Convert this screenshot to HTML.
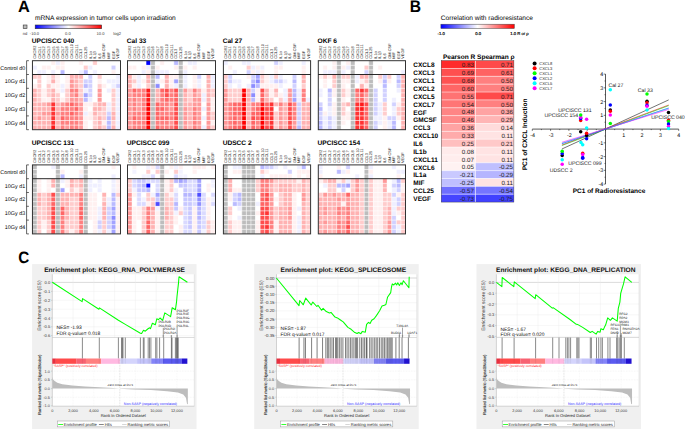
<!DOCTYPE html>
<html><head><meta charset="utf-8"><style>
html,body{margin:0;padding:0;background:#fff;overflow:hidden}
svg{display:block;font-family:"Liberation Sans",sans-serif;text-rendering:geometricPrecision}
</style></head><body>
<svg width="685" height="429" viewBox="0 0 685 429">
<text x="17.9" y="11.6" font-size="16.4" font-weight="bold" fill="#000">A</text>
<text x="35" y="19.8" font-size="6.6" fill="#000">mRNA expression in tumor cells upon irradiation</text>
<rect x="23.2" y="25" width="3.8" height="3.6" fill="#bbb" stroke="#333" stroke-width="0.6"/>
<defs><linearGradient id="gA" x1="0" x2="1" y1="0" y2="0"><stop offset="0" stop-color="#0000ff"/><stop offset="0.5" stop-color="#ffffff"/><stop offset="1" stop-color="#ff0000"/></linearGradient></defs>
<rect x="35.2" y="25" width="66.4" height="3.7" fill="url(#gA)" stroke="#333" stroke-width="0.6"/>
<text x="22.7" y="34.6" font-size="4.1" fill="#333">nd</text>
<text x="29.8" y="34.6" font-size="4.1" fill="#333">-10.0</text>
<text x="65.1" y="34.6" font-size="4.1" fill="#333">0.0</text>
<text x="96.6" y="34.6" font-size="4.1" fill="#333">10.0</text>
<text x="113.3" y="34.6" font-size="4.1" fill="#333">log2</text>
<text x="31.75" y="42.9" font-size="6.6" font-weight="bold" fill="#000">UPCISCC 040</text>
<text transform="translate(35.97,58.8) rotate(-90)" font-size="3.9" fill="#222">CXCR2</text>
<text transform="translate(40.6,58.8) rotate(-90)" font-size="3.9" fill="#222">CXCL1</text>
<text transform="translate(45.24,58.8) rotate(-90)" font-size="3.9" fill="#222">CXCL2</text>
<text transform="translate(49.87,58.8) rotate(-90)" font-size="3.9" fill="#222">CXCL3</text>
<text transform="translate(54.5,58.8) rotate(-90)" font-size="3.9" fill="#222">CXCL5</text>
<text transform="translate(59.14,58.8) rotate(-90)" font-size="3.9" fill="#222">CXCL6</text>
<text transform="translate(63.77,58.8) rotate(-90)" font-size="3.9" fill="#222">CXCL7</text>
<text transform="translate(68.41,58.8) rotate(-90)" font-size="3.9" fill="#222">CXCL8</text>
<text transform="translate(73.04,58.8) rotate(-90)" font-size="3.9" fill="#222">CXCL10</text>
<text transform="translate(77.67,58.8) rotate(-90)" font-size="3.9" fill="#222">CXCL11</text>
<text transform="translate(82.31,58.8) rotate(-90)" font-size="3.9" fill="#222">CCL3</text>
<text transform="translate(86.94,58.8) rotate(-90)" font-size="3.9" fill="#222">CCL25</text>
<text transform="translate(91.58,58.8) rotate(-90)" font-size="3.9" fill="#222">IL1α</text>
<text transform="translate(96.21,58.8) rotate(-90)" font-size="3.9" fill="#222">IL1β</text>
<text transform="translate(100.85,58.8) rotate(-90)" font-size="3.9" fill="#222">IL6</text>
<text transform="translate(105.48,58.8) rotate(-90)" font-size="3.9" fill="#222">GM-CSF</text>
<text transform="translate(110.11,58.8) rotate(-90)" font-size="3.9" fill="#222">MIF</text>
<text transform="translate(114.75,58.8) rotate(-90)" font-size="3.9" fill="#222">EGF</text>
<text transform="translate(119.38,58.8) rotate(-90)" font-size="3.9" fill="#222">VEGF</text>
<rect x="32.45" y="60.7" width="4.63" height="4.6" fill="#ffffff"/>
<rect x="37.08" y="60.7" width="4.63" height="4.6" fill="#ffffff"/>
<rect x="41.72" y="60.7" width="4.63" height="4.6" fill="#ffffff"/>
<rect x="46.35" y="60.7" width="4.63" height="4.6" fill="#ffffff"/>
<rect x="50.99" y="60.7" width="4.63" height="4.6" fill="#fff0f0"/>
<rect x="55.62" y="60.7" width="4.63" height="4.6" fill="#efefff"/>
<rect x="60.26" y="60.7" width="4.63" height="4.6" fill="#fff0f0"/>
<rect x="64.89" y="60.7" width="4.63" height="4.6" fill="#ffffff"/>
<rect x="69.52" y="60.7" width="4.63" height="4.6" fill="#ffffff"/>
<rect x="74.16" y="60.7" width="4.63" height="4.6" fill="#ffffff"/>
<rect x="78.79" y="60.7" width="4.63" height="4.6" fill="#fff0f0"/>
<rect x="83.43" y="60.7" width="4.63" height="4.6" fill="#ffffff"/>
<rect x="88.06" y="60.7" width="4.63" height="4.6" fill="#ffffff"/>
<rect x="92.69" y="60.7" width="4.63" height="4.6" fill="#ffcccc"/>
<rect x="97.33" y="60.7" width="4.63" height="4.6" fill="#ffffff"/>
<rect x="101.96" y="60.7" width="4.63" height="4.6" fill="#ffffff"/>
<rect x="106.6" y="60.7" width="4.63" height="4.6" fill="#ffffff"/>
<rect x="111.23" y="60.7" width="4.63" height="4.6" fill="#ffffff"/>
<rect x="115.87" y="60.7" width="4.63" height="4.6" fill="#ffffff"/>
<rect x="32.45" y="65.3" width="4.63" height="4.6" fill="#efefff"/>
<rect x="37.08" y="65.3" width="4.63" height="4.6" fill="#ffffff"/>
<rect x="41.72" y="65.3" width="4.63" height="4.6" fill="#fff0f0"/>
<rect x="46.35" y="65.3" width="4.63" height="4.6" fill="#fff0f0"/>
<rect x="50.99" y="65.3" width="4.63" height="4.6" fill="#ffffff"/>
<rect x="55.62" y="65.3" width="4.63" height="4.6" fill="#fff0f0"/>
<rect x="60.26" y="65.3" width="4.63" height="4.6" fill="#fff0f0"/>
<rect x="64.89" y="65.3" width="4.63" height="4.6" fill="#ffffff"/>
<rect x="69.52" y="65.3" width="4.63" height="4.6" fill="#ffffff"/>
<rect x="74.16" y="65.3" width="4.63" height="4.6" fill="#ffffff"/>
<rect x="78.79" y="65.3" width="4.63" height="4.6" fill="#ffffff"/>
<rect x="83.43" y="65.3" width="4.63" height="4.6" fill="#ffcccc"/>
<rect x="88.06" y="65.3" width="4.63" height="4.6" fill="#efefff"/>
<rect x="92.69" y="65.3" width="4.63" height="4.6" fill="#ffffff"/>
<rect x="97.33" y="65.3" width="4.63" height="4.6" fill="#ffffff"/>
<rect x="101.96" y="65.3" width="4.63" height="4.6" fill="#ffffff"/>
<rect x="106.6" y="65.3" width="4.63" height="4.6" fill="#ffffff"/>
<rect x="111.23" y="65.3" width="4.63" height="4.6" fill="#d1d1ff"/>
<rect x="115.87" y="65.3" width="4.63" height="4.6" fill="#ffffff"/>
<rect x="32.45" y="69.9" width="4.63" height="4.6" fill="#ffffff"/>
<rect x="37.08" y="69.9" width="4.63" height="4.6" fill="#efefff"/>
<rect x="41.72" y="69.9" width="4.63" height="4.6" fill="#efefff"/>
<rect x="46.35" y="69.9" width="4.63" height="4.6" fill="#ffffff"/>
<rect x="50.99" y="69.9" width="4.63" height="4.6" fill="#efefff"/>
<rect x="55.62" y="69.9" width="4.63" height="4.6" fill="#ffffff"/>
<rect x="60.26" y="69.9" width="4.63" height="4.6" fill="#babaff"/>
<rect x="64.89" y="69.9" width="4.63" height="4.6" fill="#ffffff"/>
<rect x="69.52" y="69.9" width="4.63" height="4.6" fill="#ffffff"/>
<rect x="74.16" y="69.9" width="4.63" height="4.6" fill="#ffffff"/>
<rect x="78.79" y="69.9" width="4.63" height="4.6" fill="#efefff"/>
<rect x="83.43" y="69.9" width="4.63" height="4.6" fill="#babaff"/>
<rect x="88.06" y="69.9" width="4.63" height="4.6" fill="#ffffff"/>
<rect x="92.69" y="69.9" width="4.63" height="4.6" fill="#efefff"/>
<rect x="97.33" y="69.9" width="4.63" height="4.6" fill="#ffffff"/>
<rect x="101.96" y="69.9" width="4.63" height="4.6" fill="#ffffff"/>
<rect x="106.6" y="69.9" width="4.63" height="4.6" fill="#ffffff"/>
<rect x="111.23" y="69.9" width="4.63" height="4.6" fill="#fff0f0"/>
<rect x="115.87" y="69.9" width="4.63" height="4.6" fill="#ffffff"/>
<rect x="32.45" y="74.5" width="4.63" height="4.6" fill="#ffcccc"/>
<rect x="37.08" y="74.5" width="4.63" height="4.6" fill="#ffcccc"/>
<rect x="41.72" y="74.5" width="4.63" height="4.6" fill="#ffffff"/>
<rect x="46.35" y="74.5" width="4.63" height="4.6" fill="#fff0f0"/>
<rect x="50.99" y="74.5" width="4.63" height="4.6" fill="#ffcccc"/>
<rect x="55.62" y="74.5" width="4.63" height="4.6" fill="#fff0f0"/>
<rect x="60.26" y="74.5" width="4.63" height="4.6" fill="#ffffff"/>
<rect x="64.89" y="74.5" width="4.63" height="4.6" fill="#fff0f0"/>
<rect x="69.52" y="74.5" width="4.63" height="4.6" fill="#ffb2b2"/>
<rect x="74.16" y="74.5" width="4.63" height="4.6" fill="#ffb2b2"/>
<rect x="78.79" y="74.5" width="4.63" height="4.6" fill="#ffb2b2"/>
<rect x="83.43" y="74.5" width="4.63" height="4.6" fill="#ffffff"/>
<rect x="88.06" y="74.5" width="4.63" height="4.6" fill="#d1d1ff"/>
<rect x="92.69" y="74.5" width="4.63" height="4.6" fill="#ffffff"/>
<rect x="97.33" y="74.5" width="4.63" height="4.6" fill="#ffcccc"/>
<rect x="101.96" y="74.5" width="4.63" height="4.6" fill="#ffffff"/>
<rect x="106.6" y="74.5" width="4.63" height="4.6" fill="#ffffff"/>
<rect x="111.23" y="74.5" width="4.63" height="4.6" fill="#ffffff"/>
<rect x="115.87" y="74.5" width="4.63" height="4.6" fill="#efefff"/>
<rect x="32.45" y="79.1" width="4.63" height="4.6" fill="#ffffff"/>
<rect x="37.08" y="79.1" width="4.63" height="4.6" fill="#ffcccc"/>
<rect x="41.72" y="79.1" width="4.63" height="4.6" fill="#ffffff"/>
<rect x="46.35" y="79.1" width="4.63" height="4.6" fill="#fff0f0"/>
<rect x="50.99" y="79.1" width="4.63" height="4.6" fill="#ffb2b2"/>
<rect x="55.62" y="79.1" width="4.63" height="4.6" fill="#fff0f0"/>
<rect x="60.26" y="79.1" width="4.63" height="4.6" fill="#ffffff"/>
<rect x="64.89" y="79.1" width="4.63" height="4.6" fill="#fff0f0"/>
<rect x="69.52" y="79.1" width="4.63" height="4.6" fill="#ff9999"/>
<rect x="74.16" y="79.1" width="4.63" height="4.6" fill="#ffb2b2"/>
<rect x="78.79" y="79.1" width="4.63" height="4.6" fill="#ffcccc"/>
<rect x="83.43" y="79.1" width="4.63" height="4.6" fill="#d1d1ff"/>
<rect x="88.06" y="79.1" width="4.63" height="4.6" fill="#d1d1ff"/>
<rect x="92.69" y="79.1" width="4.63" height="4.6" fill="#ffffff"/>
<rect x="97.33" y="79.1" width="4.63" height="4.6" fill="#fff0f0"/>
<rect x="101.96" y="79.1" width="4.63" height="4.6" fill="#ffffff"/>
<rect x="106.6" y="79.1" width="4.63" height="4.6" fill="#efefff"/>
<rect x="111.23" y="79.1" width="4.63" height="4.6" fill="#efefff"/>
<rect x="115.87" y="79.1" width="4.63" height="4.6" fill="#efefff"/>
<rect x="32.45" y="83.7" width="4.63" height="4.6" fill="#fff0f0"/>
<rect x="37.08" y="83.7" width="4.63" height="4.6" fill="#ffcccc"/>
<rect x="41.72" y="83.7" width="4.63" height="4.6" fill="#ffffff"/>
<rect x="46.35" y="83.7" width="4.63" height="4.6" fill="#ffcccc"/>
<rect x="50.99" y="83.7" width="4.63" height="4.6" fill="#fff0f0"/>
<rect x="55.62" y="83.7" width="4.63" height="4.6" fill="#fff0f0"/>
<rect x="60.26" y="83.7" width="4.63" height="4.6" fill="#efefff"/>
<rect x="64.89" y="83.7" width="4.63" height="4.6" fill="#fff0f0"/>
<rect x="69.52" y="83.7" width="4.63" height="4.6" fill="#ff9999"/>
<rect x="74.16" y="83.7" width="4.63" height="4.6" fill="#ffb2b2"/>
<rect x="78.79" y="83.7" width="4.63" height="4.6" fill="#ffcccc"/>
<rect x="83.43" y="83.7" width="4.63" height="4.6" fill="#babaff"/>
<rect x="88.06" y="83.7" width="4.63" height="4.6" fill="#d1d1ff"/>
<rect x="92.69" y="83.7" width="4.63" height="4.6" fill="#ffffff"/>
<rect x="97.33" y="83.7" width="4.63" height="4.6" fill="#ffcccc"/>
<rect x="101.96" y="83.7" width="4.63" height="4.6" fill="#fff0f0"/>
<rect x="106.6" y="83.7" width="4.63" height="4.6" fill="#ffffff"/>
<rect x="111.23" y="83.7" width="4.63" height="4.6" fill="#efefff"/>
<rect x="115.87" y="83.7" width="4.63" height="4.6" fill="#d1d1ff"/>
<rect x="32.45" y="88.3" width="4.63" height="4.6" fill="#ffb2b2"/>
<rect x="37.08" y="88.3" width="4.63" height="4.6" fill="#ffcccc"/>
<rect x="41.72" y="88.3" width="4.63" height="4.6" fill="#fff0f0"/>
<rect x="46.35" y="88.3" width="4.63" height="4.6" fill="#ffcccc"/>
<rect x="50.99" y="88.3" width="4.63" height="4.6" fill="#ffb2b2"/>
<rect x="55.62" y="88.3" width="4.63" height="4.6" fill="#fff0f0"/>
<rect x="60.26" y="88.3" width="4.63" height="4.6" fill="#efefff"/>
<rect x="64.89" y="88.3" width="4.63" height="4.6" fill="#ffcccc"/>
<rect x="69.52" y="88.3" width="4.63" height="4.6" fill="#ff8080"/>
<rect x="74.16" y="88.3" width="4.63" height="4.6" fill="#ff8080"/>
<rect x="78.79" y="88.3" width="4.63" height="4.6" fill="#ffcccc"/>
<rect x="83.43" y="88.3" width="4.63" height="4.6" fill="#efefff"/>
<rect x="88.06" y="88.3" width="4.63" height="4.6" fill="#d1d1ff"/>
<rect x="92.69" y="88.3" width="4.63" height="4.6" fill="#ffffff"/>
<rect x="97.33" y="88.3" width="4.63" height="4.6" fill="#ff9999"/>
<rect x="101.96" y="88.3" width="4.63" height="4.6" fill="#ffffff"/>
<rect x="106.6" y="88.3" width="4.63" height="4.6" fill="#efefff"/>
<rect x="111.23" y="88.3" width="4.63" height="4.6" fill="#ffcccc"/>
<rect x="115.87" y="88.3" width="4.63" height="4.6" fill="#efefff"/>
<rect x="32.45" y="92.9" width="4.63" height="4.6" fill="#ffb2b2"/>
<rect x="37.08" y="92.9" width="4.63" height="4.6" fill="#ffcccc"/>
<rect x="41.72" y="92.9" width="4.63" height="4.6" fill="#fff0f0"/>
<rect x="46.35" y="92.9" width="4.63" height="4.6" fill="#ffcccc"/>
<rect x="50.99" y="92.9" width="4.63" height="4.6" fill="#ffb2b2"/>
<rect x="55.62" y="92.9" width="4.63" height="4.6" fill="#ffcccc"/>
<rect x="60.26" y="92.9" width="4.63" height="4.6" fill="#ffffff"/>
<rect x="64.89" y="92.9" width="4.63" height="4.6" fill="#ffcccc"/>
<rect x="69.52" y="92.9" width="4.63" height="4.6" fill="#ff9999"/>
<rect x="74.16" y="92.9" width="4.63" height="4.6" fill="#ff8080"/>
<rect x="78.79" y="92.9" width="4.63" height="4.6" fill="#ffcccc"/>
<rect x="83.43" y="92.9" width="4.63" height="4.6" fill="#a3a3ff"/>
<rect x="88.06" y="92.9" width="4.63" height="4.6" fill="#d1d1ff"/>
<rect x="92.69" y="92.9" width="4.63" height="4.6" fill="#ffffff"/>
<rect x="97.33" y="92.9" width="4.63" height="4.6" fill="#ff9999"/>
<rect x="101.96" y="92.9" width="4.63" height="4.6" fill="#ffffff"/>
<rect x="106.6" y="92.9" width="4.63" height="4.6" fill="#ffffff"/>
<rect x="111.23" y="92.9" width="4.63" height="4.6" fill="#ffcccc"/>
<rect x="115.87" y="92.9" width="4.63" height="4.6" fill="#efefff"/>
<rect x="32.45" y="97.5" width="4.63" height="4.6" fill="#ffb2b2"/>
<rect x="37.08" y="97.5" width="4.63" height="4.6" fill="#ffcccc"/>
<rect x="41.72" y="97.5" width="4.63" height="4.6" fill="#fff0f0"/>
<rect x="46.35" y="97.5" width="4.63" height="4.6" fill="#fff0f0"/>
<rect x="50.99" y="97.5" width="4.63" height="4.6" fill="#ffb2b2"/>
<rect x="55.62" y="97.5" width="4.63" height="4.6" fill="#ffcccc"/>
<rect x="60.26" y="97.5" width="4.63" height="4.6" fill="#fff0f0"/>
<rect x="64.89" y="97.5" width="4.63" height="4.6" fill="#ffcccc"/>
<rect x="69.52" y="97.5" width="4.63" height="4.6" fill="#ff9999"/>
<rect x="74.16" y="97.5" width="4.63" height="4.6" fill="#ff9999"/>
<rect x="78.79" y="97.5" width="4.63" height="4.6" fill="#ffb2b2"/>
<rect x="83.43" y="97.5" width="4.63" height="4.6" fill="#babaff"/>
<rect x="88.06" y="97.5" width="4.63" height="4.6" fill="#efefff"/>
<rect x="92.69" y="97.5" width="4.63" height="4.6" fill="#ffffff"/>
<rect x="97.33" y="97.5" width="4.63" height="4.6" fill="#ff9999"/>
<rect x="101.96" y="97.5" width="4.63" height="4.6" fill="#ffffff"/>
<rect x="106.6" y="97.5" width="4.63" height="4.6" fill="#ffffff"/>
<rect x="111.23" y="97.5" width="4.63" height="4.6" fill="#ffcccc"/>
<rect x="115.87" y="97.5" width="4.63" height="4.6" fill="#efefff"/>
<rect x="32.45" y="102.1" width="4.63" height="4.6" fill="#ffb2b2"/>
<rect x="37.08" y="102.1" width="4.63" height="4.6" fill="#ffb2b2"/>
<rect x="41.72" y="102.1" width="4.63" height="4.6" fill="#ffb2b2"/>
<rect x="46.35" y="102.1" width="4.63" height="4.6" fill="#ff9999"/>
<rect x="50.99" y="102.1" width="4.63" height="4.6" fill="#ff3333"/>
<rect x="55.62" y="102.1" width="4.63" height="4.6" fill="#ffb2b2"/>
<rect x="60.26" y="102.1" width="4.63" height="4.6" fill="#ff9999"/>
<rect x="64.89" y="102.1" width="4.63" height="4.6" fill="#ff8080"/>
<rect x="69.52" y="102.1" width="4.63" height="4.6" fill="#ff6666"/>
<rect x="74.16" y="102.1" width="4.63" height="4.6" fill="#ff8080"/>
<rect x="78.79" y="102.1" width="4.63" height="4.6" fill="#ff9999"/>
<rect x="83.43" y="102.1" width="4.63" height="4.6" fill="#fff0f0"/>
<rect x="88.06" y="102.1" width="4.63" height="4.6" fill="#fff0f0"/>
<rect x="92.69" y="102.1" width="4.63" height="4.6" fill="#ffcccc"/>
<rect x="97.33" y="102.1" width="4.63" height="4.6" fill="#ffb2b2"/>
<rect x="101.96" y="102.1" width="4.63" height="4.6" fill="#ffb2b2"/>
<rect x="106.6" y="102.1" width="4.63" height="4.6" fill="#efefff"/>
<rect x="111.23" y="102.1" width="4.63" height="4.6" fill="#ffcccc"/>
<rect x="115.87" y="102.1" width="4.63" height="4.6" fill="#efefff"/>
<rect x="32.45" y="106.7" width="4.63" height="4.6" fill="#ffb2b2"/>
<rect x="37.08" y="106.7" width="4.63" height="4.6" fill="#ffb2b2"/>
<rect x="41.72" y="106.7" width="4.63" height="4.6" fill="#ffb2b2"/>
<rect x="46.35" y="106.7" width="4.63" height="4.6" fill="#ffb2b2"/>
<rect x="50.99" y="106.7" width="4.63" height="4.6" fill="#ff3333"/>
<rect x="55.62" y="106.7" width="4.63" height="4.6" fill="#ffb2b2"/>
<rect x="60.26" y="106.7" width="4.63" height="4.6" fill="#ff8080"/>
<rect x="64.89" y="106.7" width="4.63" height="4.6" fill="#ff8080"/>
<rect x="69.52" y="106.7" width="4.63" height="4.6" fill="#ff8080"/>
<rect x="74.16" y="106.7" width="4.63" height="4.6" fill="#ff6666"/>
<rect x="78.79" y="106.7" width="4.63" height="4.6" fill="#ff9999"/>
<rect x="83.43" y="106.7" width="4.63" height="4.6" fill="#fff0f0"/>
<rect x="88.06" y="106.7" width="4.63" height="4.6" fill="#ffffff"/>
<rect x="92.69" y="106.7" width="4.63" height="4.6" fill="#ffb2b2"/>
<rect x="97.33" y="106.7" width="4.63" height="4.6" fill="#ffb2b2"/>
<rect x="101.96" y="106.7" width="4.63" height="4.6" fill="#ffcccc"/>
<rect x="106.6" y="106.7" width="4.63" height="4.6" fill="#efefff"/>
<rect x="111.23" y="106.7" width="4.63" height="4.6" fill="#ffcccc"/>
<rect x="115.87" y="106.7" width="4.63" height="4.6" fill="#efefff"/>
<rect x="32.45" y="111.3" width="4.63" height="4.6" fill="#ffb2b2"/>
<rect x="37.08" y="111.3" width="4.63" height="4.6" fill="#ffb2b2"/>
<rect x="41.72" y="111.3" width="4.63" height="4.6" fill="#ff9999"/>
<rect x="46.35" y="111.3" width="4.63" height="4.6" fill="#ff9999"/>
<rect x="50.99" y="111.3" width="4.63" height="4.6" fill="#ff3333"/>
<rect x="55.62" y="111.3" width="4.63" height="4.6" fill="#ff9999"/>
<rect x="60.26" y="111.3" width="4.63" height="4.6" fill="#ff8080"/>
<rect x="64.89" y="111.3" width="4.63" height="4.6" fill="#ff8080"/>
<rect x="69.52" y="111.3" width="4.63" height="4.6" fill="#ff6666"/>
<rect x="74.16" y="111.3" width="4.63" height="4.6" fill="#ff8080"/>
<rect x="78.79" y="111.3" width="4.63" height="4.6" fill="#ff9999"/>
<rect x="83.43" y="111.3" width="4.63" height="4.6" fill="#efefff"/>
<rect x="88.06" y="111.3" width="4.63" height="4.6" fill="#fff0f0"/>
<rect x="92.69" y="111.3" width="4.63" height="4.6" fill="#ffb2b2"/>
<rect x="97.33" y="111.3" width="4.63" height="4.6" fill="#ffcccc"/>
<rect x="101.96" y="111.3" width="4.63" height="4.6" fill="#ffcccc"/>
<rect x="106.6" y="111.3" width="4.63" height="4.6" fill="#d1d1ff"/>
<rect x="111.23" y="111.3" width="4.63" height="4.6" fill="#ffb2b2"/>
<rect x="115.87" y="111.3" width="4.63" height="4.6" fill="#efefff"/>
<rect x="32.45" y="115.9" width="4.63" height="4.6" fill="#ffb2b2"/>
<rect x="37.08" y="115.9" width="4.63" height="4.6" fill="#ff9999"/>
<rect x="41.72" y="115.9" width="4.63" height="4.6" fill="#ffb2b2"/>
<rect x="46.35" y="115.9" width="4.63" height="4.6" fill="#ffb2b2"/>
<rect x="50.99" y="115.9" width="4.63" height="4.6" fill="#ff3333"/>
<rect x="55.62" y="115.9" width="4.63" height="4.6" fill="#ffb2b2"/>
<rect x="60.26" y="115.9" width="4.63" height="4.6" fill="#ff6666"/>
<rect x="64.89" y="115.9" width="4.63" height="4.6" fill="#ff8080"/>
<rect x="69.52" y="115.9" width="4.63" height="4.6" fill="#ff8080"/>
<rect x="74.16" y="115.9" width="4.63" height="4.6" fill="#ff8080"/>
<rect x="78.79" y="115.9" width="4.63" height="4.6" fill="#ff9999"/>
<rect x="83.43" y="115.9" width="4.63" height="4.6" fill="#fff0f0"/>
<rect x="88.06" y="115.9" width="4.63" height="4.6" fill="#fff0f0"/>
<rect x="92.69" y="115.9" width="4.63" height="4.6" fill="#ffcccc"/>
<rect x="97.33" y="115.9" width="4.63" height="4.6" fill="#ffb2b2"/>
<rect x="101.96" y="115.9" width="4.63" height="4.6" fill="#ffcccc"/>
<rect x="106.6" y="115.9" width="4.63" height="4.6" fill="#babaff"/>
<rect x="111.23" y="115.9" width="4.63" height="4.6" fill="#ffb2b2"/>
<rect x="115.87" y="115.9" width="4.63" height="4.6" fill="#efefff"/>
<rect x="32.45" y="120.5" width="4.63" height="4.6" fill="#ffb2b2"/>
<rect x="37.08" y="120.5" width="4.63" height="4.6" fill="#ffb2b2"/>
<rect x="41.72" y="120.5" width="4.63" height="4.6" fill="#ffb2b2"/>
<rect x="46.35" y="120.5" width="4.63" height="4.6" fill="#ffb2b2"/>
<rect x="50.99" y="120.5" width="4.63" height="4.6" fill="#ff3333"/>
<rect x="55.62" y="120.5" width="4.63" height="4.6" fill="#ffb2b2"/>
<rect x="60.26" y="120.5" width="4.63" height="4.6" fill="#ff8080"/>
<rect x="64.89" y="120.5" width="4.63" height="4.6" fill="#ff8080"/>
<rect x="69.52" y="120.5" width="4.63" height="4.6" fill="#ff8080"/>
<rect x="74.16" y="120.5" width="4.63" height="4.6" fill="#ff8080"/>
<rect x="78.79" y="120.5" width="4.63" height="4.6" fill="#ff9999"/>
<rect x="83.43" y="120.5" width="4.63" height="4.6" fill="#fff0f0"/>
<rect x="88.06" y="120.5" width="4.63" height="4.6" fill="#ffffff"/>
<rect x="92.69" y="120.5" width="4.63" height="4.6" fill="#ffcccc"/>
<rect x="97.33" y="120.5" width="4.63" height="4.6" fill="#ffb2b2"/>
<rect x="101.96" y="120.5" width="4.63" height="4.6" fill="#fff0f0"/>
<rect x="106.6" y="120.5" width="4.63" height="4.6" fill="#babaff"/>
<rect x="111.23" y="120.5" width="4.63" height="4.6" fill="#ffcccc"/>
<rect x="115.87" y="120.5" width="4.63" height="4.6" fill="#efefff"/>
<rect x="32.45" y="125.1" width="4.63" height="4.6" fill="#ffb2b2"/>
<rect x="37.08" y="125.1" width="4.63" height="4.6" fill="#ffb2b2"/>
<rect x="41.72" y="125.1" width="4.63" height="4.6" fill="#ffb2b2"/>
<rect x="46.35" y="125.1" width="4.63" height="4.6" fill="#ffb2b2"/>
<rect x="50.99" y="125.1" width="4.63" height="4.6" fill="#ff1919"/>
<rect x="55.62" y="125.1" width="4.63" height="4.6" fill="#ffb2b2"/>
<rect x="60.26" y="125.1" width="4.63" height="4.6" fill="#ff8080"/>
<rect x="64.89" y="125.1" width="4.63" height="4.6" fill="#ff9999"/>
<rect x="69.52" y="125.1" width="4.63" height="4.6" fill="#ff8080"/>
<rect x="74.16" y="125.1" width="4.63" height="4.6" fill="#ff8080"/>
<rect x="78.79" y="125.1" width="4.63" height="4.6" fill="#ff9999"/>
<rect x="83.43" y="125.1" width="4.63" height="4.6" fill="#fff0f0"/>
<rect x="88.06" y="125.1" width="4.63" height="4.6" fill="#ffffff"/>
<rect x="92.69" y="125.1" width="4.63" height="4.6" fill="#ffcccc"/>
<rect x="97.33" y="125.1" width="4.63" height="4.6" fill="#ffb2b2"/>
<rect x="101.96" y="125.1" width="4.63" height="4.6" fill="#ffcccc"/>
<rect x="106.6" y="125.1" width="4.63" height="4.6" fill="#babaff"/>
<rect x="111.23" y="125.1" width="4.63" height="4.6" fill="#ffb2b2"/>
<rect x="115.87" y="125.1" width="4.63" height="4.6" fill="#efefff"/>
<line x1="37.08" y1="60.7" x2="37.08" y2="129.7" stroke="#fff" stroke-width="0.55"/>
<line x1="41.72" y1="60.7" x2="41.72" y2="129.7" stroke="#fff" stroke-width="0.55"/>
<line x1="46.35" y1="60.7" x2="46.35" y2="129.7" stroke="#fff" stroke-width="0.55"/>
<line x1="50.99" y1="60.7" x2="50.99" y2="129.7" stroke="#fff" stroke-width="0.55"/>
<line x1="55.62" y1="60.7" x2="55.62" y2="129.7" stroke="#fff" stroke-width="0.55"/>
<line x1="60.26" y1="60.7" x2="60.26" y2="129.7" stroke="#fff" stroke-width="0.55"/>
<line x1="64.89" y1="60.7" x2="64.89" y2="129.7" stroke="#fff" stroke-width="0.55"/>
<line x1="69.52" y1="60.7" x2="69.52" y2="129.7" stroke="#fff" stroke-width="0.55"/>
<line x1="74.16" y1="60.7" x2="74.16" y2="129.7" stroke="#fff" stroke-width="0.55"/>
<line x1="78.79" y1="60.7" x2="78.79" y2="129.7" stroke="#fff" stroke-width="0.55"/>
<line x1="83.43" y1="60.7" x2="83.43" y2="129.7" stroke="#fff" stroke-width="0.55"/>
<line x1="88.06" y1="60.7" x2="88.06" y2="129.7" stroke="#fff" stroke-width="0.55"/>
<line x1="92.69" y1="60.7" x2="92.69" y2="129.7" stroke="#fff" stroke-width="0.55"/>
<line x1="97.33" y1="60.7" x2="97.33" y2="129.7" stroke="#fff" stroke-width="0.55"/>
<line x1="101.96" y1="60.7" x2="101.96" y2="129.7" stroke="#fff" stroke-width="0.55"/>
<line x1="106.6" y1="60.7" x2="106.6" y2="129.7" stroke="#fff" stroke-width="0.55"/>
<line x1="111.23" y1="60.7" x2="111.23" y2="129.7" stroke="#fff" stroke-width="0.55"/>
<line x1="115.87" y1="60.7" x2="115.87" y2="129.7" stroke="#fff" stroke-width="0.55"/>
<line x1="32.45" y1="65.3" x2="120.5" y2="65.3" stroke="#fff" stroke-width="0.55"/>
<line x1="32.45" y1="69.9" x2="120.5" y2="69.9" stroke="#fff" stroke-width="0.55"/>
<line x1="32.45" y1="79.1" x2="120.5" y2="79.1" stroke="#fff" stroke-width="0.55"/>
<line x1="32.45" y1="83.7" x2="120.5" y2="83.7" stroke="#fff" stroke-width="0.55"/>
<line x1="32.45" y1="88.3" x2="120.5" y2="88.3" stroke="#fff" stroke-width="0.55"/>
<line x1="32.45" y1="92.9" x2="120.5" y2="92.9" stroke="#fff" stroke-width="0.55"/>
<line x1="32.45" y1="97.5" x2="120.5" y2="97.5" stroke="#fff" stroke-width="0.55"/>
<line x1="32.45" y1="102.1" x2="120.5" y2="102.1" stroke="#fff" stroke-width="0.55"/>
<line x1="32.45" y1="106.7" x2="120.5" y2="106.7" stroke="#fff" stroke-width="0.55"/>
<line x1="32.45" y1="111.3" x2="120.5" y2="111.3" stroke="#fff" stroke-width="0.55"/>
<line x1="32.45" y1="115.9" x2="120.5" y2="115.9" stroke="#fff" stroke-width="0.55"/>
<line x1="32.45" y1="120.5" x2="120.5" y2="120.5" stroke="#fff" stroke-width="0.55"/>
<line x1="32.45" y1="125.1" x2="120.5" y2="125.1" stroke="#fff" stroke-width="0.55"/>
<rect x="32.45" y="60.7" width="88.05" height="69" fill="none" stroke="#333" stroke-width="1"/>
<line x1="32.45" y1="74.5" x2="120.5" y2="74.5" stroke="#111" stroke-width="0.9"/>
<text x="126.8" y="42.9" font-size="6.6" font-weight="bold" fill="#000">Cal 33</text>
<text transform="translate(131.02,58.8) rotate(-90)" font-size="3.9" fill="#222">CXCR2</text>
<text transform="translate(135.65,58.8) rotate(-90)" font-size="3.9" fill="#222">CXCL1</text>
<text transform="translate(140.28,58.8) rotate(-90)" font-size="3.9" fill="#222">CXCL2</text>
<text transform="translate(144.91,58.8) rotate(-90)" font-size="3.9" fill="#222">CXCL3</text>
<text transform="translate(149.54,58.8) rotate(-90)" font-size="3.9" fill="#222">CXCL5</text>
<text transform="translate(154.17,58.8) rotate(-90)" font-size="3.9" fill="#222">CXCL6</text>
<text transform="translate(158.81,58.8) rotate(-90)" font-size="3.9" fill="#222">CXCL7</text>
<text transform="translate(163.44,58.8) rotate(-90)" font-size="3.9" fill="#222">CXCL8</text>
<text transform="translate(168.07,58.8) rotate(-90)" font-size="3.9" fill="#222">CXCL10</text>
<text transform="translate(172.7,58.8) rotate(-90)" font-size="3.9" fill="#222">CXCL11</text>
<text transform="translate(177.33,58.8) rotate(-90)" font-size="3.9" fill="#222">CCL3</text>
<text transform="translate(181.96,58.8) rotate(-90)" font-size="3.9" fill="#222">CCL25</text>
<text transform="translate(186.59,58.8) rotate(-90)" font-size="3.9" fill="#222">IL1α</text>
<text transform="translate(191.23,58.8) rotate(-90)" font-size="3.9" fill="#222">IL1β</text>
<text transform="translate(195.86,58.8) rotate(-90)" font-size="3.9" fill="#222">IL6</text>
<text transform="translate(200.49,58.8) rotate(-90)" font-size="3.9" fill="#222">GM-CSF</text>
<text transform="translate(205.12,58.8) rotate(-90)" font-size="3.9" fill="#222">MIF</text>
<text transform="translate(209.75,58.8) rotate(-90)" font-size="3.9" fill="#222">EGF</text>
<text transform="translate(214.38,58.8) rotate(-90)" font-size="3.9" fill="#222">VEGF</text>
<rect x="127.5" y="60.7" width="4.63" height="4.6" fill="#ffffff"/>
<rect x="132.13" y="60.7" width="4.63" height="4.6" fill="#ffffff"/>
<rect x="136.76" y="60.7" width="4.63" height="4.6" fill="#ffffff"/>
<rect x="141.39" y="60.7" width="4.63" height="4.6" fill="#ffffff"/>
<rect x="146.03" y="60.7" width="4.63" height="4.6" fill="#0000ff"/>
<rect x="150.66" y="60.7" width="4.63" height="4.6" fill="#bdbdbd"/>
<rect x="155.29" y="60.7" width="4.63" height="4.6" fill="#ffffff"/>
<rect x="159.92" y="60.7" width="4.63" height="4.6" fill="#fff0f0"/>
<rect x="164.55" y="60.7" width="4.63" height="4.6" fill="#ffffff"/>
<rect x="169.18" y="60.7" width="4.63" height="4.6" fill="#ffffff"/>
<rect x="173.82" y="60.7" width="4.63" height="4.6" fill="#babaff"/>
<rect x="178.45" y="60.7" width="4.63" height="4.6" fill="#bdbdbd"/>
<rect x="183.08" y="60.7" width="4.63" height="4.6" fill="#ffffff"/>
<rect x="187.71" y="60.7" width="4.63" height="4.6" fill="#efefff"/>
<rect x="192.34" y="60.7" width="4.63" height="4.6" fill="#efefff"/>
<rect x="196.97" y="60.7" width="4.63" height="4.6" fill="#ffffff"/>
<rect x="201.61" y="60.7" width="4.63" height="4.6" fill="#ffffff"/>
<rect x="206.24" y="60.7" width="4.63" height="4.6" fill="#ffffff"/>
<rect x="210.87" y="60.7" width="4.63" height="4.6" fill="#ffffff"/>
<rect x="127.5" y="65.3" width="4.63" height="4.6" fill="#fff0f0"/>
<rect x="132.13" y="65.3" width="4.63" height="4.6" fill="#fff0f0"/>
<rect x="136.76" y="65.3" width="4.63" height="4.6" fill="#ffffff"/>
<rect x="141.39" y="65.3" width="4.63" height="4.6" fill="#fff0f0"/>
<rect x="146.03" y="65.3" width="4.63" height="4.6" fill="#efefff"/>
<rect x="150.66" y="65.3" width="4.63" height="4.6" fill="#bdbdbd"/>
<rect x="155.29" y="65.3" width="4.63" height="4.6" fill="#fff0f0"/>
<rect x="159.92" y="65.3" width="4.63" height="4.6" fill="#ffffff"/>
<rect x="164.55" y="65.3" width="4.63" height="4.6" fill="#ffffff"/>
<rect x="169.18" y="65.3" width="4.63" height="4.6" fill="#ffffff"/>
<rect x="173.82" y="65.3" width="4.63" height="4.6" fill="#fff0f0"/>
<rect x="178.45" y="65.3" width="4.63" height="4.6" fill="#bdbdbd"/>
<rect x="183.08" y="65.3" width="4.63" height="4.6" fill="#fff0f0"/>
<rect x="187.71" y="65.3" width="4.63" height="4.6" fill="#ffffff"/>
<rect x="192.34" y="65.3" width="4.63" height="4.6" fill="#fff0f0"/>
<rect x="196.97" y="65.3" width="4.63" height="4.6" fill="#ffffff"/>
<rect x="201.61" y="65.3" width="4.63" height="4.6" fill="#ffffff"/>
<rect x="206.24" y="65.3" width="4.63" height="4.6" fill="#ffffff"/>
<rect x="210.87" y="65.3" width="4.63" height="4.6" fill="#ffffff"/>
<rect x="127.5" y="69.9" width="4.63" height="4.6" fill="#ffffff"/>
<rect x="132.13" y="69.9" width="4.63" height="4.6" fill="#ffffff"/>
<rect x="136.76" y="69.9" width="4.63" height="4.6" fill="#ffffff"/>
<rect x="141.39" y="69.9" width="4.63" height="4.6" fill="#efefff"/>
<rect x="146.03" y="69.9" width="4.63" height="4.6" fill="#fff0f0"/>
<rect x="150.66" y="69.9" width="4.63" height="4.6" fill="#bdbdbd"/>
<rect x="155.29" y="69.9" width="4.63" height="4.6" fill="#efefff"/>
<rect x="159.92" y="69.9" width="4.63" height="4.6" fill="#efefff"/>
<rect x="164.55" y="69.9" width="4.63" height="4.6" fill="#efefff"/>
<rect x="169.18" y="69.9" width="4.63" height="4.6" fill="#ffffff"/>
<rect x="173.82" y="69.9" width="4.63" height="4.6" fill="#ffffff"/>
<rect x="178.45" y="69.9" width="4.63" height="4.6" fill="#bdbdbd"/>
<rect x="183.08" y="69.9" width="4.63" height="4.6" fill="#efefff"/>
<rect x="187.71" y="69.9" width="4.63" height="4.6" fill="#ffffff"/>
<rect x="192.34" y="69.9" width="4.63" height="4.6" fill="#ffffff"/>
<rect x="196.97" y="69.9" width="4.63" height="4.6" fill="#ffffff"/>
<rect x="201.61" y="69.9" width="4.63" height="4.6" fill="#ffffff"/>
<rect x="206.24" y="69.9" width="4.63" height="4.6" fill="#ffffff"/>
<rect x="210.87" y="69.9" width="4.63" height="4.6" fill="#ffffff"/>
<rect x="127.5" y="74.5" width="4.63" height="4.6" fill="#ffb2b2"/>
<rect x="132.13" y="74.5" width="4.63" height="4.6" fill="#fff0f0"/>
<rect x="136.76" y="74.5" width="4.63" height="4.6" fill="#efefff"/>
<rect x="141.39" y="74.5" width="4.63" height="4.6" fill="#ffffff"/>
<rect x="146.03" y="74.5" width="4.63" height="4.6" fill="#ffb2b2"/>
<rect x="150.66" y="74.5" width="4.63" height="4.6" fill="#bdbdbd"/>
<rect x="155.29" y="74.5" width="4.63" height="4.6" fill="#babaff"/>
<rect x="159.92" y="74.5" width="4.63" height="4.6" fill="#ffffff"/>
<rect x="164.55" y="74.5" width="4.63" height="4.6" fill="#ffb2b2"/>
<rect x="169.18" y="74.5" width="4.63" height="4.6" fill="#fff0f0"/>
<rect x="173.82" y="74.5" width="4.63" height="4.6" fill="#fff0f0"/>
<rect x="178.45" y="74.5" width="4.63" height="4.6" fill="#bdbdbd"/>
<rect x="183.08" y="74.5" width="4.63" height="4.6" fill="#efefff"/>
<rect x="187.71" y="74.5" width="4.63" height="4.6" fill="#ffffff"/>
<rect x="192.34" y="74.5" width="4.63" height="4.6" fill="#fff0f0"/>
<rect x="196.97" y="74.5" width="4.63" height="4.6" fill="#d1d1ff"/>
<rect x="201.61" y="74.5" width="4.63" height="4.6" fill="#ffffff"/>
<rect x="206.24" y="74.5" width="4.63" height="4.6" fill="#ffb2b2"/>
<rect x="210.87" y="74.5" width="4.63" height="4.6" fill="#efefff"/>
<rect x="127.5" y="79.1" width="4.63" height="4.6" fill="#ffb2b2"/>
<rect x="132.13" y="79.1" width="4.63" height="4.6" fill="#ffcccc"/>
<rect x="136.76" y="79.1" width="4.63" height="4.6" fill="#efefff"/>
<rect x="141.39" y="79.1" width="4.63" height="4.6" fill="#fff0f0"/>
<rect x="146.03" y="79.1" width="4.63" height="4.6" fill="#ffb2b2"/>
<rect x="150.66" y="79.1" width="4.63" height="4.6" fill="#bdbdbd"/>
<rect x="155.29" y="79.1" width="4.63" height="4.6" fill="#efefff"/>
<rect x="159.92" y="79.1" width="4.63" height="4.6" fill="#fff0f0"/>
<rect x="164.55" y="79.1" width="4.63" height="4.6" fill="#ffb2b2"/>
<rect x="169.18" y="79.1" width="4.63" height="4.6" fill="#fff0f0"/>
<rect x="173.82" y="79.1" width="4.63" height="4.6" fill="#a3a3ff"/>
<rect x="178.45" y="79.1" width="4.63" height="4.6" fill="#bdbdbd"/>
<rect x="183.08" y="79.1" width="4.63" height="4.6" fill="#efefff"/>
<rect x="187.71" y="79.1" width="4.63" height="4.6" fill="#ffffff"/>
<rect x="192.34" y="79.1" width="4.63" height="4.6" fill="#fff0f0"/>
<rect x="196.97" y="79.1" width="4.63" height="4.6" fill="#efefff"/>
<rect x="201.61" y="79.1" width="4.63" height="4.6" fill="#ffffff"/>
<rect x="206.24" y="79.1" width="4.63" height="4.6" fill="#ffb2b2"/>
<rect x="210.87" y="79.1" width="4.63" height="4.6" fill="#efefff"/>
<rect x="127.5" y="83.7" width="4.63" height="4.6" fill="#ffb2b2"/>
<rect x="132.13" y="83.7" width="4.63" height="4.6" fill="#fff0f0"/>
<rect x="136.76" y="83.7" width="4.63" height="4.6" fill="#efefff"/>
<rect x="141.39" y="83.7" width="4.63" height="4.6" fill="#ffffff"/>
<rect x="146.03" y="83.7" width="4.63" height="4.6" fill="#ffcccc"/>
<rect x="150.66" y="83.7" width="4.63" height="4.6" fill="#bdbdbd"/>
<rect x="155.29" y="83.7" width="4.63" height="4.6" fill="#8c8cff"/>
<rect x="159.92" y="83.7" width="4.63" height="4.6" fill="#ffffff"/>
<rect x="164.55" y="83.7" width="4.63" height="4.6" fill="#ffb2b2"/>
<rect x="169.18" y="83.7" width="4.63" height="4.6" fill="#fff0f0"/>
<rect x="173.82" y="83.7" width="4.63" height="4.6" fill="#efefff"/>
<rect x="178.45" y="83.7" width="4.63" height="4.6" fill="#bdbdbd"/>
<rect x="183.08" y="83.7" width="4.63" height="4.6" fill="#efefff"/>
<rect x="187.71" y="83.7" width="4.63" height="4.6" fill="#ffffff"/>
<rect x="192.34" y="83.7" width="4.63" height="4.6" fill="#fff0f0"/>
<rect x="196.97" y="83.7" width="4.63" height="4.6" fill="#efefff"/>
<rect x="201.61" y="83.7" width="4.63" height="4.6" fill="#ffffff"/>
<rect x="206.24" y="83.7" width="4.63" height="4.6" fill="#ffb2b2"/>
<rect x="210.87" y="83.7" width="4.63" height="4.6" fill="#efefff"/>
<rect x="127.5" y="88.3" width="4.63" height="4.6" fill="#ff9999"/>
<rect x="132.13" y="88.3" width="4.63" height="4.6" fill="#ff6666"/>
<rect x="136.76" y="88.3" width="4.63" height="4.6" fill="#ff8080"/>
<rect x="141.39" y="88.3" width="4.63" height="4.6" fill="#ff8080"/>
<rect x="146.03" y="88.3" width="4.63" height="4.6" fill="#ff1919"/>
<rect x="150.66" y="88.3" width="4.63" height="4.6" fill="#bdbdbd"/>
<rect x="155.29" y="88.3" width="4.63" height="4.6" fill="#ffb2b2"/>
<rect x="159.92" y="88.3" width="4.63" height="4.6" fill="#ff6666"/>
<rect x="164.55" y="88.3" width="4.63" height="4.6" fill="#ff4d4d"/>
<rect x="169.18" y="88.3" width="4.63" height="4.6" fill="#ff8080"/>
<rect x="173.82" y="88.3" width="4.63" height="4.6" fill="#ff4d4d"/>
<rect x="178.45" y="88.3" width="4.63" height="4.6" fill="#bdbdbd"/>
<rect x="183.08" y="88.3" width="4.63" height="4.6" fill="#ff9999"/>
<rect x="187.71" y="88.3" width="4.63" height="4.6" fill="#ffcccc"/>
<rect x="192.34" y="88.3" width="4.63" height="4.6" fill="#ff8080"/>
<rect x="196.97" y="88.3" width="4.63" height="4.6" fill="#ffb2b2"/>
<rect x="201.61" y="88.3" width="4.63" height="4.6" fill="#fff0f0"/>
<rect x="206.24" y="88.3" width="4.63" height="4.6" fill="#ffb2b2"/>
<rect x="210.87" y="88.3" width="4.63" height="4.6" fill="#ffcccc"/>
<rect x="127.5" y="92.9" width="4.63" height="4.6" fill="#ff9999"/>
<rect x="132.13" y="92.9" width="4.63" height="4.6" fill="#ff8080"/>
<rect x="136.76" y="92.9" width="4.63" height="4.6" fill="#ff8080"/>
<rect x="141.39" y="92.9" width="4.63" height="4.6" fill="#ff8080"/>
<rect x="146.03" y="92.9" width="4.63" height="4.6" fill="#ff1919"/>
<rect x="150.66" y="92.9" width="4.63" height="4.6" fill="#bdbdbd"/>
<rect x="155.29" y="92.9" width="4.63" height="4.6" fill="#ffb2b2"/>
<rect x="159.92" y="92.9" width="4.63" height="4.6" fill="#ff8080"/>
<rect x="164.55" y="92.9" width="4.63" height="4.6" fill="#ff4d4d"/>
<rect x="169.18" y="92.9" width="4.63" height="4.6" fill="#ff8080"/>
<rect x="173.82" y="92.9" width="4.63" height="4.6" fill="#ff6666"/>
<rect x="178.45" y="92.9" width="4.63" height="4.6" fill="#bdbdbd"/>
<rect x="183.08" y="92.9" width="4.63" height="4.6" fill="#ffb2b2"/>
<rect x="187.71" y="92.9" width="4.63" height="4.6" fill="#ffcccc"/>
<rect x="192.34" y="92.9" width="4.63" height="4.6" fill="#ff9999"/>
<rect x="196.97" y="92.9" width="4.63" height="4.6" fill="#ffb2b2"/>
<rect x="201.61" y="92.9" width="4.63" height="4.6" fill="#efefff"/>
<rect x="206.24" y="92.9" width="4.63" height="4.6" fill="#ffb2b2"/>
<rect x="210.87" y="92.9" width="4.63" height="4.6" fill="#ffcccc"/>
<rect x="127.5" y="97.5" width="4.63" height="4.6" fill="#ff9999"/>
<rect x="132.13" y="97.5" width="4.63" height="4.6" fill="#ff8080"/>
<rect x="136.76" y="97.5" width="4.63" height="4.6" fill="#ff9999"/>
<rect x="141.39" y="97.5" width="4.63" height="4.6" fill="#ff8080"/>
<rect x="146.03" y="97.5" width="4.63" height="4.6" fill="#ff1919"/>
<rect x="150.66" y="97.5" width="4.63" height="4.6" fill="#bdbdbd"/>
<rect x="155.29" y="97.5" width="4.63" height="4.6" fill="#ffb2b2"/>
<rect x="159.92" y="97.5" width="4.63" height="4.6" fill="#ff8080"/>
<rect x="164.55" y="97.5" width="4.63" height="4.6" fill="#ff6666"/>
<rect x="169.18" y="97.5" width="4.63" height="4.6" fill="#ff8080"/>
<rect x="173.82" y="97.5" width="4.63" height="4.6" fill="#ff6666"/>
<rect x="178.45" y="97.5" width="4.63" height="4.6" fill="#bdbdbd"/>
<rect x="183.08" y="97.5" width="4.63" height="4.6" fill="#ffb2b2"/>
<rect x="187.71" y="97.5" width="4.63" height="4.6" fill="#ffcccc"/>
<rect x="192.34" y="97.5" width="4.63" height="4.6" fill="#ff9999"/>
<rect x="196.97" y="97.5" width="4.63" height="4.6" fill="#ff9999"/>
<rect x="201.61" y="97.5" width="4.63" height="4.6" fill="#efefff"/>
<rect x="206.24" y="97.5" width="4.63" height="4.6" fill="#ffb2b2"/>
<rect x="210.87" y="97.5" width="4.63" height="4.6" fill="#fff0f0"/>
<rect x="127.5" y="102.1" width="4.63" height="4.6" fill="#ff9999"/>
<rect x="132.13" y="102.1" width="4.63" height="4.6" fill="#ff8080"/>
<rect x="136.76" y="102.1" width="4.63" height="4.6" fill="#ff9999"/>
<rect x="141.39" y="102.1" width="4.63" height="4.6" fill="#ff8080"/>
<rect x="146.03" y="102.1" width="4.63" height="4.6" fill="#ff0000"/>
<rect x="150.66" y="102.1" width="4.63" height="4.6" fill="#bdbdbd"/>
<rect x="155.29" y="102.1" width="4.63" height="4.6" fill="#ff6666"/>
<rect x="159.92" y="102.1" width="4.63" height="4.6" fill="#ff8080"/>
<rect x="164.55" y="102.1" width="4.63" height="4.6" fill="#ff8080"/>
<rect x="169.18" y="102.1" width="4.63" height="4.6" fill="#ff9999"/>
<rect x="173.82" y="102.1" width="4.63" height="4.6" fill="#ff4d4d"/>
<rect x="178.45" y="102.1" width="4.63" height="4.6" fill="#bdbdbd"/>
<rect x="183.08" y="102.1" width="4.63" height="4.6" fill="#ffb2b2"/>
<rect x="187.71" y="102.1" width="4.63" height="4.6" fill="#ffb2b2"/>
<rect x="192.34" y="102.1" width="4.63" height="4.6" fill="#ff9999"/>
<rect x="196.97" y="102.1" width="4.63" height="4.6" fill="#ff9999"/>
<rect x="201.61" y="102.1" width="4.63" height="4.6" fill="#ffffff"/>
<rect x="206.24" y="102.1" width="4.63" height="4.6" fill="#ff9999"/>
<rect x="210.87" y="102.1" width="4.63" height="4.6" fill="#fff0f0"/>
<rect x="127.5" y="106.7" width="4.63" height="4.6" fill="#ff9999"/>
<rect x="132.13" y="106.7" width="4.63" height="4.6" fill="#ff8080"/>
<rect x="136.76" y="106.7" width="4.63" height="4.6" fill="#ff9999"/>
<rect x="141.39" y="106.7" width="4.63" height="4.6" fill="#ff8080"/>
<rect x="146.03" y="106.7" width="4.63" height="4.6" fill="#ff0000"/>
<rect x="150.66" y="106.7" width="4.63" height="4.6" fill="#bdbdbd"/>
<rect x="155.29" y="106.7" width="4.63" height="4.6" fill="#ff6666"/>
<rect x="159.92" y="106.7" width="4.63" height="4.6" fill="#ff6666"/>
<rect x="164.55" y="106.7" width="4.63" height="4.6" fill="#ff8080"/>
<rect x="169.18" y="106.7" width="4.63" height="4.6" fill="#ff9999"/>
<rect x="173.82" y="106.7" width="4.63" height="4.6" fill="#ff4d4d"/>
<rect x="178.45" y="106.7" width="4.63" height="4.6" fill="#bdbdbd"/>
<rect x="183.08" y="106.7" width="4.63" height="4.6" fill="#ff9999"/>
<rect x="187.71" y="106.7" width="4.63" height="4.6" fill="#ffb2b2"/>
<rect x="192.34" y="106.7" width="4.63" height="4.6" fill="#ff8080"/>
<rect x="196.97" y="106.7" width="4.63" height="4.6" fill="#ff9999"/>
<rect x="201.61" y="106.7" width="4.63" height="4.6" fill="#efefff"/>
<rect x="206.24" y="106.7" width="4.63" height="4.6" fill="#ff9999"/>
<rect x="210.87" y="106.7" width="4.63" height="4.6" fill="#fff0f0"/>
<rect x="127.5" y="111.3" width="4.63" height="4.6" fill="#ff9999"/>
<rect x="132.13" y="111.3" width="4.63" height="4.6" fill="#ff8080"/>
<rect x="136.76" y="111.3" width="4.63" height="4.6" fill="#ff8080"/>
<rect x="141.39" y="111.3" width="4.63" height="4.6" fill="#ff8080"/>
<rect x="146.03" y="111.3" width="4.63" height="4.6" fill="#ff0000"/>
<rect x="150.66" y="111.3" width="4.63" height="4.6" fill="#bdbdbd"/>
<rect x="155.29" y="111.3" width="4.63" height="4.6" fill="#ff6666"/>
<rect x="159.92" y="111.3" width="4.63" height="4.6" fill="#ff8080"/>
<rect x="164.55" y="111.3" width="4.63" height="4.6" fill="#ff8080"/>
<rect x="169.18" y="111.3" width="4.63" height="4.6" fill="#ff8080"/>
<rect x="173.82" y="111.3" width="4.63" height="4.6" fill="#ff4d4d"/>
<rect x="178.45" y="111.3" width="4.63" height="4.6" fill="#bdbdbd"/>
<rect x="183.08" y="111.3" width="4.63" height="4.6" fill="#ff9999"/>
<rect x="187.71" y="111.3" width="4.63" height="4.6" fill="#ffb2b2"/>
<rect x="192.34" y="111.3" width="4.63" height="4.6" fill="#ff8080"/>
<rect x="196.97" y="111.3" width="4.63" height="4.6" fill="#ff9999"/>
<rect x="201.61" y="111.3" width="4.63" height="4.6" fill="#ffffff"/>
<rect x="206.24" y="111.3" width="4.63" height="4.6" fill="#ff9999"/>
<rect x="210.87" y="111.3" width="4.63" height="4.6" fill="#ffcccc"/>
<rect x="127.5" y="115.9" width="4.63" height="4.6" fill="#ff9999"/>
<rect x="132.13" y="115.9" width="4.63" height="4.6" fill="#ff6666"/>
<rect x="136.76" y="115.9" width="4.63" height="4.6" fill="#ff8080"/>
<rect x="141.39" y="115.9" width="4.63" height="4.6" fill="#ff8080"/>
<rect x="146.03" y="115.9" width="4.63" height="4.6" fill="#ff0000"/>
<rect x="150.66" y="115.9" width="4.63" height="4.6" fill="#bdbdbd"/>
<rect x="155.29" y="115.9" width="4.63" height="4.6" fill="#ff6666"/>
<rect x="159.92" y="115.9" width="4.63" height="4.6" fill="#ff6666"/>
<rect x="164.55" y="115.9" width="4.63" height="4.6" fill="#ff6666"/>
<rect x="169.18" y="115.9" width="4.63" height="4.6" fill="#ff8080"/>
<rect x="173.82" y="115.9" width="4.63" height="4.6" fill="#ff4d4d"/>
<rect x="178.45" y="115.9" width="4.63" height="4.6" fill="#bdbdbd"/>
<rect x="183.08" y="115.9" width="4.63" height="4.6" fill="#ff9999"/>
<rect x="187.71" y="115.9" width="4.63" height="4.6" fill="#ffb2b2"/>
<rect x="192.34" y="115.9" width="4.63" height="4.6" fill="#ff8080"/>
<rect x="196.97" y="115.9" width="4.63" height="4.6" fill="#ff9999"/>
<rect x="201.61" y="115.9" width="4.63" height="4.6" fill="#efefff"/>
<rect x="206.24" y="115.9" width="4.63" height="4.6" fill="#ff9999"/>
<rect x="210.87" y="115.9" width="4.63" height="4.6" fill="#ffcccc"/>
<rect x="127.5" y="120.5" width="4.63" height="4.6" fill="#ff9999"/>
<rect x="132.13" y="120.5" width="4.63" height="4.6" fill="#ff8080"/>
<rect x="136.76" y="120.5" width="4.63" height="4.6" fill="#ff8080"/>
<rect x="141.39" y="120.5" width="4.63" height="4.6" fill="#ff8080"/>
<rect x="146.03" y="120.5" width="4.63" height="4.6" fill="#ff0000"/>
<rect x="150.66" y="120.5" width="4.63" height="4.6" fill="#bdbdbd"/>
<rect x="155.29" y="120.5" width="4.63" height="4.6" fill="#ff8080"/>
<rect x="159.92" y="120.5" width="4.63" height="4.6" fill="#ff8080"/>
<rect x="164.55" y="120.5" width="4.63" height="4.6" fill="#ff8080"/>
<rect x="169.18" y="120.5" width="4.63" height="4.6" fill="#ff9999"/>
<rect x="173.82" y="120.5" width="4.63" height="4.6" fill="#ff4d4d"/>
<rect x="178.45" y="120.5" width="4.63" height="4.6" fill="#bdbdbd"/>
<rect x="183.08" y="120.5" width="4.63" height="4.6" fill="#ff9999"/>
<rect x="187.71" y="120.5" width="4.63" height="4.6" fill="#ffb2b2"/>
<rect x="192.34" y="120.5" width="4.63" height="4.6" fill="#ff8080"/>
<rect x="196.97" y="120.5" width="4.63" height="4.6" fill="#ff9999"/>
<rect x="201.61" y="120.5" width="4.63" height="4.6" fill="#ffffff"/>
<rect x="206.24" y="120.5" width="4.63" height="4.6" fill="#ff9999"/>
<rect x="210.87" y="120.5" width="4.63" height="4.6" fill="#fff0f0"/>
<rect x="127.5" y="125.1" width="4.63" height="4.6" fill="#ff9999"/>
<rect x="132.13" y="125.1" width="4.63" height="4.6" fill="#ff8080"/>
<rect x="136.76" y="125.1" width="4.63" height="4.6" fill="#ff8080"/>
<rect x="141.39" y="125.1" width="4.63" height="4.6" fill="#ff8080"/>
<rect x="146.03" y="125.1" width="4.63" height="4.6" fill="#ff0000"/>
<rect x="150.66" y="125.1" width="4.63" height="4.6" fill="#bdbdbd"/>
<rect x="155.29" y="125.1" width="4.63" height="4.6" fill="#ff6666"/>
<rect x="159.92" y="125.1" width="4.63" height="4.6" fill="#ff8080"/>
<rect x="164.55" y="125.1" width="4.63" height="4.6" fill="#ff8080"/>
<rect x="169.18" y="125.1" width="4.63" height="4.6" fill="#ff8080"/>
<rect x="173.82" y="125.1" width="4.63" height="4.6" fill="#ff4d4d"/>
<rect x="178.45" y="125.1" width="4.63" height="4.6" fill="#bdbdbd"/>
<rect x="183.08" y="125.1" width="4.63" height="4.6" fill="#ff9999"/>
<rect x="187.71" y="125.1" width="4.63" height="4.6" fill="#ffb2b2"/>
<rect x="192.34" y="125.1" width="4.63" height="4.6" fill="#ff8080"/>
<rect x="196.97" y="125.1" width="4.63" height="4.6" fill="#ff9999"/>
<rect x="201.61" y="125.1" width="4.63" height="4.6" fill="#efefff"/>
<rect x="206.24" y="125.1" width="4.63" height="4.6" fill="#ff9999"/>
<rect x="210.87" y="125.1" width="4.63" height="4.6" fill="#ffcccc"/>
<line x1="132.13" y1="60.7" x2="132.13" y2="129.7" stroke="#fff" stroke-width="0.55"/>
<line x1="136.76" y1="60.7" x2="136.76" y2="129.7" stroke="#fff" stroke-width="0.55"/>
<line x1="141.39" y1="60.7" x2="141.39" y2="129.7" stroke="#fff" stroke-width="0.55"/>
<line x1="146.03" y1="60.7" x2="146.03" y2="129.7" stroke="#fff" stroke-width="0.55"/>
<line x1="150.66" y1="60.7" x2="150.66" y2="129.7" stroke="#fff" stroke-width="0.55"/>
<line x1="155.29" y1="60.7" x2="155.29" y2="129.7" stroke="#fff" stroke-width="0.55"/>
<line x1="159.92" y1="60.7" x2="159.92" y2="129.7" stroke="#fff" stroke-width="0.55"/>
<line x1="164.55" y1="60.7" x2="164.55" y2="129.7" stroke="#fff" stroke-width="0.55"/>
<line x1="169.18" y1="60.7" x2="169.18" y2="129.7" stroke="#fff" stroke-width="0.55"/>
<line x1="173.82" y1="60.7" x2="173.82" y2="129.7" stroke="#fff" stroke-width="0.55"/>
<line x1="178.45" y1="60.7" x2="178.45" y2="129.7" stroke="#fff" stroke-width="0.55"/>
<line x1="183.08" y1="60.7" x2="183.08" y2="129.7" stroke="#fff" stroke-width="0.55"/>
<line x1="187.71" y1="60.7" x2="187.71" y2="129.7" stroke="#fff" stroke-width="0.55"/>
<line x1="192.34" y1="60.7" x2="192.34" y2="129.7" stroke="#fff" stroke-width="0.55"/>
<line x1="196.97" y1="60.7" x2="196.97" y2="129.7" stroke="#fff" stroke-width="0.55"/>
<line x1="201.61" y1="60.7" x2="201.61" y2="129.7" stroke="#fff" stroke-width="0.55"/>
<line x1="206.24" y1="60.7" x2="206.24" y2="129.7" stroke="#fff" stroke-width="0.55"/>
<line x1="210.87" y1="60.7" x2="210.87" y2="129.7" stroke="#fff" stroke-width="0.55"/>
<line x1="127.5" y1="65.3" x2="215.5" y2="65.3" stroke="#fff" stroke-width="0.55"/>
<line x1="127.5" y1="69.9" x2="215.5" y2="69.9" stroke="#fff" stroke-width="0.55"/>
<line x1="127.5" y1="79.1" x2="215.5" y2="79.1" stroke="#fff" stroke-width="0.55"/>
<line x1="127.5" y1="83.7" x2="215.5" y2="83.7" stroke="#fff" stroke-width="0.55"/>
<line x1="127.5" y1="88.3" x2="215.5" y2="88.3" stroke="#fff" stroke-width="0.55"/>
<line x1="127.5" y1="92.9" x2="215.5" y2="92.9" stroke="#fff" stroke-width="0.55"/>
<line x1="127.5" y1="97.5" x2="215.5" y2="97.5" stroke="#fff" stroke-width="0.55"/>
<line x1="127.5" y1="102.1" x2="215.5" y2="102.1" stroke="#fff" stroke-width="0.55"/>
<line x1="127.5" y1="106.7" x2="215.5" y2="106.7" stroke="#fff" stroke-width="0.55"/>
<line x1="127.5" y1="111.3" x2="215.5" y2="111.3" stroke="#fff" stroke-width="0.55"/>
<line x1="127.5" y1="115.9" x2="215.5" y2="115.9" stroke="#fff" stroke-width="0.55"/>
<line x1="127.5" y1="120.5" x2="215.5" y2="120.5" stroke="#fff" stroke-width="0.55"/>
<line x1="127.5" y1="125.1" x2="215.5" y2="125.1" stroke="#fff" stroke-width="0.55"/>
<rect x="127.5" y="60.7" width="88" height="69" fill="none" stroke="#333" stroke-width="1"/>
<line x1="127.5" y1="74.5" x2="215.5" y2="74.5" stroke="#111" stroke-width="0.9"/>
<text x="222.7" y="42.9" font-size="6.6" font-weight="bold" fill="#000">Cal 27</text>
<text transform="translate(226.89,58.8) rotate(-90)" font-size="3.9" fill="#222">CXCR2</text>
<text transform="translate(231.48,58.8) rotate(-90)" font-size="3.9" fill="#222">CXCL1</text>
<text transform="translate(236.07,58.8) rotate(-90)" font-size="3.9" fill="#222">CXCL2</text>
<text transform="translate(240.66,58.8) rotate(-90)" font-size="3.9" fill="#222">CXCL3</text>
<text transform="translate(245.25,58.8) rotate(-90)" font-size="3.9" fill="#222">CXCL5</text>
<text transform="translate(249.84,58.8) rotate(-90)" font-size="3.9" fill="#222">CXCL6</text>
<text transform="translate(254.43,58.8) rotate(-90)" font-size="3.9" fill="#222">CXCL7</text>
<text transform="translate(259.02,58.8) rotate(-90)" font-size="3.9" fill="#222">CXCL8</text>
<text transform="translate(263.61,58.8) rotate(-90)" font-size="3.9" fill="#222">CXCL10</text>
<text transform="translate(268.2,58.8) rotate(-90)" font-size="3.9" fill="#222">CXCL11</text>
<text transform="translate(272.79,58.8) rotate(-90)" font-size="3.9" fill="#222">CCL3</text>
<text transform="translate(277.38,58.8) rotate(-90)" font-size="3.9" fill="#222">CCL25</text>
<text transform="translate(281.97,58.8) rotate(-90)" font-size="3.9" fill="#222">IL1α</text>
<text transform="translate(286.56,58.8) rotate(-90)" font-size="3.9" fill="#222">IL1β</text>
<text transform="translate(291.15,58.8) rotate(-90)" font-size="3.9" fill="#222">IL6</text>
<text transform="translate(295.74,58.8) rotate(-90)" font-size="3.9" fill="#222">GM-CSF</text>
<text transform="translate(300.33,58.8) rotate(-90)" font-size="3.9" fill="#222">MIF</text>
<text transform="translate(304.92,58.8) rotate(-90)" font-size="3.9" fill="#222">EGF</text>
<text transform="translate(309.51,58.8) rotate(-90)" font-size="3.9" fill="#222">VEGF</text>
<rect x="223.4" y="60.7" width="4.59" height="4.6" fill="#efefff"/>
<rect x="227.99" y="60.7" width="4.59" height="4.6" fill="#ffffff"/>
<rect x="232.58" y="60.7" width="4.59" height="4.6" fill="#ffffff"/>
<rect x="237.17" y="60.7" width="4.59" height="4.6" fill="#ffffff"/>
<rect x="241.76" y="60.7" width="4.59" height="4.6" fill="#efefff"/>
<rect x="246.35" y="60.7" width="4.59" height="4.6" fill="#efefff"/>
<rect x="250.94" y="60.7" width="4.59" height="4.6" fill="#ffffff"/>
<rect x="255.53" y="60.7" width="4.59" height="4.6" fill="#ffffff"/>
<rect x="260.12" y="60.7" width="4.59" height="4.6" fill="#ffffff"/>
<rect x="264.71" y="60.7" width="4.59" height="4.6" fill="#ffffff"/>
<rect x="269.29" y="60.7" width="4.59" height="4.6" fill="#ffffff"/>
<rect x="273.88" y="60.7" width="4.59" height="4.6" fill="#d1d1ff"/>
<rect x="278.47" y="60.7" width="4.59" height="4.6" fill="#efefff"/>
<rect x="283.06" y="60.7" width="4.59" height="4.6" fill="#ffffff"/>
<rect x="287.65" y="60.7" width="4.59" height="4.6" fill="#ffffff"/>
<rect x="292.24" y="60.7" width="4.59" height="4.6" fill="#ffffff"/>
<rect x="296.83" y="60.7" width="4.59" height="4.6" fill="#ffffff"/>
<rect x="301.42" y="60.7" width="4.59" height="4.6" fill="#efefff"/>
<rect x="306.01" y="60.7" width="4.59" height="4.6" fill="#ffffff"/>
<rect x="223.4" y="65.3" width="4.59" height="4.6" fill="#ffffff"/>
<rect x="227.99" y="65.3" width="4.59" height="4.6" fill="#fff0f0"/>
<rect x="232.58" y="65.3" width="4.59" height="4.6" fill="#ffffff"/>
<rect x="237.17" y="65.3" width="4.59" height="4.6" fill="#ffffff"/>
<rect x="241.76" y="65.3" width="4.59" height="4.6" fill="#ffffff"/>
<rect x="246.35" y="65.3" width="4.59" height="4.6" fill="#ffcccc"/>
<rect x="250.94" y="65.3" width="4.59" height="4.6" fill="#efefff"/>
<rect x="255.53" y="65.3" width="4.59" height="4.6" fill="#fff0f0"/>
<rect x="260.12" y="65.3" width="4.59" height="4.6" fill="#efefff"/>
<rect x="264.71" y="65.3" width="4.59" height="4.6" fill="#ffffff"/>
<rect x="269.29" y="65.3" width="4.59" height="4.6" fill="#ffffff"/>
<rect x="273.88" y="65.3" width="4.59" height="4.6" fill="#fff0f0"/>
<rect x="278.47" y="65.3" width="4.59" height="4.6" fill="#fff0f0"/>
<rect x="283.06" y="65.3" width="4.59" height="4.6" fill="#ffffff"/>
<rect x="287.65" y="65.3" width="4.59" height="4.6" fill="#ffffff"/>
<rect x="292.24" y="65.3" width="4.59" height="4.6" fill="#ffffff"/>
<rect x="296.83" y="65.3" width="4.59" height="4.6" fill="#ffffff"/>
<rect x="301.42" y="65.3" width="4.59" height="4.6" fill="#fff0f0"/>
<rect x="306.01" y="65.3" width="4.59" height="4.6" fill="#ffffff"/>
<rect x="223.4" y="69.9" width="4.59" height="4.6" fill="#ffffff"/>
<rect x="227.99" y="69.9" width="4.59" height="4.6" fill="#ffffff"/>
<rect x="232.58" y="69.9" width="4.59" height="4.6" fill="#efefff"/>
<rect x="237.17" y="69.9" width="4.59" height="4.6" fill="#ffffff"/>
<rect x="241.76" y="69.9" width="4.59" height="4.6" fill="#ffffff"/>
<rect x="246.35" y="69.9" width="4.59" height="4.6" fill="#d1d1ff"/>
<rect x="250.94" y="69.9" width="4.59" height="4.6" fill="#fff0f0"/>
<rect x="255.53" y="69.9" width="4.59" height="4.6" fill="#efefff"/>
<rect x="260.12" y="69.9" width="4.59" height="4.6" fill="#fff0f0"/>
<rect x="264.71" y="69.9" width="4.59" height="4.6" fill="#ffffff"/>
<rect x="269.29" y="69.9" width="4.59" height="4.6" fill="#ffffff"/>
<rect x="273.88" y="69.9" width="4.59" height="4.6" fill="#fff0f0"/>
<rect x="278.47" y="69.9" width="4.59" height="4.6" fill="#ffffff"/>
<rect x="283.06" y="69.9" width="4.59" height="4.6" fill="#ffffff"/>
<rect x="287.65" y="69.9" width="4.59" height="4.6" fill="#ffffff"/>
<rect x="292.24" y="69.9" width="4.59" height="4.6" fill="#ffffff"/>
<rect x="296.83" y="69.9" width="4.59" height="4.6" fill="#ffffff"/>
<rect x="301.42" y="69.9" width="4.59" height="4.6" fill="#fff0f0"/>
<rect x="306.01" y="69.9" width="4.59" height="4.6" fill="#ffffff"/>
<rect x="223.4" y="74.5" width="4.59" height="4.6" fill="#ffcccc"/>
<rect x="227.99" y="74.5" width="4.59" height="4.6" fill="#d1d1ff"/>
<rect x="232.58" y="74.5" width="4.59" height="4.6" fill="#ffffff"/>
<rect x="237.17" y="74.5" width="4.59" height="4.6" fill="#ffffff"/>
<rect x="241.76" y="74.5" width="4.59" height="4.6" fill="#ffffff"/>
<rect x="246.35" y="74.5" width="4.59" height="4.6" fill="#fff0f0"/>
<rect x="250.94" y="74.5" width="4.59" height="4.6" fill="#d1d1ff"/>
<rect x="255.53" y="74.5" width="4.59" height="4.6" fill="#a3a3ff"/>
<rect x="260.12" y="74.5" width="4.59" height="4.6" fill="#ffcccc"/>
<rect x="264.71" y="74.5" width="4.59" height="4.6" fill="#fff0f0"/>
<rect x="269.29" y="74.5" width="4.59" height="4.6" fill="#efefff"/>
<rect x="273.88" y="74.5" width="4.59" height="4.6" fill="#ffcccc"/>
<rect x="278.47" y="74.5" width="4.59" height="4.6" fill="#efefff"/>
<rect x="283.06" y="74.5" width="4.59" height="4.6" fill="#ffffff"/>
<rect x="287.65" y="74.5" width="4.59" height="4.6" fill="#ffffff"/>
<rect x="292.24" y="74.5" width="4.59" height="4.6" fill="#d1d1ff"/>
<rect x="296.83" y="74.5" width="4.59" height="4.6" fill="#ffffff"/>
<rect x="301.42" y="74.5" width="4.59" height="4.6" fill="#ffb2b2"/>
<rect x="306.01" y="74.5" width="4.59" height="4.6" fill="#ffffff"/>
<rect x="223.4" y="79.1" width="4.59" height="4.6" fill="#ffcccc"/>
<rect x="227.99" y="79.1" width="4.59" height="4.6" fill="#d1d1ff"/>
<rect x="232.58" y="79.1" width="4.59" height="4.6" fill="#efefff"/>
<rect x="237.17" y="79.1" width="4.59" height="4.6" fill="#efefff"/>
<rect x="241.76" y="79.1" width="4.59" height="4.6" fill="#ffffff"/>
<rect x="246.35" y="79.1" width="4.59" height="4.6" fill="#ffffff"/>
<rect x="250.94" y="79.1" width="4.59" height="4.6" fill="#babaff"/>
<rect x="255.53" y="79.1" width="4.59" height="4.6" fill="#8c8cff"/>
<rect x="260.12" y="79.1" width="4.59" height="4.6" fill="#ffcccc"/>
<rect x="264.71" y="79.1" width="4.59" height="4.6" fill="#fff0f0"/>
<rect x="269.29" y="79.1" width="4.59" height="4.6" fill="#efefff"/>
<rect x="273.88" y="79.1" width="4.59" height="4.6" fill="#d1d1ff"/>
<rect x="278.47" y="79.1" width="4.59" height="4.6" fill="#d1d1ff"/>
<rect x="283.06" y="79.1" width="4.59" height="4.6" fill="#efefff"/>
<rect x="287.65" y="79.1" width="4.59" height="4.6" fill="#ffffff"/>
<rect x="292.24" y="79.1" width="4.59" height="4.6" fill="#babaff"/>
<rect x="296.83" y="79.1" width="4.59" height="4.6" fill="#ffffff"/>
<rect x="301.42" y="79.1" width="4.59" height="4.6" fill="#ffb2b2"/>
<rect x="306.01" y="79.1" width="4.59" height="4.6" fill="#ffffff"/>
<rect x="223.4" y="83.7" width="4.59" height="4.6" fill="#ffcccc"/>
<rect x="227.99" y="83.7" width="4.59" height="4.6" fill="#efefff"/>
<rect x="232.58" y="83.7" width="4.59" height="4.6" fill="#ffffff"/>
<rect x="237.17" y="83.7" width="4.59" height="4.6" fill="#efefff"/>
<rect x="241.76" y="83.7" width="4.59" height="4.6" fill="#ffffff"/>
<rect x="246.35" y="83.7" width="4.59" height="4.6" fill="#efefff"/>
<rect x="250.94" y="83.7" width="4.59" height="4.6" fill="#8c8cff"/>
<rect x="255.53" y="83.7" width="4.59" height="4.6" fill="#babaff"/>
<rect x="260.12" y="83.7" width="4.59" height="4.6" fill="#fff0f0"/>
<rect x="264.71" y="83.7" width="4.59" height="4.6" fill="#fff0f0"/>
<rect x="269.29" y="83.7" width="4.59" height="4.6" fill="#fff0f0"/>
<rect x="273.88" y="83.7" width="4.59" height="4.6" fill="#fff0f0"/>
<rect x="278.47" y="83.7" width="4.59" height="4.6" fill="#efefff"/>
<rect x="283.06" y="83.7" width="4.59" height="4.6" fill="#ffffff"/>
<rect x="287.65" y="83.7" width="4.59" height="4.6" fill="#ffffff"/>
<rect x="292.24" y="83.7" width="4.59" height="4.6" fill="#d1d1ff"/>
<rect x="296.83" y="83.7" width="4.59" height="4.6" fill="#ffffff"/>
<rect x="301.42" y="83.7" width="4.59" height="4.6" fill="#ffcccc"/>
<rect x="306.01" y="83.7" width="4.59" height="4.6" fill="#ffffff"/>
<rect x="223.4" y="88.3" width="4.59" height="4.6" fill="#ff9999"/>
<rect x="227.99" y="88.3" width="4.59" height="4.6" fill="#ffcccc"/>
<rect x="232.58" y="88.3" width="4.59" height="4.6" fill="#ffcccc"/>
<rect x="237.17" y="88.3" width="4.59" height="4.6" fill="#ffcccc"/>
<rect x="241.76" y="88.3" width="4.59" height="4.6" fill="#ff0000"/>
<rect x="246.35" y="88.3" width="4.59" height="4.6" fill="#ffb2b2"/>
<rect x="250.94" y="88.3" width="4.59" height="4.6" fill="#d1d1ff"/>
<rect x="255.53" y="88.3" width="4.59" height="4.6" fill="#fff0f0"/>
<rect x="260.12" y="88.3" width="4.59" height="4.6" fill="#ff4d4d"/>
<rect x="264.71" y="88.3" width="4.59" height="4.6" fill="#ffb2b2"/>
<rect x="269.29" y="88.3" width="4.59" height="4.6" fill="#fff0f0"/>
<rect x="273.88" y="88.3" width="4.59" height="4.6" fill="#ffb2b2"/>
<rect x="278.47" y="88.3" width="4.59" height="4.6" fill="#ffffff"/>
<rect x="283.06" y="88.3" width="4.59" height="4.6" fill="#efefff"/>
<rect x="287.65" y="88.3" width="4.59" height="4.6" fill="#ff9999"/>
<rect x="292.24" y="88.3" width="4.59" height="4.6" fill="#babaff"/>
<rect x="296.83" y="88.3" width="4.59" height="4.6" fill="#efefff"/>
<rect x="301.42" y="88.3" width="4.59" height="4.6" fill="#ff8080"/>
<rect x="306.01" y="88.3" width="4.59" height="4.6" fill="#ffffff"/>
<rect x="223.4" y="92.9" width="4.59" height="4.6" fill="#ff9999"/>
<rect x="227.99" y="92.9" width="4.59" height="4.6" fill="#ffcccc"/>
<rect x="232.58" y="92.9" width="4.59" height="4.6" fill="#ffcccc"/>
<rect x="237.17" y="92.9" width="4.59" height="4.6" fill="#ffcccc"/>
<rect x="241.76" y="92.9" width="4.59" height="4.6" fill="#ff0000"/>
<rect x="246.35" y="92.9" width="4.59" height="4.6" fill="#ffb2b2"/>
<rect x="250.94" y="92.9" width="4.59" height="4.6" fill="#8c8cff"/>
<rect x="255.53" y="92.9" width="4.59" height="4.6" fill="#fff0f0"/>
<rect x="260.12" y="92.9" width="4.59" height="4.6" fill="#ff6666"/>
<rect x="264.71" y="92.9" width="4.59" height="4.6" fill="#ffb2b2"/>
<rect x="269.29" y="92.9" width="4.59" height="4.6" fill="#fff0f0"/>
<rect x="273.88" y="92.9" width="4.59" height="4.6" fill="#ffcccc"/>
<rect x="278.47" y="92.9" width="4.59" height="4.6" fill="#fff0f0"/>
<rect x="283.06" y="92.9" width="4.59" height="4.6" fill="#efefff"/>
<rect x="287.65" y="92.9" width="4.59" height="4.6" fill="#ff9999"/>
<rect x="292.24" y="92.9" width="4.59" height="4.6" fill="#babaff"/>
<rect x="296.83" y="92.9" width="4.59" height="4.6" fill="#efefff"/>
<rect x="301.42" y="92.9" width="4.59" height="4.6" fill="#ff8080"/>
<rect x="306.01" y="92.9" width="4.59" height="4.6" fill="#ffffff"/>
<rect x="223.4" y="97.5" width="4.59" height="4.6" fill="#ff9999"/>
<rect x="227.99" y="97.5" width="4.59" height="4.6" fill="#ffcccc"/>
<rect x="232.58" y="97.5" width="4.59" height="4.6" fill="#ffcccc"/>
<rect x="237.17" y="97.5" width="4.59" height="4.6" fill="#ffcccc"/>
<rect x="241.76" y="97.5" width="4.59" height="4.6" fill="#ff0000"/>
<rect x="246.35" y="97.5" width="4.59" height="4.6" fill="#ffb2b2"/>
<rect x="250.94" y="97.5" width="4.59" height="4.6" fill="#babaff"/>
<rect x="255.53" y="97.5" width="4.59" height="4.6" fill="#fff0f0"/>
<rect x="260.12" y="97.5" width="4.59" height="4.6" fill="#ff6666"/>
<rect x="264.71" y="97.5" width="4.59" height="4.6" fill="#ffb2b2"/>
<rect x="269.29" y="97.5" width="4.59" height="4.6" fill="#ffcccc"/>
<rect x="273.88" y="97.5" width="4.59" height="4.6" fill="#ffffff"/>
<rect x="278.47" y="97.5" width="4.59" height="4.6" fill="#ffcccc"/>
<rect x="283.06" y="97.5" width="4.59" height="4.6" fill="#efefff"/>
<rect x="287.65" y="97.5" width="4.59" height="4.6" fill="#ff9999"/>
<rect x="292.24" y="97.5" width="4.59" height="4.6" fill="#a3a3ff"/>
<rect x="296.83" y="97.5" width="4.59" height="4.6" fill="#efefff"/>
<rect x="301.42" y="97.5" width="4.59" height="4.6" fill="#ff8080"/>
<rect x="306.01" y="97.5" width="4.59" height="4.6" fill="#efefff"/>
<rect x="223.4" y="102.1" width="4.59" height="4.6" fill="#ff9999"/>
<rect x="227.99" y="102.1" width="4.59" height="4.6" fill="#ff8080"/>
<rect x="232.58" y="102.1" width="4.59" height="4.6" fill="#ff6666"/>
<rect x="237.17" y="102.1" width="4.59" height="4.6" fill="#ff6666"/>
<rect x="241.76" y="102.1" width="4.59" height="4.6" fill="#ff0000"/>
<rect x="246.35" y="102.1" width="4.59" height="4.6" fill="#ffb2b2"/>
<rect x="250.94" y="102.1" width="4.59" height="4.6" fill="#ff8080"/>
<rect x="255.53" y="102.1" width="4.59" height="4.6" fill="#ff8080"/>
<rect x="260.12" y="102.1" width="4.59" height="4.6" fill="#ff1919"/>
<rect x="264.71" y="102.1" width="4.59" height="4.6" fill="#ff6666"/>
<rect x="269.29" y="102.1" width="4.59" height="4.6" fill="#ff3333"/>
<rect x="273.88" y="102.1" width="4.59" height="4.6" fill="#ffb2b2"/>
<rect x="278.47" y="102.1" width="4.59" height="4.6" fill="#ff8080"/>
<rect x="283.06" y="102.1" width="4.59" height="4.6" fill="#ffb2b2"/>
<rect x="287.65" y="102.1" width="4.59" height="4.6" fill="#ff4d4d"/>
<rect x="292.24" y="102.1" width="4.59" height="4.6" fill="#ff8080"/>
<rect x="296.83" y="102.1" width="4.59" height="4.6" fill="#d1d1ff"/>
<rect x="301.42" y="102.1" width="4.59" height="4.6" fill="#ffb2b2"/>
<rect x="306.01" y="102.1" width="4.59" height="4.6" fill="#ffb2b2"/>
<rect x="223.4" y="106.7" width="4.59" height="4.6" fill="#ff9999"/>
<rect x="227.99" y="106.7" width="4.59" height="4.6" fill="#ff8080"/>
<rect x="232.58" y="106.7" width="4.59" height="4.6" fill="#ff6666"/>
<rect x="237.17" y="106.7" width="4.59" height="4.6" fill="#ff6666"/>
<rect x="241.76" y="106.7" width="4.59" height="4.6" fill="#ff0000"/>
<rect x="246.35" y="106.7" width="4.59" height="4.6" fill="#ffb2b2"/>
<rect x="250.94" y="106.7" width="4.59" height="4.6" fill="#ff8080"/>
<rect x="255.53" y="106.7" width="4.59" height="4.6" fill="#ff6666"/>
<rect x="260.12" y="106.7" width="4.59" height="4.6" fill="#ff0000"/>
<rect x="264.71" y="106.7" width="4.59" height="4.6" fill="#ff4d4d"/>
<rect x="269.29" y="106.7" width="4.59" height="4.6" fill="#ff3333"/>
<rect x="273.88" y="106.7" width="4.59" height="4.6" fill="#ffffff"/>
<rect x="278.47" y="106.7" width="4.59" height="4.6" fill="#ff9999"/>
<rect x="283.06" y="106.7" width="4.59" height="4.6" fill="#ffb2b2"/>
<rect x="287.65" y="106.7" width="4.59" height="4.6" fill="#ff4d4d"/>
<rect x="292.24" y="106.7" width="4.59" height="4.6" fill="#ff8080"/>
<rect x="296.83" y="106.7" width="4.59" height="4.6" fill="#d1d1ff"/>
<rect x="301.42" y="106.7" width="4.59" height="4.6" fill="#ffb2b2"/>
<rect x="306.01" y="106.7" width="4.59" height="4.6" fill="#ffb2b2"/>
<rect x="223.4" y="111.3" width="4.59" height="4.6" fill="#ff9999"/>
<rect x="227.99" y="111.3" width="4.59" height="4.6" fill="#ff8080"/>
<rect x="232.58" y="111.3" width="4.59" height="4.6" fill="#ff6666"/>
<rect x="237.17" y="111.3" width="4.59" height="4.6" fill="#ff6666"/>
<rect x="241.76" y="111.3" width="4.59" height="4.6" fill="#ff0000"/>
<rect x="246.35" y="111.3" width="4.59" height="4.6" fill="#ffb2b2"/>
<rect x="250.94" y="111.3" width="4.59" height="4.6" fill="#ff6666"/>
<rect x="255.53" y="111.3" width="4.59" height="4.6" fill="#ff6666"/>
<rect x="260.12" y="111.3" width="4.59" height="4.6" fill="#ff0000"/>
<rect x="264.71" y="111.3" width="4.59" height="4.6" fill="#ff4d4d"/>
<rect x="269.29" y="111.3" width="4.59" height="4.6" fill="#ff3333"/>
<rect x="273.88" y="111.3" width="4.59" height="4.6" fill="#ffcccc"/>
<rect x="278.47" y="111.3" width="4.59" height="4.6" fill="#ff9999"/>
<rect x="283.06" y="111.3" width="4.59" height="4.6" fill="#ffb2b2"/>
<rect x="287.65" y="111.3" width="4.59" height="4.6" fill="#ff4d4d"/>
<rect x="292.24" y="111.3" width="4.59" height="4.6" fill="#ff8080"/>
<rect x="296.83" y="111.3" width="4.59" height="4.6" fill="#d1d1ff"/>
<rect x="301.42" y="111.3" width="4.59" height="4.6" fill="#ffb2b2"/>
<rect x="306.01" y="111.3" width="4.59" height="4.6" fill="#ffb2b2"/>
<rect x="223.4" y="115.9" width="4.59" height="4.6" fill="#ff9999"/>
<rect x="227.99" y="115.9" width="4.59" height="4.6" fill="#ff8080"/>
<rect x="232.58" y="115.9" width="4.59" height="4.6" fill="#ff6666"/>
<rect x="237.17" y="115.9" width="4.59" height="4.6" fill="#ff8080"/>
<rect x="241.76" y="115.9" width="4.59" height="4.6" fill="#ff0000"/>
<rect x="246.35" y="115.9" width="4.59" height="4.6" fill="#ffb2b2"/>
<rect x="250.94" y="115.9" width="4.59" height="4.6" fill="#ff4d4d"/>
<rect x="255.53" y="115.9" width="4.59" height="4.6" fill="#ff6666"/>
<rect x="260.12" y="115.9" width="4.59" height="4.6" fill="#ff0000"/>
<rect x="264.71" y="115.9" width="4.59" height="4.6" fill="#ff4d4d"/>
<rect x="269.29" y="115.9" width="4.59" height="4.6" fill="#ff3333"/>
<rect x="273.88" y="115.9" width="4.59" height="4.6" fill="#ffcccc"/>
<rect x="278.47" y="115.9" width="4.59" height="4.6" fill="#ff9999"/>
<rect x="283.06" y="115.9" width="4.59" height="4.6" fill="#ffb2b2"/>
<rect x="287.65" y="115.9" width="4.59" height="4.6" fill="#ff4d4d"/>
<rect x="292.24" y="115.9" width="4.59" height="4.6" fill="#ff8080"/>
<rect x="296.83" y="115.9" width="4.59" height="4.6" fill="#d1d1ff"/>
<rect x="301.42" y="115.9" width="4.59" height="4.6" fill="#ffb2b2"/>
<rect x="306.01" y="115.9" width="4.59" height="4.6" fill="#ffb2b2"/>
<rect x="223.4" y="120.5" width="4.59" height="4.6" fill="#ff9999"/>
<rect x="227.99" y="120.5" width="4.59" height="4.6" fill="#ff8080"/>
<rect x="232.58" y="120.5" width="4.59" height="4.6" fill="#ff6666"/>
<rect x="237.17" y="120.5" width="4.59" height="4.6" fill="#ff8080"/>
<rect x="241.76" y="120.5" width="4.59" height="4.6" fill="#ff0000"/>
<rect x="246.35" y="120.5" width="4.59" height="4.6" fill="#ffb2b2"/>
<rect x="250.94" y="120.5" width="4.59" height="4.6" fill="#ff6666"/>
<rect x="255.53" y="120.5" width="4.59" height="4.6" fill="#ff8080"/>
<rect x="260.12" y="120.5" width="4.59" height="4.6" fill="#ff0000"/>
<rect x="264.71" y="120.5" width="4.59" height="4.6" fill="#ff6666"/>
<rect x="269.29" y="120.5" width="4.59" height="4.6" fill="#ff3333"/>
<rect x="273.88" y="120.5" width="4.59" height="4.6" fill="#ffcccc"/>
<rect x="278.47" y="120.5" width="4.59" height="4.6" fill="#ff9999"/>
<rect x="283.06" y="120.5" width="4.59" height="4.6" fill="#ffb2b2"/>
<rect x="287.65" y="120.5" width="4.59" height="4.6" fill="#ff4d4d"/>
<rect x="292.24" y="120.5" width="4.59" height="4.6" fill="#ff9999"/>
<rect x="296.83" y="120.5" width="4.59" height="4.6" fill="#d1d1ff"/>
<rect x="301.42" y="120.5" width="4.59" height="4.6" fill="#ffb2b2"/>
<rect x="306.01" y="120.5" width="4.59" height="4.6" fill="#ffb2b2"/>
<rect x="223.4" y="125.1" width="4.59" height="4.6" fill="#ff9999"/>
<rect x="227.99" y="125.1" width="4.59" height="4.6" fill="#ff8080"/>
<rect x="232.58" y="125.1" width="4.59" height="4.6" fill="#ff6666"/>
<rect x="237.17" y="125.1" width="4.59" height="4.6" fill="#ff6666"/>
<rect x="241.76" y="125.1" width="4.59" height="4.6" fill="#ff0000"/>
<rect x="246.35" y="125.1" width="4.59" height="4.6" fill="#ffb2b2"/>
<rect x="250.94" y="125.1" width="4.59" height="4.6" fill="#ff6666"/>
<rect x="255.53" y="125.1" width="4.59" height="4.6" fill="#ff8080"/>
<rect x="260.12" y="125.1" width="4.59" height="4.6" fill="#ff0000"/>
<rect x="264.71" y="125.1" width="4.59" height="4.6" fill="#ff4d4d"/>
<rect x="269.29" y="125.1" width="4.59" height="4.6" fill="#ff3333"/>
<rect x="273.88" y="125.1" width="4.59" height="4.6" fill="#ffcccc"/>
<rect x="278.47" y="125.1" width="4.59" height="4.6" fill="#ff9999"/>
<rect x="283.06" y="125.1" width="4.59" height="4.6" fill="#ffb2b2"/>
<rect x="287.65" y="125.1" width="4.59" height="4.6" fill="#ff4d4d"/>
<rect x="292.24" y="125.1" width="4.59" height="4.6" fill="#ff9999"/>
<rect x="296.83" y="125.1" width="4.59" height="4.6" fill="#babaff"/>
<rect x="301.42" y="125.1" width="4.59" height="4.6" fill="#ffb2b2"/>
<rect x="306.01" y="125.1" width="4.59" height="4.6" fill="#ffb2b2"/>
<line x1="227.99" y1="60.7" x2="227.99" y2="129.7" stroke="#fff" stroke-width="0.55"/>
<line x1="232.58" y1="60.7" x2="232.58" y2="129.7" stroke="#fff" stroke-width="0.55"/>
<line x1="237.17" y1="60.7" x2="237.17" y2="129.7" stroke="#fff" stroke-width="0.55"/>
<line x1="241.76" y1="60.7" x2="241.76" y2="129.7" stroke="#fff" stroke-width="0.55"/>
<line x1="246.35" y1="60.7" x2="246.35" y2="129.7" stroke="#fff" stroke-width="0.55"/>
<line x1="250.94" y1="60.7" x2="250.94" y2="129.7" stroke="#fff" stroke-width="0.55"/>
<line x1="255.53" y1="60.7" x2="255.53" y2="129.7" stroke="#fff" stroke-width="0.55"/>
<line x1="260.12" y1="60.7" x2="260.12" y2="129.7" stroke="#fff" stroke-width="0.55"/>
<line x1="264.71" y1="60.7" x2="264.71" y2="129.7" stroke="#fff" stroke-width="0.55"/>
<line x1="269.29" y1="60.7" x2="269.29" y2="129.7" stroke="#fff" stroke-width="0.55"/>
<line x1="273.88" y1="60.7" x2="273.88" y2="129.7" stroke="#fff" stroke-width="0.55"/>
<line x1="278.47" y1="60.7" x2="278.47" y2="129.7" stroke="#fff" stroke-width="0.55"/>
<line x1="283.06" y1="60.7" x2="283.06" y2="129.7" stroke="#fff" stroke-width="0.55"/>
<line x1="287.65" y1="60.7" x2="287.65" y2="129.7" stroke="#fff" stroke-width="0.55"/>
<line x1="292.24" y1="60.7" x2="292.24" y2="129.7" stroke="#fff" stroke-width="0.55"/>
<line x1="296.83" y1="60.7" x2="296.83" y2="129.7" stroke="#fff" stroke-width="0.55"/>
<line x1="301.42" y1="60.7" x2="301.42" y2="129.7" stroke="#fff" stroke-width="0.55"/>
<line x1="306.01" y1="60.7" x2="306.01" y2="129.7" stroke="#fff" stroke-width="0.55"/>
<line x1="223.4" y1="65.3" x2="310.6" y2="65.3" stroke="#fff" stroke-width="0.55"/>
<line x1="223.4" y1="69.9" x2="310.6" y2="69.9" stroke="#fff" stroke-width="0.55"/>
<line x1="223.4" y1="79.1" x2="310.6" y2="79.1" stroke="#fff" stroke-width="0.55"/>
<line x1="223.4" y1="83.7" x2="310.6" y2="83.7" stroke="#fff" stroke-width="0.55"/>
<line x1="223.4" y1="88.3" x2="310.6" y2="88.3" stroke="#fff" stroke-width="0.55"/>
<line x1="223.4" y1="92.9" x2="310.6" y2="92.9" stroke="#fff" stroke-width="0.55"/>
<line x1="223.4" y1="97.5" x2="310.6" y2="97.5" stroke="#fff" stroke-width="0.55"/>
<line x1="223.4" y1="102.1" x2="310.6" y2="102.1" stroke="#fff" stroke-width="0.55"/>
<line x1="223.4" y1="106.7" x2="310.6" y2="106.7" stroke="#fff" stroke-width="0.55"/>
<line x1="223.4" y1="111.3" x2="310.6" y2="111.3" stroke="#fff" stroke-width="0.55"/>
<line x1="223.4" y1="115.9" x2="310.6" y2="115.9" stroke="#fff" stroke-width="0.55"/>
<line x1="223.4" y1="120.5" x2="310.6" y2="120.5" stroke="#fff" stroke-width="0.55"/>
<line x1="223.4" y1="125.1" x2="310.6" y2="125.1" stroke="#fff" stroke-width="0.55"/>
<rect x="223.4" y="60.7" width="87.2" height="69" fill="none" stroke="#333" stroke-width="1"/>
<line x1="223.4" y1="74.5" x2="310.6" y2="74.5" stroke="#111" stroke-width="0.9"/>
<text x="317.6" y="42.9" font-size="6.6" font-weight="bold" fill="#000">OKF 6</text>
<text transform="translate(321.79,58.8) rotate(-90)" font-size="3.9" fill="#222">CXCR2</text>
<text transform="translate(326.38,58.8) rotate(-90)" font-size="3.9" fill="#222">CXCL1</text>
<text transform="translate(330.97,58.8) rotate(-90)" font-size="3.9" fill="#222">CXCL2</text>
<text transform="translate(335.56,58.8) rotate(-90)" font-size="3.9" fill="#222">CXCL3</text>
<text transform="translate(340.15,58.8) rotate(-90)" font-size="3.9" fill="#222">CXCL5</text>
<text transform="translate(344.74,58.8) rotate(-90)" font-size="3.9" fill="#222">CXCL6</text>
<text transform="translate(349.33,58.8) rotate(-90)" font-size="3.9" fill="#222">CXCL7</text>
<text transform="translate(353.92,58.8) rotate(-90)" font-size="3.9" fill="#222">CXCL8</text>
<text transform="translate(358.51,58.8) rotate(-90)" font-size="3.9" fill="#222">CXCL10</text>
<text transform="translate(363.1,58.8) rotate(-90)" font-size="3.9" fill="#222">CXCL11</text>
<text transform="translate(367.69,58.8) rotate(-90)" font-size="3.9" fill="#222">CCL3</text>
<text transform="translate(372.28,58.8) rotate(-90)" font-size="3.9" fill="#222">CCL25</text>
<text transform="translate(376.87,58.8) rotate(-90)" font-size="3.9" fill="#222">IL1α</text>
<text transform="translate(381.46,58.8) rotate(-90)" font-size="3.9" fill="#222">IL1β</text>
<text transform="translate(386.05,58.8) rotate(-90)" font-size="3.9" fill="#222">IL6</text>
<text transform="translate(390.64,58.8) rotate(-90)" font-size="3.9" fill="#222">GM-CSF</text>
<text transform="translate(395.23,58.8) rotate(-90)" font-size="3.9" fill="#222">MIF</text>
<text transform="translate(399.82,58.8) rotate(-90)" font-size="3.9" fill="#222">EGF</text>
<text transform="translate(404.41,58.8) rotate(-90)" font-size="3.9" fill="#222">VEGF</text>
<rect x="318.3" y="60.7" width="4.59" height="4.6" fill="#ffffff"/>
<rect x="322.89" y="60.7" width="4.59" height="4.6" fill="#ffffff"/>
<rect x="327.48" y="60.7" width="4.59" height="4.6" fill="#ffffff"/>
<rect x="332.07" y="60.7" width="4.59" height="4.6" fill="#fff0f0"/>
<rect x="336.66" y="60.7" width="4.59" height="4.6" fill="#bdbdbd"/>
<rect x="341.25" y="60.7" width="4.59" height="4.6" fill="#ffffff"/>
<rect x="345.84" y="60.7" width="4.59" height="4.6" fill="#fff0f0"/>
<rect x="350.43" y="60.7" width="4.59" height="4.6" fill="#bdbdbd"/>
<rect x="355.02" y="60.7" width="4.59" height="4.6" fill="#ffffff"/>
<rect x="359.61" y="60.7" width="4.59" height="4.6" fill="#ffffff"/>
<rect x="364.19" y="60.7" width="4.59" height="4.6" fill="#ffffff"/>
<rect x="368.78" y="60.7" width="4.59" height="4.6" fill="#bdbdbd"/>
<rect x="373.37" y="60.7" width="4.59" height="4.6" fill="#ffffff"/>
<rect x="377.96" y="60.7" width="4.59" height="4.6" fill="#ffffff"/>
<rect x="382.55" y="60.7" width="4.59" height="4.6" fill="#ffffff"/>
<rect x="387.14" y="60.7" width="4.59" height="4.6" fill="#ffffff"/>
<rect x="391.73" y="60.7" width="4.59" height="4.6" fill="#ffffff"/>
<rect x="396.32" y="60.7" width="4.59" height="4.6" fill="#ffffff"/>
<rect x="400.91" y="60.7" width="4.59" height="4.6" fill="#ffffff"/>
<rect x="318.3" y="65.3" width="4.59" height="4.6" fill="#ffffff"/>
<rect x="322.89" y="65.3" width="4.59" height="4.6" fill="#fff0f0"/>
<rect x="327.48" y="65.3" width="4.59" height="4.6" fill="#ffffff"/>
<rect x="332.07" y="65.3" width="4.59" height="4.6" fill="#fff0f0"/>
<rect x="336.66" y="65.3" width="4.59" height="4.6" fill="#bdbdbd"/>
<rect x="341.25" y="65.3" width="4.59" height="4.6" fill="#fff0f0"/>
<rect x="345.84" y="65.3" width="4.59" height="4.6" fill="#efefff"/>
<rect x="350.43" y="65.3" width="4.59" height="4.6" fill="#bdbdbd"/>
<rect x="355.02" y="65.3" width="4.59" height="4.6" fill="#ffffff"/>
<rect x="359.61" y="65.3" width="4.59" height="4.6" fill="#ffffff"/>
<rect x="364.19" y="65.3" width="4.59" height="4.6" fill="#ffcccc"/>
<rect x="368.78" y="65.3" width="4.59" height="4.6" fill="#bdbdbd"/>
<rect x="373.37" y="65.3" width="4.59" height="4.6" fill="#ffffff"/>
<rect x="377.96" y="65.3" width="4.59" height="4.6" fill="#fff0f0"/>
<rect x="382.55" y="65.3" width="4.59" height="4.6" fill="#ffffff"/>
<rect x="387.14" y="65.3" width="4.59" height="4.6" fill="#ffffff"/>
<rect x="391.73" y="65.3" width="4.59" height="4.6" fill="#ffffff"/>
<rect x="396.32" y="65.3" width="4.59" height="4.6" fill="#ffffff"/>
<rect x="400.91" y="65.3" width="4.59" height="4.6" fill="#ffffff"/>
<rect x="318.3" y="69.9" width="4.59" height="4.6" fill="#ffffff"/>
<rect x="322.89" y="69.9" width="4.59" height="4.6" fill="#efefff"/>
<rect x="327.48" y="69.9" width="4.59" height="4.6" fill="#efefff"/>
<rect x="332.07" y="69.9" width="4.59" height="4.6" fill="#efefff"/>
<rect x="336.66" y="69.9" width="4.59" height="4.6" fill="#bdbdbd"/>
<rect x="341.25" y="69.9" width="4.59" height="4.6" fill="#efefff"/>
<rect x="345.84" y="69.9" width="4.59" height="4.6" fill="#ffffff"/>
<rect x="350.43" y="69.9" width="4.59" height="4.6" fill="#bdbdbd"/>
<rect x="355.02" y="69.9" width="4.59" height="4.6" fill="#ffffff"/>
<rect x="359.61" y="69.9" width="4.59" height="4.6" fill="#ffffff"/>
<rect x="364.19" y="69.9" width="4.59" height="4.6" fill="#d1d1ff"/>
<rect x="368.78" y="69.9" width="4.59" height="4.6" fill="#bdbdbd"/>
<rect x="373.37" y="69.9" width="4.59" height="4.6" fill="#ffffff"/>
<rect x="377.96" y="69.9" width="4.59" height="4.6" fill="#ffffff"/>
<rect x="382.55" y="69.9" width="4.59" height="4.6" fill="#ffffff"/>
<rect x="387.14" y="69.9" width="4.59" height="4.6" fill="#ffffff"/>
<rect x="391.73" y="69.9" width="4.59" height="4.6" fill="#ffffff"/>
<rect x="396.32" y="69.9" width="4.59" height="4.6" fill="#ffffff"/>
<rect x="400.91" y="69.9" width="4.59" height="4.6" fill="#efefff"/>
<rect x="318.3" y="74.5" width="4.59" height="4.6" fill="#fff0f0"/>
<rect x="322.89" y="74.5" width="4.59" height="4.6" fill="#ffcccc"/>
<rect x="327.48" y="74.5" width="4.59" height="4.6" fill="#fff0f0"/>
<rect x="332.07" y="74.5" width="4.59" height="4.6" fill="#ffb2b2"/>
<rect x="336.66" y="74.5" width="4.59" height="4.6" fill="#bdbdbd"/>
<rect x="341.25" y="74.5" width="4.59" height="4.6" fill="#ffcccc"/>
<rect x="345.84" y="74.5" width="4.59" height="4.6" fill="#ffcccc"/>
<rect x="350.43" y="74.5" width="4.59" height="4.6" fill="#bdbdbd"/>
<rect x="355.02" y="74.5" width="4.59" height="4.6" fill="#efefff"/>
<rect x="359.61" y="74.5" width="4.59" height="4.6" fill="#ffb2b2"/>
<rect x="364.19" y="74.5" width="4.59" height="4.6" fill="#ffb2b2"/>
<rect x="368.78" y="74.5" width="4.59" height="4.6" fill="#bdbdbd"/>
<rect x="373.37" y="74.5" width="4.59" height="4.6" fill="#ffffff"/>
<rect x="377.96" y="74.5" width="4.59" height="4.6" fill="#ffcccc"/>
<rect x="382.55" y="74.5" width="4.59" height="4.6" fill="#d1d1ff"/>
<rect x="387.14" y="74.5" width="4.59" height="4.6" fill="#ffcccc"/>
<rect x="391.73" y="74.5" width="4.59" height="4.6" fill="#ffffff"/>
<rect x="396.32" y="74.5" width="4.59" height="4.6" fill="#d1d1ff"/>
<rect x="400.91" y="74.5" width="4.59" height="4.6" fill="#ffb2b2"/>
<rect x="318.3" y="79.1" width="4.59" height="4.6" fill="#ffffff"/>
<rect x="322.89" y="79.1" width="4.59" height="4.6" fill="#fff0f0"/>
<rect x="327.48" y="79.1" width="4.59" height="4.6" fill="#ffffff"/>
<rect x="332.07" y="79.1" width="4.59" height="4.6" fill="#ffcccc"/>
<rect x="336.66" y="79.1" width="4.59" height="4.6" fill="#bdbdbd"/>
<rect x="341.25" y="79.1" width="4.59" height="4.6" fill="#fff0f0"/>
<rect x="345.84" y="79.1" width="4.59" height="4.6" fill="#fff0f0"/>
<rect x="350.43" y="79.1" width="4.59" height="4.6" fill="#bdbdbd"/>
<rect x="355.02" y="79.1" width="4.59" height="4.6" fill="#efefff"/>
<rect x="359.61" y="79.1" width="4.59" height="4.6" fill="#fff0f0"/>
<rect x="364.19" y="79.1" width="4.59" height="4.6" fill="#ffcccc"/>
<rect x="368.78" y="79.1" width="4.59" height="4.6" fill="#bdbdbd"/>
<rect x="373.37" y="79.1" width="4.59" height="4.6" fill="#ffffff"/>
<rect x="377.96" y="79.1" width="4.59" height="4.6" fill="#fff0f0"/>
<rect x="382.55" y="79.1" width="4.59" height="4.6" fill="#babaff"/>
<rect x="387.14" y="79.1" width="4.59" height="4.6" fill="#fff0f0"/>
<rect x="391.73" y="79.1" width="4.59" height="4.6" fill="#ffffff"/>
<rect x="396.32" y="79.1" width="4.59" height="4.6" fill="#babaff"/>
<rect x="400.91" y="79.1" width="4.59" height="4.6" fill="#ffb2b2"/>
<rect x="318.3" y="83.7" width="4.59" height="4.6" fill="#ffffff"/>
<rect x="322.89" y="83.7" width="4.59" height="4.6" fill="#fff0f0"/>
<rect x="327.48" y="83.7" width="4.59" height="4.6" fill="#ffffff"/>
<rect x="332.07" y="83.7" width="4.59" height="4.6" fill="#ffcccc"/>
<rect x="336.66" y="83.7" width="4.59" height="4.6" fill="#bdbdbd"/>
<rect x="341.25" y="83.7" width="4.59" height="4.6" fill="#fff0f0"/>
<rect x="345.84" y="83.7" width="4.59" height="4.6" fill="#ffffff"/>
<rect x="350.43" y="83.7" width="4.59" height="4.6" fill="#bdbdbd"/>
<rect x="355.02" y="83.7" width="4.59" height="4.6" fill="#ffffff"/>
<rect x="359.61" y="83.7" width="4.59" height="4.6" fill="#ffb2b2"/>
<rect x="364.19" y="83.7" width="4.59" height="4.6" fill="#fff0f0"/>
<rect x="368.78" y="83.7" width="4.59" height="4.6" fill="#bdbdbd"/>
<rect x="373.37" y="83.7" width="4.59" height="4.6" fill="#ffffff"/>
<rect x="377.96" y="83.7" width="4.59" height="4.6" fill="#ffffff"/>
<rect x="382.55" y="83.7" width="4.59" height="4.6" fill="#babaff"/>
<rect x="387.14" y="83.7" width="4.59" height="4.6" fill="#ffffff"/>
<rect x="391.73" y="83.7" width="4.59" height="4.6" fill="#ffffff"/>
<rect x="396.32" y="83.7" width="4.59" height="4.6" fill="#d1d1ff"/>
<rect x="400.91" y="83.7" width="4.59" height="4.6" fill="#ffb2b2"/>
<rect x="318.3" y="88.3" width="4.59" height="4.6" fill="#efefff"/>
<rect x="322.89" y="88.3" width="4.59" height="4.6" fill="#ffffff"/>
<rect x="327.48" y="88.3" width="4.59" height="4.6" fill="#babaff"/>
<rect x="332.07" y="88.3" width="4.59" height="4.6" fill="#fff0f0"/>
<rect x="336.66" y="88.3" width="4.59" height="4.6" fill="#bdbdbd"/>
<rect x="341.25" y="88.3" width="4.59" height="4.6" fill="#ffcccc"/>
<rect x="345.84" y="88.3" width="4.59" height="4.6" fill="#fff0f0"/>
<rect x="350.43" y="88.3" width="4.59" height="4.6" fill="#bdbdbd"/>
<rect x="355.02" y="88.3" width="4.59" height="4.6" fill="#ff6666"/>
<rect x="359.61" y="88.3" width="4.59" height="4.6" fill="#ff3333"/>
<rect x="364.19" y="88.3" width="4.59" height="4.6" fill="#ff6666"/>
<rect x="368.78" y="88.3" width="4.59" height="4.6" fill="#bdbdbd"/>
<rect x="373.37" y="88.3" width="4.59" height="4.6" fill="#d1d1ff"/>
<rect x="377.96" y="88.3" width="4.59" height="4.6" fill="#ffffff"/>
<rect x="382.55" y="88.3" width="4.59" height="4.6" fill="#d1d1ff"/>
<rect x="387.14" y="88.3" width="4.59" height="4.6" fill="#ffffff"/>
<rect x="391.73" y="88.3" width="4.59" height="4.6" fill="#ffffff"/>
<rect x="396.32" y="88.3" width="4.59" height="4.6" fill="#efefff"/>
<rect x="400.91" y="88.3" width="4.59" height="4.6" fill="#ffb2b2"/>
<rect x="318.3" y="92.9" width="4.59" height="4.6" fill="#efefff"/>
<rect x="322.89" y="92.9" width="4.59" height="4.6" fill="#ffffff"/>
<rect x="327.48" y="92.9" width="4.59" height="4.6" fill="#d1d1ff"/>
<rect x="332.07" y="92.9" width="4.59" height="4.6" fill="#fff0f0"/>
<rect x="336.66" y="92.9" width="4.59" height="4.6" fill="#bdbdbd"/>
<rect x="341.25" y="92.9" width="4.59" height="4.6" fill="#ffcccc"/>
<rect x="345.84" y="92.9" width="4.59" height="4.6" fill="#fff0f0"/>
<rect x="350.43" y="92.9" width="4.59" height="4.6" fill="#bdbdbd"/>
<rect x="355.02" y="92.9" width="4.59" height="4.6" fill="#ff8080"/>
<rect x="359.61" y="92.9" width="4.59" height="4.6" fill="#ff6666"/>
<rect x="364.19" y="92.9" width="4.59" height="4.6" fill="#ff9999"/>
<rect x="368.78" y="92.9" width="4.59" height="4.6" fill="#bdbdbd"/>
<rect x="373.37" y="92.9" width="4.59" height="4.6" fill="#d1d1ff"/>
<rect x="377.96" y="92.9" width="4.59" height="4.6" fill="#ffffff"/>
<rect x="382.55" y="92.9" width="4.59" height="4.6" fill="#d1d1ff"/>
<rect x="387.14" y="92.9" width="4.59" height="4.6" fill="#ffffff"/>
<rect x="391.73" y="92.9" width="4.59" height="4.6" fill="#ffffff"/>
<rect x="396.32" y="92.9" width="4.59" height="4.6" fill="#ffffff"/>
<rect x="400.91" y="92.9" width="4.59" height="4.6" fill="#ffb2b2"/>
<rect x="318.3" y="97.5" width="4.59" height="4.6" fill="#ffffff"/>
<rect x="322.89" y="97.5" width="4.59" height="4.6" fill="#ffffff"/>
<rect x="327.48" y="97.5" width="4.59" height="4.6" fill="#d1d1ff"/>
<rect x="332.07" y="97.5" width="4.59" height="4.6" fill="#ffffff"/>
<rect x="336.66" y="97.5" width="4.59" height="4.6" fill="#bdbdbd"/>
<rect x="341.25" y="97.5" width="4.59" height="4.6" fill="#fff0f0"/>
<rect x="345.84" y="97.5" width="4.59" height="4.6" fill="#ffffff"/>
<rect x="350.43" y="97.5" width="4.59" height="4.6" fill="#bdbdbd"/>
<rect x="355.02" y="97.5" width="4.59" height="4.6" fill="#ff8080"/>
<rect x="359.61" y="97.5" width="4.59" height="4.6" fill="#ff6666"/>
<rect x="364.19" y="97.5" width="4.59" height="4.6" fill="#ffb2b2"/>
<rect x="368.78" y="97.5" width="4.59" height="4.6" fill="#bdbdbd"/>
<rect x="373.37" y="97.5" width="4.59" height="4.6" fill="#d1d1ff"/>
<rect x="377.96" y="97.5" width="4.59" height="4.6" fill="#ffffff"/>
<rect x="382.55" y="97.5" width="4.59" height="4.6" fill="#d1d1ff"/>
<rect x="387.14" y="97.5" width="4.59" height="4.6" fill="#ffffff"/>
<rect x="391.73" y="97.5" width="4.59" height="4.6" fill="#efefff"/>
<rect x="396.32" y="97.5" width="4.59" height="4.6" fill="#ffffff"/>
<rect x="400.91" y="97.5" width="4.59" height="4.6" fill="#ffb2b2"/>
<rect x="318.3" y="102.1" width="4.59" height="4.6" fill="#d1d1ff"/>
<rect x="322.89" y="102.1" width="4.59" height="4.6" fill="#ffffff"/>
<rect x="327.48" y="102.1" width="4.59" height="4.6" fill="#d1d1ff"/>
<rect x="332.07" y="102.1" width="4.59" height="4.6" fill="#fff0f0"/>
<rect x="336.66" y="102.1" width="4.59" height="4.6" fill="#bdbdbd"/>
<rect x="341.25" y="102.1" width="4.59" height="4.6" fill="#ffcccc"/>
<rect x="345.84" y="102.1" width="4.59" height="4.6" fill="#ffb2b2"/>
<rect x="350.43" y="102.1" width="4.59" height="4.6" fill="#bdbdbd"/>
<rect x="355.02" y="102.1" width="4.59" height="4.6" fill="#ff3333"/>
<rect x="359.61" y="102.1" width="4.59" height="4.6" fill="#ff1919"/>
<rect x="364.19" y="102.1" width="4.59" height="4.6" fill="#ff4d4d"/>
<rect x="368.78" y="102.1" width="4.59" height="4.6" fill="#bdbdbd"/>
<rect x="373.37" y="102.1" width="4.59" height="4.6" fill="#d1d1ff"/>
<rect x="377.96" y="102.1" width="4.59" height="4.6" fill="#efefff"/>
<rect x="382.55" y="102.1" width="4.59" height="4.6" fill="#ffcccc"/>
<rect x="387.14" y="102.1" width="4.59" height="4.6" fill="#ffffff"/>
<rect x="391.73" y="102.1" width="4.59" height="4.6" fill="#d1d1ff"/>
<rect x="396.32" y="102.1" width="4.59" height="4.6" fill="#fff0f0"/>
<rect x="400.91" y="102.1" width="4.59" height="4.6" fill="#ffb2b2"/>
<rect x="318.3" y="106.7" width="4.59" height="4.6" fill="#babaff"/>
<rect x="322.89" y="106.7" width="4.59" height="4.6" fill="#ffffff"/>
<rect x="327.48" y="106.7" width="4.59" height="4.6" fill="#efefff"/>
<rect x="332.07" y="106.7" width="4.59" height="4.6" fill="#fff0f0"/>
<rect x="336.66" y="106.7" width="4.59" height="4.6" fill="#bdbdbd"/>
<rect x="341.25" y="106.7" width="4.59" height="4.6" fill="#ffcccc"/>
<rect x="345.84" y="106.7" width="4.59" height="4.6" fill="#ffffff"/>
<rect x="350.43" y="106.7" width="4.59" height="4.6" fill="#bdbdbd"/>
<rect x="355.02" y="106.7" width="4.59" height="4.6" fill="#ff3333"/>
<rect x="359.61" y="106.7" width="4.59" height="4.6" fill="#ff1919"/>
<rect x="364.19" y="106.7" width="4.59" height="4.6" fill="#ff6666"/>
<rect x="368.78" y="106.7" width="4.59" height="4.6" fill="#bdbdbd"/>
<rect x="373.37" y="106.7" width="4.59" height="4.6" fill="#d1d1ff"/>
<rect x="377.96" y="106.7" width="4.59" height="4.6" fill="#efefff"/>
<rect x="382.55" y="106.7" width="4.59" height="4.6" fill="#ffcccc"/>
<rect x="387.14" y="106.7" width="4.59" height="4.6" fill="#ffffff"/>
<rect x="391.73" y="106.7" width="4.59" height="4.6" fill="#efefff"/>
<rect x="396.32" y="106.7" width="4.59" height="4.6" fill="#ffcccc"/>
<rect x="400.91" y="106.7" width="4.59" height="4.6" fill="#ffb2b2"/>
<rect x="318.3" y="111.3" width="4.59" height="4.6" fill="#d1d1ff"/>
<rect x="322.89" y="111.3" width="4.59" height="4.6" fill="#fff0f0"/>
<rect x="327.48" y="111.3" width="4.59" height="4.6" fill="#efefff"/>
<rect x="332.07" y="111.3" width="4.59" height="4.6" fill="#fff0f0"/>
<rect x="336.66" y="111.3" width="4.59" height="4.6" fill="#bdbdbd"/>
<rect x="341.25" y="111.3" width="4.59" height="4.6" fill="#ffcccc"/>
<rect x="345.84" y="111.3" width="4.59" height="4.6" fill="#fff0f0"/>
<rect x="350.43" y="111.3" width="4.59" height="4.6" fill="#bdbdbd"/>
<rect x="355.02" y="111.3" width="4.59" height="4.6" fill="#ff3333"/>
<rect x="359.61" y="111.3" width="4.59" height="4.6" fill="#ff3333"/>
<rect x="364.19" y="111.3" width="4.59" height="4.6" fill="#ff6666"/>
<rect x="368.78" y="111.3" width="4.59" height="4.6" fill="#bdbdbd"/>
<rect x="373.37" y="111.3" width="4.59" height="4.6" fill="#d1d1ff"/>
<rect x="377.96" y="111.3" width="4.59" height="4.6" fill="#efefff"/>
<rect x="382.55" y="111.3" width="4.59" height="4.6" fill="#ffcccc"/>
<rect x="387.14" y="111.3" width="4.59" height="4.6" fill="#ffffff"/>
<rect x="391.73" y="111.3" width="4.59" height="4.6" fill="#efefff"/>
<rect x="396.32" y="111.3" width="4.59" height="4.6" fill="#ffcccc"/>
<rect x="400.91" y="111.3" width="4.59" height="4.6" fill="#ffb2b2"/>
<rect x="318.3" y="115.9" width="4.59" height="4.6" fill="#d1d1ff"/>
<rect x="322.89" y="115.9" width="4.59" height="4.6" fill="#efefff"/>
<rect x="327.48" y="115.9" width="4.59" height="4.6" fill="#d1d1ff"/>
<rect x="332.07" y="115.9" width="4.59" height="4.6" fill="#efefff"/>
<rect x="336.66" y="115.9" width="4.59" height="4.6" fill="#bdbdbd"/>
<rect x="341.25" y="115.9" width="4.59" height="4.6" fill="#fff0f0"/>
<rect x="345.84" y="115.9" width="4.59" height="4.6" fill="#fff0f0"/>
<rect x="350.43" y="115.9" width="4.59" height="4.6" fill="#bdbdbd"/>
<rect x="355.02" y="115.9" width="4.59" height="4.6" fill="#ff3333"/>
<rect x="359.61" y="115.9" width="4.59" height="4.6" fill="#ff3333"/>
<rect x="364.19" y="115.9" width="4.59" height="4.6" fill="#ff6666"/>
<rect x="368.78" y="115.9" width="4.59" height="4.6" fill="#bdbdbd"/>
<rect x="373.37" y="115.9" width="4.59" height="4.6" fill="#efefff"/>
<rect x="377.96" y="115.9" width="4.59" height="4.6" fill="#efefff"/>
<rect x="382.55" y="115.9" width="4.59" height="4.6" fill="#fff0f0"/>
<rect x="387.14" y="115.9" width="4.59" height="4.6" fill="#d1d1ff"/>
<rect x="391.73" y="115.9" width="4.59" height="4.6" fill="#d1d1ff"/>
<rect x="396.32" y="115.9" width="4.59" height="4.6" fill="#fff0f0"/>
<rect x="400.91" y="115.9" width="4.59" height="4.6" fill="#ffb2b2"/>
<rect x="318.3" y="120.5" width="4.59" height="4.6" fill="#babaff"/>
<rect x="322.89" y="120.5" width="4.59" height="4.6" fill="#efefff"/>
<rect x="327.48" y="120.5" width="4.59" height="4.6" fill="#d1d1ff"/>
<rect x="332.07" y="120.5" width="4.59" height="4.6" fill="#efefff"/>
<rect x="336.66" y="120.5" width="4.59" height="4.6" fill="#bdbdbd"/>
<rect x="341.25" y="120.5" width="4.59" height="4.6" fill="#fff0f0"/>
<rect x="345.84" y="120.5" width="4.59" height="4.6" fill="#ffffff"/>
<rect x="350.43" y="120.5" width="4.59" height="4.6" fill="#bdbdbd"/>
<rect x="355.02" y="120.5" width="4.59" height="4.6" fill="#ff3333"/>
<rect x="359.61" y="120.5" width="4.59" height="4.6" fill="#ff3333"/>
<rect x="364.19" y="120.5" width="4.59" height="4.6" fill="#ff6666"/>
<rect x="368.78" y="120.5" width="4.59" height="4.6" fill="#bdbdbd"/>
<rect x="373.37" y="120.5" width="4.59" height="4.6" fill="#d1d1ff"/>
<rect x="377.96" y="120.5" width="4.59" height="4.6" fill="#efefff"/>
<rect x="382.55" y="120.5" width="4.59" height="4.6" fill="#fff0f0"/>
<rect x="387.14" y="120.5" width="4.59" height="4.6" fill="#efefff"/>
<rect x="391.73" y="120.5" width="4.59" height="4.6" fill="#babaff"/>
<rect x="396.32" y="120.5" width="4.59" height="4.6" fill="#ffffff"/>
<rect x="400.91" y="120.5" width="4.59" height="4.6" fill="#ffb2b2"/>
<rect x="318.3" y="125.1" width="4.59" height="4.6" fill="#babaff"/>
<rect x="322.89" y="125.1" width="4.59" height="4.6" fill="#efefff"/>
<rect x="327.48" y="125.1" width="4.59" height="4.6" fill="#d1d1ff"/>
<rect x="332.07" y="125.1" width="4.59" height="4.6" fill="#efefff"/>
<rect x="336.66" y="125.1" width="4.59" height="4.6" fill="#bdbdbd"/>
<rect x="341.25" y="125.1" width="4.59" height="4.6" fill="#ffffff"/>
<rect x="345.84" y="125.1" width="4.59" height="4.6" fill="#ffffff"/>
<rect x="350.43" y="125.1" width="4.59" height="4.6" fill="#bdbdbd"/>
<rect x="355.02" y="125.1" width="4.59" height="4.6" fill="#ff3333"/>
<rect x="359.61" y="125.1" width="4.59" height="4.6" fill="#ff3333"/>
<rect x="364.19" y="125.1" width="4.59" height="4.6" fill="#ff6666"/>
<rect x="368.78" y="125.1" width="4.59" height="4.6" fill="#bdbdbd"/>
<rect x="373.37" y="125.1" width="4.59" height="4.6" fill="#d1d1ff"/>
<rect x="377.96" y="125.1" width="4.59" height="4.6" fill="#ffffff"/>
<rect x="382.55" y="125.1" width="4.59" height="4.6" fill="#fff0f0"/>
<rect x="387.14" y="125.1" width="4.59" height="4.6" fill="#efefff"/>
<rect x="391.73" y="125.1" width="4.59" height="4.6" fill="#babaff"/>
<rect x="396.32" y="125.1" width="4.59" height="4.6" fill="#ffffff"/>
<rect x="400.91" y="125.1" width="4.59" height="4.6" fill="#ffb2b2"/>
<line x1="322.89" y1="60.7" x2="322.89" y2="129.7" stroke="#fff" stroke-width="0.55"/>
<line x1="327.48" y1="60.7" x2="327.48" y2="129.7" stroke="#fff" stroke-width="0.55"/>
<line x1="332.07" y1="60.7" x2="332.07" y2="129.7" stroke="#fff" stroke-width="0.55"/>
<line x1="336.66" y1="60.7" x2="336.66" y2="129.7" stroke="#fff" stroke-width="0.55"/>
<line x1="341.25" y1="60.7" x2="341.25" y2="129.7" stroke="#fff" stroke-width="0.55"/>
<line x1="345.84" y1="60.7" x2="345.84" y2="129.7" stroke="#fff" stroke-width="0.55"/>
<line x1="350.43" y1="60.7" x2="350.43" y2="129.7" stroke="#fff" stroke-width="0.55"/>
<line x1="355.02" y1="60.7" x2="355.02" y2="129.7" stroke="#fff" stroke-width="0.55"/>
<line x1="359.61" y1="60.7" x2="359.61" y2="129.7" stroke="#fff" stroke-width="0.55"/>
<line x1="364.19" y1="60.7" x2="364.19" y2="129.7" stroke="#fff" stroke-width="0.55"/>
<line x1="368.78" y1="60.7" x2="368.78" y2="129.7" stroke="#fff" stroke-width="0.55"/>
<line x1="373.37" y1="60.7" x2="373.37" y2="129.7" stroke="#fff" stroke-width="0.55"/>
<line x1="377.96" y1="60.7" x2="377.96" y2="129.7" stroke="#fff" stroke-width="0.55"/>
<line x1="382.55" y1="60.7" x2="382.55" y2="129.7" stroke="#fff" stroke-width="0.55"/>
<line x1="387.14" y1="60.7" x2="387.14" y2="129.7" stroke="#fff" stroke-width="0.55"/>
<line x1="391.73" y1="60.7" x2="391.73" y2="129.7" stroke="#fff" stroke-width="0.55"/>
<line x1="396.32" y1="60.7" x2="396.32" y2="129.7" stroke="#fff" stroke-width="0.55"/>
<line x1="400.91" y1="60.7" x2="400.91" y2="129.7" stroke="#fff" stroke-width="0.55"/>
<line x1="318.3" y1="65.3" x2="405.5" y2="65.3" stroke="#fff" stroke-width="0.55"/>
<line x1="318.3" y1="69.9" x2="405.5" y2="69.9" stroke="#fff" stroke-width="0.55"/>
<line x1="318.3" y1="79.1" x2="405.5" y2="79.1" stroke="#fff" stroke-width="0.55"/>
<line x1="318.3" y1="83.7" x2="405.5" y2="83.7" stroke="#fff" stroke-width="0.55"/>
<line x1="318.3" y1="88.3" x2="405.5" y2="88.3" stroke="#fff" stroke-width="0.55"/>
<line x1="318.3" y1="92.9" x2="405.5" y2="92.9" stroke="#fff" stroke-width="0.55"/>
<line x1="318.3" y1="97.5" x2="405.5" y2="97.5" stroke="#fff" stroke-width="0.55"/>
<line x1="318.3" y1="102.1" x2="405.5" y2="102.1" stroke="#fff" stroke-width="0.55"/>
<line x1="318.3" y1="106.7" x2="405.5" y2="106.7" stroke="#fff" stroke-width="0.55"/>
<line x1="318.3" y1="111.3" x2="405.5" y2="111.3" stroke="#fff" stroke-width="0.55"/>
<line x1="318.3" y1="115.9" x2="405.5" y2="115.9" stroke="#fff" stroke-width="0.55"/>
<line x1="318.3" y1="120.5" x2="405.5" y2="120.5" stroke="#fff" stroke-width="0.55"/>
<line x1="318.3" y1="125.1" x2="405.5" y2="125.1" stroke="#fff" stroke-width="0.55"/>
<rect x="318.3" y="60.7" width="87.2" height="69" fill="none" stroke="#333" stroke-width="1"/>
<line x1="318.3" y1="74.5" x2="405.5" y2="74.5" stroke="#111" stroke-width="0.9"/>
<text x="25.2" y="69.55" font-size="5.4" text-anchor="end" fill="#000">Control d0</text>
<text x="25.2" y="83.35" font-size="5.4" text-anchor="end" fill="#000">10Gy d1</text>
<text x="25.2" y="97.15" font-size="5.4" text-anchor="end" fill="#000">10Gy d2</text>
<text x="25.2" y="110.95" font-size="5.4" text-anchor="end" fill="#000">10Gy d3</text>
<text x="25.2" y="124.75" font-size="5.4" text-anchor="end" fill="#000">10Gy d4</text>
<line x1="26.6" y1="60.7" x2="26.6" y2="129.7" stroke="#222" stroke-width="0.7"/>
<line x1="26.6" y1="60.7" x2="28.9" y2="60.7" stroke="#222" stroke-width="0.7"/>
<line x1="26.6" y1="74.5" x2="28.9" y2="74.5" stroke="#222" stroke-width="0.7"/>
<line x1="26.6" y1="88.3" x2="28.9" y2="88.3" stroke="#222" stroke-width="0.7"/>
<line x1="26.6" y1="102.1" x2="28.9" y2="102.1" stroke="#222" stroke-width="0.7"/>
<line x1="26.6" y1="115.9" x2="28.9" y2="115.9" stroke="#222" stroke-width="0.7"/>
<line x1="26.6" y1="129.7" x2="28.9" y2="129.7" stroke="#222" stroke-width="0.7"/>
<text x="31.75" y="144.9" font-size="6.6" font-weight="bold" fill="#000">UPCISCC 131</text>
<text transform="translate(35.97,163) rotate(-90)" font-size="3.9" fill="#222">CXCR2</text>
<text transform="translate(40.6,163) rotate(-90)" font-size="3.9" fill="#222">CXCL1</text>
<text transform="translate(45.24,163) rotate(-90)" font-size="3.9" fill="#222">CXCL2</text>
<text transform="translate(49.87,163) rotate(-90)" font-size="3.9" fill="#222">CXCL3</text>
<text transform="translate(54.5,163) rotate(-90)" font-size="3.9" fill="#222">CXCL5</text>
<text transform="translate(59.14,163) rotate(-90)" font-size="3.9" fill="#222">CXCL6</text>
<text transform="translate(63.77,163) rotate(-90)" font-size="3.9" fill="#222">CXCL7</text>
<text transform="translate(68.41,163) rotate(-90)" font-size="3.9" fill="#222">CXCL8</text>
<text transform="translate(73.04,163) rotate(-90)" font-size="3.9" fill="#222">CXCL10</text>
<text transform="translate(77.67,163) rotate(-90)" font-size="3.9" fill="#222">CXCL11</text>
<text transform="translate(82.31,163) rotate(-90)" font-size="3.9" fill="#222">CCL3</text>
<text transform="translate(86.94,163) rotate(-90)" font-size="3.9" fill="#222">CCL25</text>
<text transform="translate(91.58,163) rotate(-90)" font-size="3.9" fill="#222">IL1α</text>
<text transform="translate(96.21,163) rotate(-90)" font-size="3.9" fill="#222">IL1β</text>
<text transform="translate(100.85,163) rotate(-90)" font-size="3.9" fill="#222">IL6</text>
<text transform="translate(105.48,163) rotate(-90)" font-size="3.9" fill="#222">GM-CSF</text>
<text transform="translate(110.11,163) rotate(-90)" font-size="3.9" fill="#222">MIF</text>
<text transform="translate(114.75,163) rotate(-90)" font-size="3.9" fill="#222">EGF</text>
<text transform="translate(119.38,163) rotate(-90)" font-size="3.9" fill="#222">VEGF</text>
<rect x="32.45" y="164.9" width="4.63" height="4.6" fill="#bdbdbd"/>
<rect x="37.08" y="164.9" width="4.63" height="4.6" fill="#ffffff"/>
<rect x="41.72" y="164.9" width="4.63" height="4.6" fill="#ffffff"/>
<rect x="46.35" y="164.9" width="4.63" height="4.6" fill="#ffffff"/>
<rect x="50.99" y="164.9" width="4.63" height="4.6" fill="#efefff"/>
<rect x="55.62" y="164.9" width="4.63" height="4.6" fill="#bdbdbd"/>
<rect x="60.26" y="164.9" width="4.63" height="4.6" fill="#ffffff"/>
<rect x="64.89" y="164.9" width="4.63" height="4.6" fill="#ffffff"/>
<rect x="69.52" y="164.9" width="4.63" height="4.6" fill="#ffffff"/>
<rect x="74.16" y="164.9" width="4.63" height="4.6" fill="#ffffff"/>
<rect x="78.79" y="164.9" width="4.63" height="4.6" fill="#ffffff"/>
<rect x="83.43" y="164.9" width="4.63" height="4.6" fill="#bdbdbd"/>
<rect x="88.06" y="164.9" width="4.63" height="4.6" fill="#ffffff"/>
<rect x="92.69" y="164.9" width="4.63" height="4.6" fill="#ffffff"/>
<rect x="97.33" y="164.9" width="4.63" height="4.6" fill="#ffffff"/>
<rect x="101.96" y="164.9" width="4.63" height="4.6" fill="#ffffff"/>
<rect x="106.6" y="164.9" width="4.63" height="4.6" fill="#ffffff"/>
<rect x="111.23" y="164.9" width="4.63" height="4.6" fill="#fff0f0"/>
<rect x="115.87" y="164.9" width="4.63" height="4.6" fill="#ffffff"/>
<rect x="32.45" y="169.5" width="4.63" height="4.6" fill="#bdbdbd"/>
<rect x="37.08" y="169.5" width="4.63" height="4.6" fill="#ffffff"/>
<rect x="41.72" y="169.5" width="4.63" height="4.6" fill="#ffffff"/>
<rect x="46.35" y="169.5" width="4.63" height="4.6" fill="#ffffff"/>
<rect x="50.99" y="169.5" width="4.63" height="4.6" fill="#ffffff"/>
<rect x="55.62" y="169.5" width="4.63" height="4.6" fill="#bdbdbd"/>
<rect x="60.26" y="169.5" width="4.63" height="4.6" fill="#fff0f0"/>
<rect x="64.89" y="169.5" width="4.63" height="4.6" fill="#ffffff"/>
<rect x="69.52" y="169.5" width="4.63" height="4.6" fill="#ffffff"/>
<rect x="74.16" y="169.5" width="4.63" height="4.6" fill="#ffffff"/>
<rect x="78.79" y="169.5" width="4.63" height="4.6" fill="#fff0f0"/>
<rect x="83.43" y="169.5" width="4.63" height="4.6" fill="#bdbdbd"/>
<rect x="88.06" y="169.5" width="4.63" height="4.6" fill="#ffffff"/>
<rect x="92.69" y="169.5" width="4.63" height="4.6" fill="#ffffff"/>
<rect x="97.33" y="169.5" width="4.63" height="4.6" fill="#ffffff"/>
<rect x="101.96" y="169.5" width="4.63" height="4.6" fill="#ffffff"/>
<rect x="106.6" y="169.5" width="4.63" height="4.6" fill="#ffffff"/>
<rect x="111.23" y="169.5" width="4.63" height="4.6" fill="#ffffff"/>
<rect x="115.87" y="169.5" width="4.63" height="4.6" fill="#ffffff"/>
<rect x="32.45" y="174.1" width="4.63" height="4.6" fill="#bdbdbd"/>
<rect x="37.08" y="174.1" width="4.63" height="4.6" fill="#ffffff"/>
<rect x="41.72" y="174.1" width="4.63" height="4.6" fill="#ffffff"/>
<rect x="46.35" y="174.1" width="4.63" height="4.6" fill="#ffffff"/>
<rect x="50.99" y="174.1" width="4.63" height="4.6" fill="#ffffff"/>
<rect x="55.62" y="174.1" width="4.63" height="4.6" fill="#bdbdbd"/>
<rect x="60.26" y="174.1" width="4.63" height="4.6" fill="#babaff"/>
<rect x="64.89" y="174.1" width="4.63" height="4.6" fill="#ffffff"/>
<rect x="69.52" y="174.1" width="4.63" height="4.6" fill="#ffffff"/>
<rect x="74.16" y="174.1" width="4.63" height="4.6" fill="#ffffff"/>
<rect x="78.79" y="174.1" width="4.63" height="4.6" fill="#efefff"/>
<rect x="83.43" y="174.1" width="4.63" height="4.6" fill="#bdbdbd"/>
<rect x="88.06" y="174.1" width="4.63" height="4.6" fill="#ffffff"/>
<rect x="92.69" y="174.1" width="4.63" height="4.6" fill="#ffffff"/>
<rect x="97.33" y="174.1" width="4.63" height="4.6" fill="#ffffff"/>
<rect x="101.96" y="174.1" width="4.63" height="4.6" fill="#ffffff"/>
<rect x="106.6" y="174.1" width="4.63" height="4.6" fill="#ffffff"/>
<rect x="111.23" y="174.1" width="4.63" height="4.6" fill="#efefff"/>
<rect x="115.87" y="174.1" width="4.63" height="4.6" fill="#ffffff"/>
<rect x="32.45" y="178.7" width="4.63" height="4.6" fill="#bdbdbd"/>
<rect x="37.08" y="178.7" width="4.63" height="4.6" fill="#fff0f0"/>
<rect x="41.72" y="178.7" width="4.63" height="4.6" fill="#ffffff"/>
<rect x="46.35" y="178.7" width="4.63" height="4.6" fill="#fff0f0"/>
<rect x="50.99" y="178.7" width="4.63" height="4.6" fill="#ffb2b2"/>
<rect x="55.62" y="178.7" width="4.63" height="4.6" fill="#bdbdbd"/>
<rect x="60.26" y="178.7" width="4.63" height="4.6" fill="#efefff"/>
<rect x="64.89" y="178.7" width="4.63" height="4.6" fill="#fff0f0"/>
<rect x="69.52" y="178.7" width="4.63" height="4.6" fill="#ffb2b2"/>
<rect x="74.16" y="178.7" width="4.63" height="4.6" fill="#ffcccc"/>
<rect x="78.79" y="178.7" width="4.63" height="4.6" fill="#ffb2b2"/>
<rect x="83.43" y="178.7" width="4.63" height="4.6" fill="#bdbdbd"/>
<rect x="88.06" y="178.7" width="4.63" height="4.6" fill="#efefff"/>
<rect x="92.69" y="178.7" width="4.63" height="4.6" fill="#ffffff"/>
<rect x="97.33" y="178.7" width="4.63" height="4.6" fill="#efefff"/>
<rect x="101.96" y="178.7" width="4.63" height="4.6" fill="#ffffff"/>
<rect x="106.6" y="178.7" width="4.63" height="4.6" fill="#ffffff"/>
<rect x="111.23" y="178.7" width="4.63" height="4.6" fill="#efefff"/>
<rect x="115.87" y="178.7" width="4.63" height="4.6" fill="#fff0f0"/>
<rect x="32.45" y="183.3" width="4.63" height="4.6" fill="#bdbdbd"/>
<rect x="37.08" y="183.3" width="4.63" height="4.6" fill="#fff0f0"/>
<rect x="41.72" y="183.3" width="4.63" height="4.6" fill="#ffffff"/>
<rect x="46.35" y="183.3" width="4.63" height="4.6" fill="#fff0f0"/>
<rect x="50.99" y="183.3" width="4.63" height="4.6" fill="#ffb2b2"/>
<rect x="55.62" y="183.3" width="4.63" height="4.6" fill="#bdbdbd"/>
<rect x="60.26" y="183.3" width="4.63" height="4.6" fill="#ffffff"/>
<rect x="64.89" y="183.3" width="4.63" height="4.6" fill="#fff0f0"/>
<rect x="69.52" y="183.3" width="4.63" height="4.6" fill="#ffb2b2"/>
<rect x="74.16" y="183.3" width="4.63" height="4.6" fill="#ffcccc"/>
<rect x="78.79" y="183.3" width="4.63" height="4.6" fill="#ffb2b2"/>
<rect x="83.43" y="183.3" width="4.63" height="4.6" fill="#bdbdbd"/>
<rect x="88.06" y="183.3" width="4.63" height="4.6" fill="#efefff"/>
<rect x="92.69" y="183.3" width="4.63" height="4.6" fill="#efefff"/>
<rect x="97.33" y="183.3" width="4.63" height="4.6" fill="#efefff"/>
<rect x="101.96" y="183.3" width="4.63" height="4.6" fill="#ffffff"/>
<rect x="106.6" y="183.3" width="4.63" height="4.6" fill="#ffffff"/>
<rect x="111.23" y="183.3" width="4.63" height="4.6" fill="#efefff"/>
<rect x="115.87" y="183.3" width="4.63" height="4.6" fill="#fff0f0"/>
<rect x="32.45" y="187.9" width="4.63" height="4.6" fill="#bdbdbd"/>
<rect x="37.08" y="187.9" width="4.63" height="4.6" fill="#fff0f0"/>
<rect x="41.72" y="187.9" width="4.63" height="4.6" fill="#ffffff"/>
<rect x="46.35" y="187.9" width="4.63" height="4.6" fill="#fff0f0"/>
<rect x="50.99" y="187.9" width="4.63" height="4.6" fill="#ffffff"/>
<rect x="55.62" y="187.9" width="4.63" height="4.6" fill="#bdbdbd"/>
<rect x="60.26" y="187.9" width="4.63" height="4.6" fill="#a3a3ff"/>
<rect x="64.89" y="187.9" width="4.63" height="4.6" fill="#ffffff"/>
<rect x="69.52" y="187.9" width="4.63" height="4.6" fill="#ffcccc"/>
<rect x="74.16" y="187.9" width="4.63" height="4.6" fill="#fff0f0"/>
<rect x="78.79" y="187.9" width="4.63" height="4.6" fill="#ffcccc"/>
<rect x="83.43" y="187.9" width="4.63" height="4.6" fill="#bdbdbd"/>
<rect x="88.06" y="187.9" width="4.63" height="4.6" fill="#efefff"/>
<rect x="92.69" y="187.9" width="4.63" height="4.6" fill="#ffffff"/>
<rect x="97.33" y="187.9" width="4.63" height="4.6" fill="#efefff"/>
<rect x="101.96" y="187.9" width="4.63" height="4.6" fill="#ffffff"/>
<rect x="106.6" y="187.9" width="4.63" height="4.6" fill="#ffffff"/>
<rect x="111.23" y="187.9" width="4.63" height="4.6" fill="#efefff"/>
<rect x="115.87" y="187.9" width="4.63" height="4.6" fill="#fff0f0"/>
<rect x="32.45" y="192.5" width="4.63" height="4.6" fill="#bdbdbd"/>
<rect x="37.08" y="192.5" width="4.63" height="4.6" fill="#ffb2b2"/>
<rect x="41.72" y="192.5" width="4.63" height="4.6" fill="#ffcccc"/>
<rect x="46.35" y="192.5" width="4.63" height="4.6" fill="#ffb2b2"/>
<rect x="50.99" y="192.5" width="4.63" height="4.6" fill="#ff4d4d"/>
<rect x="55.62" y="192.5" width="4.63" height="4.6" fill="#bdbdbd"/>
<rect x="60.26" y="192.5" width="4.63" height="4.6" fill="#ffb2b2"/>
<rect x="64.89" y="192.5" width="4.63" height="4.6" fill="#ffb2b2"/>
<rect x="69.52" y="192.5" width="4.63" height="4.6" fill="#ffb2b2"/>
<rect x="74.16" y="192.5" width="4.63" height="4.6" fill="#ffb2b2"/>
<rect x="78.79" y="192.5" width="4.63" height="4.6" fill="#ff8080"/>
<rect x="83.43" y="192.5" width="4.63" height="4.6" fill="#bdbdbd"/>
<rect x="88.06" y="192.5" width="4.63" height="4.6" fill="#fff0f0"/>
<rect x="92.69" y="192.5" width="4.63" height="4.6" fill="#fff0f0"/>
<rect x="97.33" y="192.5" width="4.63" height="4.6" fill="#ffffff"/>
<rect x="101.96" y="192.5" width="4.63" height="4.6" fill="#ffb2b2"/>
<rect x="106.6" y="192.5" width="4.63" height="4.6" fill="#ffffff"/>
<rect x="111.23" y="192.5" width="4.63" height="4.6" fill="#babaff"/>
<rect x="115.87" y="192.5" width="4.63" height="4.6" fill="#ffcccc"/>
<rect x="32.45" y="197.1" width="4.63" height="4.6" fill="#bdbdbd"/>
<rect x="37.08" y="197.1" width="4.63" height="4.6" fill="#ffb2b2"/>
<rect x="41.72" y="197.1" width="4.63" height="4.6" fill="#ffcccc"/>
<rect x="46.35" y="197.1" width="4.63" height="4.6" fill="#ffb2b2"/>
<rect x="50.99" y="197.1" width="4.63" height="4.6" fill="#ff6666"/>
<rect x="55.62" y="197.1" width="4.63" height="4.6" fill="#bdbdbd"/>
<rect x="60.26" y="197.1" width="4.63" height="4.6" fill="#ffb2b2"/>
<rect x="64.89" y="197.1" width="4.63" height="4.6" fill="#ffb2b2"/>
<rect x="69.52" y="197.1" width="4.63" height="4.6" fill="#ffcccc"/>
<rect x="74.16" y="197.1" width="4.63" height="4.6" fill="#ffcccc"/>
<rect x="78.79" y="197.1" width="4.63" height="4.6" fill="#ff8080"/>
<rect x="83.43" y="197.1" width="4.63" height="4.6" fill="#bdbdbd"/>
<rect x="88.06" y="197.1" width="4.63" height="4.6" fill="#fff0f0"/>
<rect x="92.69" y="197.1" width="4.63" height="4.6" fill="#fff0f0"/>
<rect x="97.33" y="197.1" width="4.63" height="4.6" fill="#ffffff"/>
<rect x="101.96" y="197.1" width="4.63" height="4.6" fill="#ffcccc"/>
<rect x="106.6" y="197.1" width="4.63" height="4.6" fill="#efefff"/>
<rect x="111.23" y="197.1" width="4.63" height="4.6" fill="#babaff"/>
<rect x="115.87" y="197.1" width="4.63" height="4.6" fill="#fff0f0"/>
<rect x="32.45" y="201.7" width="4.63" height="4.6" fill="#bdbdbd"/>
<rect x="37.08" y="201.7" width="4.63" height="4.6" fill="#ffb2b2"/>
<rect x="41.72" y="201.7" width="4.63" height="4.6" fill="#ffcccc"/>
<rect x="46.35" y="201.7" width="4.63" height="4.6" fill="#ffb2b2"/>
<rect x="50.99" y="201.7" width="4.63" height="4.6" fill="#ff6666"/>
<rect x="55.62" y="201.7" width="4.63" height="4.6" fill="#bdbdbd"/>
<rect x="60.26" y="201.7" width="4.63" height="4.6" fill="#ffb2b2"/>
<rect x="64.89" y="201.7" width="4.63" height="4.6" fill="#ffb2b2"/>
<rect x="69.52" y="201.7" width="4.63" height="4.6" fill="#ffcccc"/>
<rect x="74.16" y="201.7" width="4.63" height="4.6" fill="#ffcccc"/>
<rect x="78.79" y="201.7" width="4.63" height="4.6" fill="#ff8080"/>
<rect x="83.43" y="201.7" width="4.63" height="4.6" fill="#bdbdbd"/>
<rect x="88.06" y="201.7" width="4.63" height="4.6" fill="#fff0f0"/>
<rect x="92.69" y="201.7" width="4.63" height="4.6" fill="#fff0f0"/>
<rect x="97.33" y="201.7" width="4.63" height="4.6" fill="#ffffff"/>
<rect x="101.96" y="201.7" width="4.63" height="4.6" fill="#ffb2b2"/>
<rect x="106.6" y="201.7" width="4.63" height="4.6" fill="#efefff"/>
<rect x="111.23" y="201.7" width="4.63" height="4.6" fill="#babaff"/>
<rect x="115.87" y="201.7" width="4.63" height="4.6" fill="#fff0f0"/>
<rect x="32.45" y="206.3" width="4.63" height="4.6" fill="#bdbdbd"/>
<rect x="37.08" y="206.3" width="4.63" height="4.6" fill="#ffcccc"/>
<rect x="41.72" y="206.3" width="4.63" height="4.6" fill="#ffcccc"/>
<rect x="46.35" y="206.3" width="4.63" height="4.6" fill="#ffb2b2"/>
<rect x="50.99" y="206.3" width="4.63" height="4.6" fill="#ff4d4d"/>
<rect x="55.62" y="206.3" width="4.63" height="4.6" fill="#bdbdbd"/>
<rect x="60.26" y="206.3" width="4.63" height="4.6" fill="#ff6666"/>
<rect x="64.89" y="206.3" width="4.63" height="4.6" fill="#ffb2b2"/>
<rect x="69.52" y="206.3" width="4.63" height="4.6" fill="#ffcccc"/>
<rect x="74.16" y="206.3" width="4.63" height="4.6" fill="#ffcccc"/>
<rect x="78.79" y="206.3" width="4.63" height="4.6" fill="#ff6666"/>
<rect x="83.43" y="206.3" width="4.63" height="4.6" fill="#bdbdbd"/>
<rect x="88.06" y="206.3" width="4.63" height="4.6" fill="#fff0f0"/>
<rect x="92.69" y="206.3" width="4.63" height="4.6" fill="#fff0f0"/>
<rect x="97.33" y="206.3" width="4.63" height="4.6" fill="#efefff"/>
<rect x="101.96" y="206.3" width="4.63" height="4.6" fill="#ffb2b2"/>
<rect x="106.6" y="206.3" width="4.63" height="4.6" fill="#d1d1ff"/>
<rect x="111.23" y="206.3" width="4.63" height="4.6" fill="#a3a3ff"/>
<rect x="115.87" y="206.3" width="4.63" height="4.6" fill="#fff0f0"/>
<rect x="32.45" y="210.9" width="4.63" height="4.6" fill="#bdbdbd"/>
<rect x="37.08" y="210.9" width="4.63" height="4.6" fill="#ffcccc"/>
<rect x="41.72" y="210.9" width="4.63" height="4.6" fill="#ffcccc"/>
<rect x="46.35" y="210.9" width="4.63" height="4.6" fill="#ffb2b2"/>
<rect x="50.99" y="210.9" width="4.63" height="4.6" fill="#ff4d4d"/>
<rect x="55.62" y="210.9" width="4.63" height="4.6" fill="#bdbdbd"/>
<rect x="60.26" y="210.9" width="4.63" height="4.6" fill="#ff6666"/>
<rect x="64.89" y="210.9" width="4.63" height="4.6" fill="#ffb2b2"/>
<rect x="69.52" y="210.9" width="4.63" height="4.6" fill="#ffcccc"/>
<rect x="74.16" y="210.9" width="4.63" height="4.6" fill="#ffcccc"/>
<rect x="78.79" y="210.9" width="4.63" height="4.6" fill="#ff6666"/>
<rect x="83.43" y="210.9" width="4.63" height="4.6" fill="#bdbdbd"/>
<rect x="88.06" y="210.9" width="4.63" height="4.6" fill="#fff0f0"/>
<rect x="92.69" y="210.9" width="4.63" height="4.6" fill="#fff0f0"/>
<rect x="97.33" y="210.9" width="4.63" height="4.6" fill="#efefff"/>
<rect x="101.96" y="210.9" width="4.63" height="4.6" fill="#ffb2b2"/>
<rect x="106.6" y="210.9" width="4.63" height="4.6" fill="#d1d1ff"/>
<rect x="111.23" y="210.9" width="4.63" height="4.6" fill="#babaff"/>
<rect x="115.87" y="210.9" width="4.63" height="4.6" fill="#fff0f0"/>
<rect x="32.45" y="215.5" width="4.63" height="4.6" fill="#bdbdbd"/>
<rect x="37.08" y="215.5" width="4.63" height="4.6" fill="#ffcccc"/>
<rect x="41.72" y="215.5" width="4.63" height="4.6" fill="#ffcccc"/>
<rect x="46.35" y="215.5" width="4.63" height="4.6" fill="#ffb2b2"/>
<rect x="50.99" y="215.5" width="4.63" height="4.6" fill="#ff4d4d"/>
<rect x="55.62" y="215.5" width="4.63" height="4.6" fill="#bdbdbd"/>
<rect x="60.26" y="215.5" width="4.63" height="4.6" fill="#ff8080"/>
<rect x="64.89" y="215.5" width="4.63" height="4.6" fill="#ffb2b2"/>
<rect x="69.52" y="215.5" width="4.63" height="4.6" fill="#ffcccc"/>
<rect x="74.16" y="215.5" width="4.63" height="4.6" fill="#ffcccc"/>
<rect x="78.79" y="215.5" width="4.63" height="4.6" fill="#ff6666"/>
<rect x="83.43" y="215.5" width="4.63" height="4.6" fill="#bdbdbd"/>
<rect x="88.06" y="215.5" width="4.63" height="4.6" fill="#fff0f0"/>
<rect x="92.69" y="215.5" width="4.63" height="4.6" fill="#fff0f0"/>
<rect x="97.33" y="215.5" width="4.63" height="4.6" fill="#efefff"/>
<rect x="101.96" y="215.5" width="4.63" height="4.6" fill="#ffb2b2"/>
<rect x="106.6" y="215.5" width="4.63" height="4.6" fill="#d1d1ff"/>
<rect x="111.23" y="215.5" width="4.63" height="4.6" fill="#8c8cff"/>
<rect x="115.87" y="215.5" width="4.63" height="4.6" fill="#fff0f0"/>
<rect x="32.45" y="220.1" width="4.63" height="4.6" fill="#bdbdbd"/>
<rect x="37.08" y="220.1" width="4.63" height="4.6" fill="#ffcccc"/>
<rect x="41.72" y="220.1" width="4.63" height="4.6" fill="#fff0f0"/>
<rect x="46.35" y="220.1" width="4.63" height="4.6" fill="#ffcccc"/>
<rect x="50.99" y="220.1" width="4.63" height="4.6" fill="#ff4d4d"/>
<rect x="55.62" y="220.1" width="4.63" height="4.6" fill="#bdbdbd"/>
<rect x="60.26" y="220.1" width="4.63" height="4.6" fill="#ff8080"/>
<rect x="64.89" y="220.1" width="4.63" height="4.6" fill="#ffcccc"/>
<rect x="69.52" y="220.1" width="4.63" height="4.6" fill="#ffcccc"/>
<rect x="74.16" y="220.1" width="4.63" height="4.6" fill="#ffcccc"/>
<rect x="78.79" y="220.1" width="4.63" height="4.6" fill="#ff8080"/>
<rect x="83.43" y="220.1" width="4.63" height="4.6" fill="#bdbdbd"/>
<rect x="88.06" y="220.1" width="4.63" height="4.6" fill="#ffffff"/>
<rect x="92.69" y="220.1" width="4.63" height="4.6" fill="#fff0f0"/>
<rect x="97.33" y="220.1" width="4.63" height="4.6" fill="#d1d1ff"/>
<rect x="101.96" y="220.1" width="4.63" height="4.6" fill="#ffcccc"/>
<rect x="106.6" y="220.1" width="4.63" height="4.6" fill="#d1d1ff"/>
<rect x="111.23" y="220.1" width="4.63" height="4.6" fill="#a3a3ff"/>
<rect x="115.87" y="220.1" width="4.63" height="4.6" fill="#fff0f0"/>
<rect x="32.45" y="224.7" width="4.63" height="4.6" fill="#bdbdbd"/>
<rect x="37.08" y="224.7" width="4.63" height="4.6" fill="#ffcccc"/>
<rect x="41.72" y="224.7" width="4.63" height="4.6" fill="#fff0f0"/>
<rect x="46.35" y="224.7" width="4.63" height="4.6" fill="#ffcccc"/>
<rect x="50.99" y="224.7" width="4.63" height="4.6" fill="#ff4d4d"/>
<rect x="55.62" y="224.7" width="4.63" height="4.6" fill="#bdbdbd"/>
<rect x="60.26" y="224.7" width="4.63" height="4.6" fill="#ff8080"/>
<rect x="64.89" y="224.7" width="4.63" height="4.6" fill="#ffcccc"/>
<rect x="69.52" y="224.7" width="4.63" height="4.6" fill="#ffcccc"/>
<rect x="74.16" y="224.7" width="4.63" height="4.6" fill="#ffcccc"/>
<rect x="78.79" y="224.7" width="4.63" height="4.6" fill="#ff8080"/>
<rect x="83.43" y="224.7" width="4.63" height="4.6" fill="#bdbdbd"/>
<rect x="88.06" y="224.7" width="4.63" height="4.6" fill="#ffffff"/>
<rect x="92.69" y="224.7" width="4.63" height="4.6" fill="#fff0f0"/>
<rect x="97.33" y="224.7" width="4.63" height="4.6" fill="#d1d1ff"/>
<rect x="101.96" y="224.7" width="4.63" height="4.6" fill="#ffcccc"/>
<rect x="106.6" y="224.7" width="4.63" height="4.6" fill="#d1d1ff"/>
<rect x="111.23" y="224.7" width="4.63" height="4.6" fill="#a3a3ff"/>
<rect x="115.87" y="224.7" width="4.63" height="4.6" fill="#fff0f0"/>
<rect x="32.45" y="229.3" width="4.63" height="4.6" fill="#bdbdbd"/>
<rect x="37.08" y="229.3" width="4.63" height="4.6" fill="#ffcccc"/>
<rect x="41.72" y="229.3" width="4.63" height="4.6" fill="#ffffff"/>
<rect x="46.35" y="229.3" width="4.63" height="4.6" fill="#ffcccc"/>
<rect x="50.99" y="229.3" width="4.63" height="4.6" fill="#ff4d4d"/>
<rect x="55.62" y="229.3" width="4.63" height="4.6" fill="#bdbdbd"/>
<rect x="60.26" y="229.3" width="4.63" height="4.6" fill="#ff8080"/>
<rect x="64.89" y="229.3" width="4.63" height="4.6" fill="#ffcccc"/>
<rect x="69.52" y="229.3" width="4.63" height="4.6" fill="#fff0f0"/>
<rect x="74.16" y="229.3" width="4.63" height="4.6" fill="#ffcccc"/>
<rect x="78.79" y="229.3" width="4.63" height="4.6" fill="#ff8080"/>
<rect x="83.43" y="229.3" width="4.63" height="4.6" fill="#bdbdbd"/>
<rect x="88.06" y="229.3" width="4.63" height="4.6" fill="#ffffff"/>
<rect x="92.69" y="229.3" width="4.63" height="4.6" fill="#fff0f0"/>
<rect x="97.33" y="229.3" width="4.63" height="4.6" fill="#efefff"/>
<rect x="101.96" y="229.3" width="4.63" height="4.6" fill="#ffcccc"/>
<rect x="106.6" y="229.3" width="4.63" height="4.6" fill="#efefff"/>
<rect x="111.23" y="229.3" width="4.63" height="4.6" fill="#a3a3ff"/>
<rect x="115.87" y="229.3" width="4.63" height="4.6" fill="#fff0f0"/>
<line x1="37.08" y1="164.9" x2="37.08" y2="233.9" stroke="#fff" stroke-width="0.55"/>
<line x1="41.72" y1="164.9" x2="41.72" y2="233.9" stroke="#fff" stroke-width="0.55"/>
<line x1="46.35" y1="164.9" x2="46.35" y2="233.9" stroke="#fff" stroke-width="0.55"/>
<line x1="50.99" y1="164.9" x2="50.99" y2="233.9" stroke="#fff" stroke-width="0.55"/>
<line x1="55.62" y1="164.9" x2="55.62" y2="233.9" stroke="#fff" stroke-width="0.55"/>
<line x1="60.26" y1="164.9" x2="60.26" y2="233.9" stroke="#fff" stroke-width="0.55"/>
<line x1="64.89" y1="164.9" x2="64.89" y2="233.9" stroke="#fff" stroke-width="0.55"/>
<line x1="69.52" y1="164.9" x2="69.52" y2="233.9" stroke="#fff" stroke-width="0.55"/>
<line x1="74.16" y1="164.9" x2="74.16" y2="233.9" stroke="#fff" stroke-width="0.55"/>
<line x1="78.79" y1="164.9" x2="78.79" y2="233.9" stroke="#fff" stroke-width="0.55"/>
<line x1="83.43" y1="164.9" x2="83.43" y2="233.9" stroke="#fff" stroke-width="0.55"/>
<line x1="88.06" y1="164.9" x2="88.06" y2="233.9" stroke="#fff" stroke-width="0.55"/>
<line x1="92.69" y1="164.9" x2="92.69" y2="233.9" stroke="#fff" stroke-width="0.55"/>
<line x1="97.33" y1="164.9" x2="97.33" y2="233.9" stroke="#fff" stroke-width="0.55"/>
<line x1="101.96" y1="164.9" x2="101.96" y2="233.9" stroke="#fff" stroke-width="0.55"/>
<line x1="106.6" y1="164.9" x2="106.6" y2="233.9" stroke="#fff" stroke-width="0.55"/>
<line x1="111.23" y1="164.9" x2="111.23" y2="233.9" stroke="#fff" stroke-width="0.55"/>
<line x1="115.87" y1="164.9" x2="115.87" y2="233.9" stroke="#fff" stroke-width="0.55"/>
<line x1="32.45" y1="169.5" x2="120.5" y2="169.5" stroke="#fff" stroke-width="0.55"/>
<line x1="32.45" y1="174.1" x2="120.5" y2="174.1" stroke="#fff" stroke-width="0.55"/>
<line x1="32.45" y1="183.3" x2="120.5" y2="183.3" stroke="#fff" stroke-width="0.55"/>
<line x1="32.45" y1="187.9" x2="120.5" y2="187.9" stroke="#fff" stroke-width="0.55"/>
<line x1="32.45" y1="192.5" x2="120.5" y2="192.5" stroke="#fff" stroke-width="0.55"/>
<line x1="32.45" y1="197.1" x2="120.5" y2="197.1" stroke="#fff" stroke-width="0.55"/>
<line x1="32.45" y1="201.7" x2="120.5" y2="201.7" stroke="#fff" stroke-width="0.55"/>
<line x1="32.45" y1="206.3" x2="120.5" y2="206.3" stroke="#fff" stroke-width="0.55"/>
<line x1="32.45" y1="210.9" x2="120.5" y2="210.9" stroke="#fff" stroke-width="0.55"/>
<line x1="32.45" y1="215.5" x2="120.5" y2="215.5" stroke="#fff" stroke-width="0.55"/>
<line x1="32.45" y1="220.1" x2="120.5" y2="220.1" stroke="#fff" stroke-width="0.55"/>
<line x1="32.45" y1="224.7" x2="120.5" y2="224.7" stroke="#fff" stroke-width="0.55"/>
<line x1="32.45" y1="229.3" x2="120.5" y2="229.3" stroke="#fff" stroke-width="0.55"/>
<rect x="32.45" y="164.9" width="88.05" height="69" fill="none" stroke="#333" stroke-width="1"/>
<line x1="32.45" y1="178.7" x2="120.5" y2="178.7" stroke="#111" stroke-width="0.9"/>
<text x="126.8" y="144.9" font-size="6.6" font-weight="bold" fill="#000">UPCISCC 099</text>
<text transform="translate(131.02,163) rotate(-90)" font-size="3.9" fill="#222">CXCR2</text>
<text transform="translate(135.65,163) rotate(-90)" font-size="3.9" fill="#222">CXCL1</text>
<text transform="translate(140.28,163) rotate(-90)" font-size="3.9" fill="#222">CXCL2</text>
<text transform="translate(144.91,163) rotate(-90)" font-size="3.9" fill="#222">CXCL3</text>
<text transform="translate(149.54,163) rotate(-90)" font-size="3.9" fill="#222">CXCL5</text>
<text transform="translate(154.17,163) rotate(-90)" font-size="3.9" fill="#222">CXCL6</text>
<text transform="translate(158.81,163) rotate(-90)" font-size="3.9" fill="#222">CXCL7</text>
<text transform="translate(163.44,163) rotate(-90)" font-size="3.9" fill="#222">CXCL8</text>
<text transform="translate(168.07,163) rotate(-90)" font-size="3.9" fill="#222">CXCL10</text>
<text transform="translate(172.7,163) rotate(-90)" font-size="3.9" fill="#222">CXCL11</text>
<text transform="translate(177.33,163) rotate(-90)" font-size="3.9" fill="#222">CCL3</text>
<text transform="translate(181.96,163) rotate(-90)" font-size="3.9" fill="#222">CCL25</text>
<text transform="translate(186.59,163) rotate(-90)" font-size="3.9" fill="#222">IL1α</text>
<text transform="translate(191.23,163) rotate(-90)" font-size="3.9" fill="#222">IL1β</text>
<text transform="translate(195.86,163) rotate(-90)" font-size="3.9" fill="#222">IL6</text>
<text transform="translate(200.49,163) rotate(-90)" font-size="3.9" fill="#222">GM-CSF</text>
<text transform="translate(205.12,163) rotate(-90)" font-size="3.9" fill="#222">MIF</text>
<text transform="translate(209.75,163) rotate(-90)" font-size="3.9" fill="#222">EGF</text>
<text transform="translate(214.38,163) rotate(-90)" font-size="3.9" fill="#222">VEGF</text>
<rect x="127.5" y="164.9" width="4.63" height="4.6" fill="#ffffff"/>
<rect x="132.13" y="164.9" width="4.63" height="4.6" fill="#fff0f0"/>
<rect x="136.76" y="164.9" width="4.63" height="4.6" fill="#ffffff"/>
<rect x="141.39" y="164.9" width="4.63" height="4.6" fill="#ffffff"/>
<rect x="146.03" y="164.9" width="4.63" height="4.6" fill="#f2f2ff"/>
<rect x="150.66" y="164.9" width="4.63" height="4.6" fill="#fff0f0"/>
<rect x="155.29" y="164.9" width="4.63" height="4.6" fill="#dadaff"/>
<rect x="159.92" y="164.9" width="4.63" height="4.6" fill="#bdbdbd"/>
<rect x="164.55" y="164.9" width="4.63" height="4.6" fill="#ffffff"/>
<rect x="169.18" y="164.9" width="4.63" height="4.6" fill="#fff0f0"/>
<rect x="173.82" y="164.9" width="4.63" height="4.6" fill="#f2f2ff"/>
<rect x="178.45" y="164.9" width="4.63" height="4.6" fill="#fff0f0"/>
<rect x="183.08" y="164.9" width="4.63" height="4.6" fill="#ffffff"/>
<rect x="187.71" y="164.9" width="4.63" height="4.6" fill="#ffffff"/>
<rect x="192.34" y="164.9" width="4.63" height="4.6" fill="#fff0f0"/>
<rect x="196.97" y="164.9" width="4.63" height="4.6" fill="#fff0f0"/>
<rect x="201.61" y="164.9" width="4.63" height="4.6" fill="#fff0f0"/>
<rect x="206.24" y="164.9" width="4.63" height="4.6" fill="#ffffff"/>
<rect x="210.87" y="164.9" width="4.63" height="4.6" fill="#fff0f0"/>
<rect x="127.5" y="169.5" width="4.63" height="4.6" fill="#ffffff"/>
<rect x="132.13" y="169.5" width="4.63" height="4.6" fill="#f2f2ff"/>
<rect x="136.76" y="169.5" width="4.63" height="4.6" fill="#ffffff"/>
<rect x="141.39" y="169.5" width="4.63" height="4.6" fill="#ffffff"/>
<rect x="146.03" y="169.5" width="4.63" height="4.6" fill="#ffcccc"/>
<rect x="150.66" y="169.5" width="4.63" height="4.6" fill="#ffffff"/>
<rect x="155.29" y="169.5" width="4.63" height="4.6" fill="#ffcccc"/>
<rect x="159.92" y="169.5" width="4.63" height="4.6" fill="#bdbdbd"/>
<rect x="164.55" y="169.5" width="4.63" height="4.6" fill="#fff0f0"/>
<rect x="169.18" y="169.5" width="4.63" height="4.6" fill="#ffffff"/>
<rect x="173.82" y="169.5" width="4.63" height="4.6" fill="#ffcccc"/>
<rect x="178.45" y="169.5" width="4.63" height="4.6" fill="#f2f2ff"/>
<rect x="183.08" y="169.5" width="4.63" height="4.6" fill="#ffffff"/>
<rect x="187.71" y="169.5" width="4.63" height="4.6" fill="#ffffff"/>
<rect x="192.34" y="169.5" width="4.63" height="4.6" fill="#fff0f0"/>
<rect x="196.97" y="169.5" width="4.63" height="4.6" fill="#ffffff"/>
<rect x="201.61" y="169.5" width="4.63" height="4.6" fill="#ffffff"/>
<rect x="206.24" y="169.5" width="4.63" height="4.6" fill="#ffffff"/>
<rect x="210.87" y="169.5" width="4.63" height="4.6" fill="#ffffff"/>
<rect x="127.5" y="174.1" width="4.63" height="4.6" fill="#ffffff"/>
<rect x="132.13" y="174.1" width="4.63" height="4.6" fill="#ffffff"/>
<rect x="136.76" y="174.1" width="4.63" height="4.6" fill="#ffffff"/>
<rect x="141.39" y="174.1" width="4.63" height="4.6" fill="#f2f2ff"/>
<rect x="146.03" y="174.1" width="4.63" height="4.6" fill="#f2f2ff"/>
<rect x="150.66" y="174.1" width="4.63" height="4.6" fill="#dadaff"/>
<rect x="155.29" y="174.1" width="4.63" height="4.6" fill="#ffffff"/>
<rect x="159.92" y="174.1" width="4.63" height="4.6" fill="#bdbdbd"/>
<rect x="164.55" y="174.1" width="4.63" height="4.6" fill="#ffffff"/>
<rect x="169.18" y="174.1" width="4.63" height="4.6" fill="#ffffff"/>
<rect x="173.82" y="174.1" width="4.63" height="4.6" fill="#dadaff"/>
<rect x="178.45" y="174.1" width="4.63" height="4.6" fill="#f2f2ff"/>
<rect x="183.08" y="174.1" width="4.63" height="4.6" fill="#f2f2ff"/>
<rect x="187.71" y="174.1" width="4.63" height="4.6" fill="#ffffff"/>
<rect x="192.34" y="174.1" width="4.63" height="4.6" fill="#ffffff"/>
<rect x="196.97" y="174.1" width="4.63" height="4.6" fill="#ffffff"/>
<rect x="201.61" y="174.1" width="4.63" height="4.6" fill="#ffffff"/>
<rect x="206.24" y="174.1" width="4.63" height="4.6" fill="#ffffff"/>
<rect x="210.87" y="174.1" width="4.63" height="4.6" fill="#ffffff"/>
<rect x="127.5" y="178.7" width="4.63" height="4.6" fill="#ffcccc"/>
<rect x="132.13" y="178.7" width="4.63" height="4.6" fill="#dadaff"/>
<rect x="136.76" y="178.7" width="4.63" height="4.6" fill="#c8c8ff"/>
<rect x="141.39" y="178.7" width="4.63" height="4.6" fill="#c8c8ff"/>
<rect x="146.03" y="178.7" width="4.63" height="4.6" fill="#dadaff"/>
<rect x="150.66" y="178.7" width="4.63" height="4.6" fill="#dadaff"/>
<rect x="155.29" y="178.7" width="4.63" height="4.6" fill="#dadaff"/>
<rect x="159.92" y="178.7" width="4.63" height="4.6" fill="#bdbdbd"/>
<rect x="164.55" y="178.7" width="4.63" height="4.6" fill="#fff0f0"/>
<rect x="169.18" y="178.7" width="4.63" height="4.6" fill="#ffcccc"/>
<rect x="173.82" y="178.7" width="4.63" height="4.6" fill="#b6b6ff"/>
<rect x="178.45" y="178.7" width="4.63" height="4.6" fill="#a3a3ff"/>
<rect x="183.08" y="178.7" width="4.63" height="4.6" fill="#b6b6ff"/>
<rect x="187.71" y="178.7" width="4.63" height="4.6" fill="#dadaff"/>
<rect x="192.34" y="178.7" width="4.63" height="4.6" fill="#dadaff"/>
<rect x="196.97" y="178.7" width="4.63" height="4.6" fill="#a3a3ff"/>
<rect x="201.61" y="178.7" width="4.63" height="4.6" fill="#ffffff"/>
<rect x="206.24" y="178.7" width="4.63" height="4.6" fill="#ffffff"/>
<rect x="210.87" y="178.7" width="4.63" height="4.6" fill="#f2f2ff"/>
<rect x="127.5" y="183.3" width="4.63" height="4.6" fill="#ffcccc"/>
<rect x="132.13" y="183.3" width="4.63" height="4.6" fill="#dadaff"/>
<rect x="136.76" y="183.3" width="4.63" height="4.6" fill="#c8c8ff"/>
<rect x="141.39" y="183.3" width="4.63" height="4.6" fill="#b6b6ff"/>
<rect x="146.03" y="183.3" width="4.63" height="4.6" fill="#0000ff"/>
<rect x="150.66" y="183.3" width="4.63" height="4.6" fill="#ffffff"/>
<rect x="155.29" y="183.3" width="4.63" height="4.6" fill="#dadaff"/>
<rect x="159.92" y="183.3" width="4.63" height="4.6" fill="#bdbdbd"/>
<rect x="164.55" y="183.3" width="4.63" height="4.6" fill="#fff0f0"/>
<rect x="169.18" y="183.3" width="4.63" height="4.6" fill="#ffcccc"/>
<rect x="173.82" y="183.3" width="4.63" height="4.6" fill="#ffffff"/>
<rect x="178.45" y="183.3" width="4.63" height="4.6" fill="#c8c8ff"/>
<rect x="183.08" y="183.3" width="4.63" height="4.6" fill="#c8c8ff"/>
<rect x="187.71" y="183.3" width="4.63" height="4.6" fill="#dadaff"/>
<rect x="192.34" y="183.3" width="4.63" height="4.6" fill="#dadaff"/>
<rect x="196.97" y="183.3" width="4.63" height="4.6" fill="#a3a3ff"/>
<rect x="201.61" y="183.3" width="4.63" height="4.6" fill="#ffffff"/>
<rect x="206.24" y="183.3" width="4.63" height="4.6" fill="#fff0f0"/>
<rect x="210.87" y="183.3" width="4.63" height="4.6" fill="#f2f2ff"/>
<rect x="127.5" y="187.9" width="4.63" height="4.6" fill="#ffcccc"/>
<rect x="132.13" y="187.9" width="4.63" height="4.6" fill="#f2f2ff"/>
<rect x="136.76" y="187.9" width="4.63" height="4.6" fill="#c8c8ff"/>
<rect x="141.39" y="187.9" width="4.63" height="4.6" fill="#c8c8ff"/>
<rect x="146.03" y="187.9" width="4.63" height="4.6" fill="#b6b6ff"/>
<rect x="150.66" y="187.9" width="4.63" height="4.6" fill="#ffffff"/>
<rect x="155.29" y="187.9" width="4.63" height="4.6" fill="#dadaff"/>
<rect x="159.92" y="187.9" width="4.63" height="4.6" fill="#bdbdbd"/>
<rect x="164.55" y="187.9" width="4.63" height="4.6" fill="#fff0f0"/>
<rect x="169.18" y="187.9" width="4.63" height="4.6" fill="#ffcccc"/>
<rect x="173.82" y="187.9" width="4.63" height="4.6" fill="#f2f2ff"/>
<rect x="178.45" y="187.9" width="4.63" height="4.6" fill="#ffffff"/>
<rect x="183.08" y="187.9" width="4.63" height="4.6" fill="#c8c8ff"/>
<rect x="187.71" y="187.9" width="4.63" height="4.6" fill="#dadaff"/>
<rect x="192.34" y="187.9" width="4.63" height="4.6" fill="#dadaff"/>
<rect x="196.97" y="187.9" width="4.63" height="4.6" fill="#a3a3ff"/>
<rect x="201.61" y="187.9" width="4.63" height="4.6" fill="#ffffff"/>
<rect x="206.24" y="187.9" width="4.63" height="4.6" fill="#fff0f0"/>
<rect x="210.87" y="187.9" width="4.63" height="4.6" fill="#ffffff"/>
<rect x="127.5" y="192.5" width="4.63" height="4.6" fill="#ff9999"/>
<rect x="132.13" y="192.5" width="4.63" height="4.6" fill="#fff0f0"/>
<rect x="136.76" y="192.5" width="4.63" height="4.6" fill="#dadaff"/>
<rect x="141.39" y="192.5" width="4.63" height="4.6" fill="#ffffff"/>
<rect x="146.03" y="192.5" width="4.63" height="4.6" fill="#ffcccc"/>
<rect x="150.66" y="192.5" width="4.63" height="4.6" fill="#f2f2ff"/>
<rect x="155.29" y="192.5" width="4.63" height="4.6" fill="#a3a3ff"/>
<rect x="159.92" y="192.5" width="4.63" height="4.6" fill="#bdbdbd"/>
<rect x="164.55" y="192.5" width="4.63" height="4.6" fill="#ffcccc"/>
<rect x="169.18" y="192.5" width="4.63" height="4.6" fill="#fff0f0"/>
<rect x="173.82" y="192.5" width="4.63" height="4.6" fill="#dadaff"/>
<rect x="178.45" y="192.5" width="4.63" height="4.6" fill="#ffffff"/>
<rect x="183.08" y="192.5" width="4.63" height="4.6" fill="#b6b6ff"/>
<rect x="187.71" y="192.5" width="4.63" height="4.6" fill="#b6b6ff"/>
<rect x="192.34" y="192.5" width="4.63" height="4.6" fill="#dadaff"/>
<rect x="196.97" y="192.5" width="4.63" height="4.6" fill="#4d4dff"/>
<rect x="201.61" y="192.5" width="4.63" height="4.6" fill="#dadaff"/>
<rect x="206.24" y="192.5" width="4.63" height="4.6" fill="#ffffff"/>
<rect x="210.87" y="192.5" width="4.63" height="4.6" fill="#dadaff"/>
<rect x="127.5" y="197.1" width="4.63" height="4.6" fill="#ff9999"/>
<rect x="132.13" y="197.1" width="4.63" height="4.6" fill="#ffffff"/>
<rect x="136.76" y="197.1" width="4.63" height="4.6" fill="#dadaff"/>
<rect x="141.39" y="197.1" width="4.63" height="4.6" fill="#f2f2ff"/>
<rect x="146.03" y="197.1" width="4.63" height="4.6" fill="#ffcccc"/>
<rect x="150.66" y="197.1" width="4.63" height="4.6" fill="#ffcccc"/>
<rect x="155.29" y="197.1" width="4.63" height="4.6" fill="#c8c8ff"/>
<rect x="159.92" y="197.1" width="4.63" height="4.6" fill="#bdbdbd"/>
<rect x="164.55" y="197.1" width="4.63" height="4.6" fill="#ffcccc"/>
<rect x="169.18" y="197.1" width="4.63" height="4.6" fill="#ffcccc"/>
<rect x="173.82" y="197.1" width="4.63" height="4.6" fill="#dadaff"/>
<rect x="178.45" y="197.1" width="4.63" height="4.6" fill="#ffffff"/>
<rect x="183.08" y="197.1" width="4.63" height="4.6" fill="#c8c8ff"/>
<rect x="187.71" y="197.1" width="4.63" height="4.6" fill="#c8c8ff"/>
<rect x="192.34" y="197.1" width="4.63" height="4.6" fill="#dadaff"/>
<rect x="196.97" y="197.1" width="4.63" height="4.6" fill="#9191ff"/>
<rect x="201.61" y="197.1" width="4.63" height="4.6" fill="#dadaff"/>
<rect x="206.24" y="197.1" width="4.63" height="4.6" fill="#fff0f0"/>
<rect x="210.87" y="197.1" width="4.63" height="4.6" fill="#f2f2ff"/>
<rect x="127.5" y="201.7" width="4.63" height="4.6" fill="#ff9999"/>
<rect x="132.13" y="201.7" width="4.63" height="4.6" fill="#ffffff"/>
<rect x="136.76" y="201.7" width="4.63" height="4.6" fill="#dadaff"/>
<rect x="141.39" y="201.7" width="4.63" height="4.6" fill="#dadaff"/>
<rect x="146.03" y="201.7" width="4.63" height="4.6" fill="#fff0f0"/>
<rect x="150.66" y="201.7" width="4.63" height="4.6" fill="#ffcccc"/>
<rect x="155.29" y="201.7" width="4.63" height="4.6" fill="#4d4dff"/>
<rect x="159.92" y="201.7" width="4.63" height="4.6" fill="#bdbdbd"/>
<rect x="164.55" y="201.7" width="4.63" height="4.6" fill="#ffcccc"/>
<rect x="169.18" y="201.7" width="4.63" height="4.6" fill="#ffcccc"/>
<rect x="173.82" y="201.7" width="4.63" height="4.6" fill="#b6b6ff"/>
<rect x="178.45" y="201.7" width="4.63" height="4.6" fill="#ffffff"/>
<rect x="183.08" y="201.7" width="4.63" height="4.6" fill="#c8c8ff"/>
<rect x="187.71" y="201.7" width="4.63" height="4.6" fill="#c8c8ff"/>
<rect x="192.34" y="201.7" width="4.63" height="4.6" fill="#dadaff"/>
<rect x="196.97" y="201.7" width="4.63" height="4.6" fill="#9191ff"/>
<rect x="201.61" y="201.7" width="4.63" height="4.6" fill="#dadaff"/>
<rect x="206.24" y="201.7" width="4.63" height="4.6" fill="#fff0f0"/>
<rect x="210.87" y="201.7" width="4.63" height="4.6" fill="#dadaff"/>
<rect x="127.5" y="206.3" width="4.63" height="4.6" fill="#ff9999"/>
<rect x="132.13" y="206.3" width="4.63" height="4.6" fill="#fff0f0"/>
<rect x="136.76" y="206.3" width="4.63" height="4.6" fill="#fff0f0"/>
<rect x="141.39" y="206.3" width="4.63" height="4.6" fill="#ffcccc"/>
<rect x="146.03" y="206.3" width="4.63" height="4.6" fill="#ff8080"/>
<rect x="150.66" y="206.3" width="4.63" height="4.6" fill="#ff9999"/>
<rect x="155.29" y="206.3" width="4.63" height="4.6" fill="#f2f2ff"/>
<rect x="159.92" y="206.3" width="4.63" height="4.6" fill="#bdbdbd"/>
<rect x="164.55" y="206.3" width="4.63" height="4.6" fill="#ffb2b2"/>
<rect x="169.18" y="206.3" width="4.63" height="4.6" fill="#ffcccc"/>
<rect x="173.82" y="206.3" width="4.63" height="4.6" fill="#c8c8ff"/>
<rect x="178.45" y="206.3" width="4.63" height="4.6" fill="#fff0f0"/>
<rect x="183.08" y="206.3" width="4.63" height="4.6" fill="#dadaff"/>
<rect x="187.71" y="206.3" width="4.63" height="4.6" fill="#c8c8ff"/>
<rect x="192.34" y="206.3" width="4.63" height="4.6" fill="#fff0f0"/>
<rect x="196.97" y="206.3" width="4.63" height="4.6" fill="#b6b6ff"/>
<rect x="201.61" y="206.3" width="4.63" height="4.6" fill="#dadaff"/>
<rect x="206.24" y="206.3" width="4.63" height="4.6" fill="#fff0f0"/>
<rect x="210.87" y="206.3" width="4.63" height="4.6" fill="#ffffff"/>
<rect x="127.5" y="210.9" width="4.63" height="4.6" fill="#ff9999"/>
<rect x="132.13" y="210.9" width="4.63" height="4.6" fill="#fff0f0"/>
<rect x="136.76" y="210.9" width="4.63" height="4.6" fill="#fff0f0"/>
<rect x="141.39" y="210.9" width="4.63" height="4.6" fill="#ffcccc"/>
<rect x="146.03" y="210.9" width="4.63" height="4.6" fill="#ff8080"/>
<rect x="150.66" y="210.9" width="4.63" height="4.6" fill="#ffb2b2"/>
<rect x="155.29" y="210.9" width="4.63" height="4.6" fill="#fff0f0"/>
<rect x="159.92" y="210.9" width="4.63" height="4.6" fill="#bdbdbd"/>
<rect x="164.55" y="210.9" width="4.63" height="4.6" fill="#ffb2b2"/>
<rect x="169.18" y="210.9" width="4.63" height="4.6" fill="#ffcccc"/>
<rect x="173.82" y="210.9" width="4.63" height="4.6" fill="#f2f2ff"/>
<rect x="178.45" y="210.9" width="4.63" height="4.6" fill="#ffcccc"/>
<rect x="183.08" y="210.9" width="4.63" height="4.6" fill="#dadaff"/>
<rect x="187.71" y="210.9" width="4.63" height="4.6" fill="#c8c8ff"/>
<rect x="192.34" y="210.9" width="4.63" height="4.6" fill="#fff0f0"/>
<rect x="196.97" y="210.9" width="4.63" height="4.6" fill="#b6b6ff"/>
<rect x="201.61" y="210.9" width="4.63" height="4.6" fill="#dadaff"/>
<rect x="206.24" y="210.9" width="4.63" height="4.6" fill="#fff0f0"/>
<rect x="210.87" y="210.9" width="4.63" height="4.6" fill="#ffffff"/>
<rect x="127.5" y="215.5" width="4.63" height="4.6" fill="#ff9999"/>
<rect x="132.13" y="215.5" width="4.63" height="4.6" fill="#fff0f0"/>
<rect x="136.76" y="215.5" width="4.63" height="4.6" fill="#fff0f0"/>
<rect x="141.39" y="215.5" width="4.63" height="4.6" fill="#ffcccc"/>
<rect x="146.03" y="215.5" width="4.63" height="4.6" fill="#ff8080"/>
<rect x="150.66" y="215.5" width="4.63" height="4.6" fill="#ffb2b2"/>
<rect x="155.29" y="215.5" width="4.63" height="4.6" fill="#fff0f0"/>
<rect x="159.92" y="215.5" width="4.63" height="4.6" fill="#bdbdbd"/>
<rect x="164.55" y="215.5" width="4.63" height="4.6" fill="#ffb2b2"/>
<rect x="169.18" y="215.5" width="4.63" height="4.6" fill="#ffcccc"/>
<rect x="173.82" y="215.5" width="4.63" height="4.6" fill="#fff0f0"/>
<rect x="178.45" y="215.5" width="4.63" height="4.6" fill="#ffffff"/>
<rect x="183.08" y="215.5" width="4.63" height="4.6" fill="#dadaff"/>
<rect x="187.71" y="215.5" width="4.63" height="4.6" fill="#c8c8ff"/>
<rect x="192.34" y="215.5" width="4.63" height="4.6" fill="#fff0f0"/>
<rect x="196.97" y="215.5" width="4.63" height="4.6" fill="#b6b6ff"/>
<rect x="201.61" y="215.5" width="4.63" height="4.6" fill="#dadaff"/>
<rect x="206.24" y="215.5" width="4.63" height="4.6" fill="#fff0f0"/>
<rect x="210.87" y="215.5" width="4.63" height="4.6" fill="#ffffff"/>
<rect x="127.5" y="220.1" width="4.63" height="4.6" fill="#ff9999"/>
<rect x="132.13" y="220.1" width="4.63" height="4.6" fill="#fff0f0"/>
<rect x="136.76" y="220.1" width="4.63" height="4.6" fill="#ffffff"/>
<rect x="141.39" y="220.1" width="4.63" height="4.6" fill="#ffcccc"/>
<rect x="146.03" y="220.1" width="4.63" height="4.6" fill="#ff6666"/>
<rect x="150.66" y="220.1" width="4.63" height="4.6" fill="#ffb2b2"/>
<rect x="155.29" y="220.1" width="4.63" height="4.6" fill="#fff0f0"/>
<rect x="159.92" y="220.1" width="4.63" height="4.6" fill="#bdbdbd"/>
<rect x="164.55" y="220.1" width="4.63" height="4.6" fill="#ffcccc"/>
<rect x="169.18" y="220.1" width="4.63" height="4.6" fill="#ffcccc"/>
<rect x="173.82" y="220.1" width="4.63" height="4.6" fill="#fff0f0"/>
<rect x="178.45" y="220.1" width="4.63" height="4.6" fill="#ffffff"/>
<rect x="183.08" y="220.1" width="4.63" height="4.6" fill="#dadaff"/>
<rect x="187.71" y="220.1" width="4.63" height="4.6" fill="#c8c8ff"/>
<rect x="192.34" y="220.1" width="4.63" height="4.6" fill="#fff0f0"/>
<rect x="196.97" y="220.1" width="4.63" height="4.6" fill="#c8c8ff"/>
<rect x="201.61" y="220.1" width="4.63" height="4.6" fill="#dadaff"/>
<rect x="206.24" y="220.1" width="4.63" height="4.6" fill="#ffcccc"/>
<rect x="210.87" y="220.1" width="4.63" height="4.6" fill="#fff0f0"/>
<rect x="127.5" y="224.7" width="4.63" height="4.6" fill="#ff9999"/>
<rect x="132.13" y="224.7" width="4.63" height="4.6" fill="#fff0f0"/>
<rect x="136.76" y="224.7" width="4.63" height="4.6" fill="#ffffff"/>
<rect x="141.39" y="224.7" width="4.63" height="4.6" fill="#ffcccc"/>
<rect x="146.03" y="224.7" width="4.63" height="4.6" fill="#ff6666"/>
<rect x="150.66" y="224.7" width="4.63" height="4.6" fill="#ffb2b2"/>
<rect x="155.29" y="224.7" width="4.63" height="4.6" fill="#fff0f0"/>
<rect x="159.92" y="224.7" width="4.63" height="4.6" fill="#bdbdbd"/>
<rect x="164.55" y="224.7" width="4.63" height="4.6" fill="#ffcccc"/>
<rect x="169.18" y="224.7" width="4.63" height="4.6" fill="#ffcccc"/>
<rect x="173.82" y="224.7" width="4.63" height="4.6" fill="#ffffff"/>
<rect x="178.45" y="224.7" width="4.63" height="4.6" fill="#fff0f0"/>
<rect x="183.08" y="224.7" width="4.63" height="4.6" fill="#dadaff"/>
<rect x="187.71" y="224.7" width="4.63" height="4.6" fill="#c8c8ff"/>
<rect x="192.34" y="224.7" width="4.63" height="4.6" fill="#fff0f0"/>
<rect x="196.97" y="224.7" width="4.63" height="4.6" fill="#c8c8ff"/>
<rect x="201.61" y="224.7" width="4.63" height="4.6" fill="#dadaff"/>
<rect x="206.24" y="224.7" width="4.63" height="4.6" fill="#ffcccc"/>
<rect x="210.87" y="224.7" width="4.63" height="4.6" fill="#fff0f0"/>
<rect x="127.5" y="229.3" width="4.63" height="4.6" fill="#ff9999"/>
<rect x="132.13" y="229.3" width="4.63" height="4.6" fill="#fff0f0"/>
<rect x="136.76" y="229.3" width="4.63" height="4.6" fill="#ffffff"/>
<rect x="141.39" y="229.3" width="4.63" height="4.6" fill="#ffcccc"/>
<rect x="146.03" y="229.3" width="4.63" height="4.6" fill="#ff6666"/>
<rect x="150.66" y="229.3" width="4.63" height="4.6" fill="#ffb2b2"/>
<rect x="155.29" y="229.3" width="4.63" height="4.6" fill="#fff0f0"/>
<rect x="159.92" y="229.3" width="4.63" height="4.6" fill="#bdbdbd"/>
<rect x="164.55" y="229.3" width="4.63" height="4.6" fill="#ffcccc"/>
<rect x="169.18" y="229.3" width="4.63" height="4.6" fill="#ffcccc"/>
<rect x="173.82" y="229.3" width="4.63" height="4.6" fill="#ffffff"/>
<rect x="178.45" y="229.3" width="4.63" height="4.6" fill="#fff0f0"/>
<rect x="183.08" y="229.3" width="4.63" height="4.6" fill="#dadaff"/>
<rect x="187.71" y="229.3" width="4.63" height="4.6" fill="#dadaff"/>
<rect x="192.34" y="229.3" width="4.63" height="4.6" fill="#fff0f0"/>
<rect x="196.97" y="229.3" width="4.63" height="4.6" fill="#c8c8ff"/>
<rect x="201.61" y="229.3" width="4.63" height="4.6" fill="#f2f2ff"/>
<rect x="206.24" y="229.3" width="4.63" height="4.6" fill="#ffcccc"/>
<rect x="210.87" y="229.3" width="4.63" height="4.6" fill="#fff0f0"/>
<line x1="132.13" y1="164.9" x2="132.13" y2="233.9" stroke="#fff" stroke-width="0.55"/>
<line x1="136.76" y1="164.9" x2="136.76" y2="233.9" stroke="#fff" stroke-width="0.55"/>
<line x1="141.39" y1="164.9" x2="141.39" y2="233.9" stroke="#fff" stroke-width="0.55"/>
<line x1="146.03" y1="164.9" x2="146.03" y2="233.9" stroke="#fff" stroke-width="0.55"/>
<line x1="150.66" y1="164.9" x2="150.66" y2="233.9" stroke="#fff" stroke-width="0.55"/>
<line x1="155.29" y1="164.9" x2="155.29" y2="233.9" stroke="#fff" stroke-width="0.55"/>
<line x1="159.92" y1="164.9" x2="159.92" y2="233.9" stroke="#fff" stroke-width="0.55"/>
<line x1="164.55" y1="164.9" x2="164.55" y2="233.9" stroke="#fff" stroke-width="0.55"/>
<line x1="169.18" y1="164.9" x2="169.18" y2="233.9" stroke="#fff" stroke-width="0.55"/>
<line x1="173.82" y1="164.9" x2="173.82" y2="233.9" stroke="#fff" stroke-width="0.55"/>
<line x1="178.45" y1="164.9" x2="178.45" y2="233.9" stroke="#fff" stroke-width="0.55"/>
<line x1="183.08" y1="164.9" x2="183.08" y2="233.9" stroke="#fff" stroke-width="0.55"/>
<line x1="187.71" y1="164.9" x2="187.71" y2="233.9" stroke="#fff" stroke-width="0.55"/>
<line x1="192.34" y1="164.9" x2="192.34" y2="233.9" stroke="#fff" stroke-width="0.55"/>
<line x1="196.97" y1="164.9" x2="196.97" y2="233.9" stroke="#fff" stroke-width="0.55"/>
<line x1="201.61" y1="164.9" x2="201.61" y2="233.9" stroke="#fff" stroke-width="0.55"/>
<line x1="206.24" y1="164.9" x2="206.24" y2="233.9" stroke="#fff" stroke-width="0.55"/>
<line x1="210.87" y1="164.9" x2="210.87" y2="233.9" stroke="#fff" stroke-width="0.55"/>
<line x1="127.5" y1="169.5" x2="215.5" y2="169.5" stroke="#fff" stroke-width="0.55"/>
<line x1="127.5" y1="174.1" x2="215.5" y2="174.1" stroke="#fff" stroke-width="0.55"/>
<line x1="127.5" y1="183.3" x2="215.5" y2="183.3" stroke="#fff" stroke-width="0.55"/>
<line x1="127.5" y1="187.9" x2="215.5" y2="187.9" stroke="#fff" stroke-width="0.55"/>
<line x1="127.5" y1="192.5" x2="215.5" y2="192.5" stroke="#fff" stroke-width="0.55"/>
<line x1="127.5" y1="197.1" x2="215.5" y2="197.1" stroke="#fff" stroke-width="0.55"/>
<line x1="127.5" y1="201.7" x2="215.5" y2="201.7" stroke="#fff" stroke-width="0.55"/>
<line x1="127.5" y1="206.3" x2="215.5" y2="206.3" stroke="#fff" stroke-width="0.55"/>
<line x1="127.5" y1="210.9" x2="215.5" y2="210.9" stroke="#fff" stroke-width="0.55"/>
<line x1="127.5" y1="215.5" x2="215.5" y2="215.5" stroke="#fff" stroke-width="0.55"/>
<line x1="127.5" y1="220.1" x2="215.5" y2="220.1" stroke="#fff" stroke-width="0.55"/>
<line x1="127.5" y1="224.7" x2="215.5" y2="224.7" stroke="#fff" stroke-width="0.55"/>
<line x1="127.5" y1="229.3" x2="215.5" y2="229.3" stroke="#fff" stroke-width="0.55"/>
<rect x="127.5" y="164.9" width="88" height="69" fill="none" stroke="#333" stroke-width="1"/>
<line x1="127.5" y1="178.7" x2="215.5" y2="178.7" stroke="#111" stroke-width="0.9"/>
<text x="222.7" y="144.9" font-size="6.6" font-weight="bold" fill="#000">UDSCC 2</text>
<text transform="translate(226.89,163) rotate(-90)" font-size="3.9" fill="#222">CXCR2</text>
<text transform="translate(231.48,163) rotate(-90)" font-size="3.9" fill="#222">CXCL1</text>
<text transform="translate(236.07,163) rotate(-90)" font-size="3.9" fill="#222">CXCL2</text>
<text transform="translate(240.66,163) rotate(-90)" font-size="3.9" fill="#222">CXCL3</text>
<text transform="translate(245.25,163) rotate(-90)" font-size="3.9" fill="#222">CXCL5</text>
<text transform="translate(249.84,163) rotate(-90)" font-size="3.9" fill="#222">CXCL6</text>
<text transform="translate(254.43,163) rotate(-90)" font-size="3.9" fill="#222">CXCL7</text>
<text transform="translate(259.02,163) rotate(-90)" font-size="3.9" fill="#222">CXCL8</text>
<text transform="translate(263.61,163) rotate(-90)" font-size="3.9" fill="#222">CXCL10</text>
<text transform="translate(268.2,163) rotate(-90)" font-size="3.9" fill="#222">CXCL11</text>
<text transform="translate(272.79,163) rotate(-90)" font-size="3.9" fill="#222">CCL3</text>
<text transform="translate(277.38,163) rotate(-90)" font-size="3.9" fill="#222">CCL25</text>
<text transform="translate(281.97,163) rotate(-90)" font-size="3.9" fill="#222">IL1α</text>
<text transform="translate(286.56,163) rotate(-90)" font-size="3.9" fill="#222">IL1β</text>
<text transform="translate(291.15,163) rotate(-90)" font-size="3.9" fill="#222">IL6</text>
<text transform="translate(295.74,163) rotate(-90)" font-size="3.9" fill="#222">GM-CSF</text>
<text transform="translate(300.33,163) rotate(-90)" font-size="3.9" fill="#222">MIF</text>
<text transform="translate(304.92,163) rotate(-90)" font-size="3.9" fill="#222">EGF</text>
<text transform="translate(309.51,163) rotate(-90)" font-size="3.9" fill="#222">VEGF</text>
<rect x="223.4" y="164.9" width="4.59" height="4.6" fill="#bdbdbd"/>
<rect x="227.99" y="164.9" width="4.59" height="4.6" fill="#ffffff"/>
<rect x="232.58" y="164.9" width="4.59" height="4.6" fill="#efefff"/>
<rect x="237.17" y="164.9" width="4.59" height="4.6" fill="#efefff"/>
<rect x="241.76" y="164.9" width="4.59" height="4.6" fill="#bdbdbd"/>
<rect x="246.35" y="164.9" width="4.59" height="4.6" fill="#bdbdbd"/>
<rect x="250.94" y="164.9" width="4.59" height="4.6" fill="#bdbdbd"/>
<rect x="255.53" y="164.9" width="4.59" height="4.6" fill="#ffffff"/>
<rect x="260.12" y="164.9" width="4.59" height="4.6" fill="#babaff"/>
<rect x="264.71" y="164.9" width="4.59" height="4.6" fill="#d1d1ff"/>
<rect x="269.29" y="164.9" width="4.59" height="4.6" fill="#d1d1ff"/>
<rect x="273.88" y="164.9" width="4.59" height="4.6" fill="#efefff"/>
<rect x="278.47" y="164.9" width="4.59" height="4.6" fill="#ffffff"/>
<rect x="283.06" y="164.9" width="4.59" height="4.6" fill="#efefff"/>
<rect x="287.65" y="164.9" width="4.59" height="4.6" fill="#ffffff"/>
<rect x="292.24" y="164.9" width="4.59" height="4.6" fill="#ffffff"/>
<rect x="296.83" y="164.9" width="4.59" height="4.6" fill="#efefff"/>
<rect x="301.42" y="164.9" width="4.59" height="4.6" fill="#babaff"/>
<rect x="306.01" y="164.9" width="4.59" height="4.6" fill="#ffffff"/>
<rect x="223.4" y="169.5" width="4.59" height="4.6" fill="#bdbdbd"/>
<rect x="227.99" y="169.5" width="4.59" height="4.6" fill="#ffffff"/>
<rect x="232.58" y="169.5" width="4.59" height="4.6" fill="#fff0f0"/>
<rect x="237.17" y="169.5" width="4.59" height="4.6" fill="#fff0f0"/>
<rect x="241.76" y="169.5" width="4.59" height="4.6" fill="#bdbdbd"/>
<rect x="246.35" y="169.5" width="4.59" height="4.6" fill="#bdbdbd"/>
<rect x="250.94" y="169.5" width="4.59" height="4.6" fill="#bdbdbd"/>
<rect x="255.53" y="169.5" width="4.59" height="4.6" fill="#ffffff"/>
<rect x="260.12" y="169.5" width="4.59" height="4.6" fill="#ffcccc"/>
<rect x="264.71" y="169.5" width="4.59" height="4.6" fill="#fff0f0"/>
<rect x="269.29" y="169.5" width="4.59" height="4.6" fill="#ffffff"/>
<rect x="273.88" y="169.5" width="4.59" height="4.6" fill="#ffffff"/>
<rect x="278.47" y="169.5" width="4.59" height="4.6" fill="#ffffff"/>
<rect x="283.06" y="169.5" width="4.59" height="4.6" fill="#ffffff"/>
<rect x="287.65" y="169.5" width="4.59" height="4.6" fill="#d1d1ff"/>
<rect x="292.24" y="169.5" width="4.59" height="4.6" fill="#ffffff"/>
<rect x="296.83" y="169.5" width="4.59" height="4.6" fill="#fff0f0"/>
<rect x="301.42" y="169.5" width="4.59" height="4.6" fill="#fff0f0"/>
<rect x="306.01" y="169.5" width="4.59" height="4.6" fill="#fff0f0"/>
<rect x="223.4" y="174.1" width="4.59" height="4.6" fill="#bdbdbd"/>
<rect x="227.99" y="174.1" width="4.59" height="4.6" fill="#ffffff"/>
<rect x="232.58" y="174.1" width="4.59" height="4.6" fill="#ffffff"/>
<rect x="237.17" y="174.1" width="4.59" height="4.6" fill="#ffffff"/>
<rect x="241.76" y="174.1" width="4.59" height="4.6" fill="#bdbdbd"/>
<rect x="246.35" y="174.1" width="4.59" height="4.6" fill="#bdbdbd"/>
<rect x="250.94" y="174.1" width="4.59" height="4.6" fill="#bdbdbd"/>
<rect x="255.53" y="174.1" width="4.59" height="4.6" fill="#ffffff"/>
<rect x="260.12" y="174.1" width="4.59" height="4.6" fill="#efefff"/>
<rect x="264.71" y="174.1" width="4.59" height="4.6" fill="#ffffff"/>
<rect x="269.29" y="174.1" width="4.59" height="4.6" fill="#fff0f0"/>
<rect x="273.88" y="174.1" width="4.59" height="4.6" fill="#fff0f0"/>
<rect x="278.47" y="174.1" width="4.59" height="4.6" fill="#fff0f0"/>
<rect x="283.06" y="174.1" width="4.59" height="4.6" fill="#fff0f0"/>
<rect x="287.65" y="174.1" width="4.59" height="4.6" fill="#fff0f0"/>
<rect x="292.24" y="174.1" width="4.59" height="4.6" fill="#ffffff"/>
<rect x="296.83" y="174.1" width="4.59" height="4.6" fill="#fff0f0"/>
<rect x="301.42" y="174.1" width="4.59" height="4.6" fill="#ffffff"/>
<rect x="306.01" y="174.1" width="4.59" height="4.6" fill="#fff0f0"/>
<rect x="223.4" y="178.7" width="4.59" height="4.6" fill="#bdbdbd"/>
<rect x="227.99" y="178.7" width="4.59" height="4.6" fill="#ffb2b2"/>
<rect x="232.58" y="178.7" width="4.59" height="4.6" fill="#ffffff"/>
<rect x="237.17" y="178.7" width="4.59" height="4.6" fill="#ffffff"/>
<rect x="241.76" y="178.7" width="4.59" height="4.6" fill="#bdbdbd"/>
<rect x="246.35" y="178.7" width="4.59" height="4.6" fill="#bdbdbd"/>
<rect x="250.94" y="178.7" width="4.59" height="4.6" fill="#bdbdbd"/>
<rect x="255.53" y="178.7" width="4.59" height="4.6" fill="#ffcccc"/>
<rect x="260.12" y="178.7" width="4.59" height="4.6" fill="#ff8080"/>
<rect x="264.71" y="178.7" width="4.59" height="4.6" fill="#ff8080"/>
<rect x="269.29" y="178.7" width="4.59" height="4.6" fill="#ff9999"/>
<rect x="273.88" y="178.7" width="4.59" height="4.6" fill="#ffcccc"/>
<rect x="278.47" y="178.7" width="4.59" height="4.6" fill="#ffcccc"/>
<rect x="283.06" y="178.7" width="4.59" height="4.6" fill="#ffcccc"/>
<rect x="287.65" y="178.7" width="4.59" height="4.6" fill="#ffcccc"/>
<rect x="292.24" y="178.7" width="4.59" height="4.6" fill="#ffcccc"/>
<rect x="296.83" y="178.7" width="4.59" height="4.6" fill="#fff0f0"/>
<rect x="301.42" y="178.7" width="4.59" height="4.6" fill="#ffb2b2"/>
<rect x="306.01" y="178.7" width="4.59" height="4.6" fill="#ffcccc"/>
<rect x="223.4" y="183.3" width="4.59" height="4.6" fill="#bdbdbd"/>
<rect x="227.99" y="183.3" width="4.59" height="4.6" fill="#ffb2b2"/>
<rect x="232.58" y="183.3" width="4.59" height="4.6" fill="#ffffff"/>
<rect x="237.17" y="183.3" width="4.59" height="4.6" fill="#ffffff"/>
<rect x="241.76" y="183.3" width="4.59" height="4.6" fill="#bdbdbd"/>
<rect x="246.35" y="183.3" width="4.59" height="4.6" fill="#bdbdbd"/>
<rect x="250.94" y="183.3" width="4.59" height="4.6" fill="#bdbdbd"/>
<rect x="255.53" y="183.3" width="4.59" height="4.6" fill="#ffcccc"/>
<rect x="260.12" y="183.3" width="4.59" height="4.6" fill="#ff8080"/>
<rect x="264.71" y="183.3" width="4.59" height="4.6" fill="#ff8080"/>
<rect x="269.29" y="183.3" width="4.59" height="4.6" fill="#ffb2b2"/>
<rect x="273.88" y="183.3" width="4.59" height="4.6" fill="#ffcccc"/>
<rect x="278.47" y="183.3" width="4.59" height="4.6" fill="#ffb2b2"/>
<rect x="283.06" y="183.3" width="4.59" height="4.6" fill="#ffb2b2"/>
<rect x="287.65" y="183.3" width="4.59" height="4.6" fill="#ffb2b2"/>
<rect x="292.24" y="183.3" width="4.59" height="4.6" fill="#ffcccc"/>
<rect x="296.83" y="183.3" width="4.59" height="4.6" fill="#ffcccc"/>
<rect x="301.42" y="183.3" width="4.59" height="4.6" fill="#ffb2b2"/>
<rect x="306.01" y="183.3" width="4.59" height="4.6" fill="#ffcccc"/>
<rect x="223.4" y="187.9" width="4.59" height="4.6" fill="#bdbdbd"/>
<rect x="227.99" y="187.9" width="4.59" height="4.6" fill="#ffb2b2"/>
<rect x="232.58" y="187.9" width="4.59" height="4.6" fill="#fff0f0"/>
<rect x="237.17" y="187.9" width="4.59" height="4.6" fill="#fff0f0"/>
<rect x="241.76" y="187.9" width="4.59" height="4.6" fill="#bdbdbd"/>
<rect x="246.35" y="187.9" width="4.59" height="4.6" fill="#bdbdbd"/>
<rect x="250.94" y="187.9" width="4.59" height="4.6" fill="#bdbdbd"/>
<rect x="255.53" y="187.9" width="4.59" height="4.6" fill="#ffcccc"/>
<rect x="260.12" y="187.9" width="4.59" height="4.6" fill="#ff8080"/>
<rect x="264.71" y="187.9" width="4.59" height="4.6" fill="#ff8080"/>
<rect x="269.29" y="187.9" width="4.59" height="4.6" fill="#ffb2b2"/>
<rect x="273.88" y="187.9" width="4.59" height="4.6" fill="#ffcccc"/>
<rect x="278.47" y="187.9" width="4.59" height="4.6" fill="#ffb2b2"/>
<rect x="283.06" y="187.9" width="4.59" height="4.6" fill="#ffb2b2"/>
<rect x="287.65" y="187.9" width="4.59" height="4.6" fill="#ffb2b2"/>
<rect x="292.24" y="187.9" width="4.59" height="4.6" fill="#ffcccc"/>
<rect x="296.83" y="187.9" width="4.59" height="4.6" fill="#ffcccc"/>
<rect x="301.42" y="187.9" width="4.59" height="4.6" fill="#ffb2b2"/>
<rect x="306.01" y="187.9" width="4.59" height="4.6" fill="#ffcccc"/>
<rect x="223.4" y="192.5" width="4.59" height="4.6" fill="#bdbdbd"/>
<rect x="227.99" y="192.5" width="4.59" height="4.6" fill="#fff0f0"/>
<rect x="232.58" y="192.5" width="4.59" height="4.6" fill="#d1d1ff"/>
<rect x="237.17" y="192.5" width="4.59" height="4.6" fill="#babaff"/>
<rect x="241.76" y="192.5" width="4.59" height="4.6" fill="#bdbdbd"/>
<rect x="246.35" y="192.5" width="4.59" height="4.6" fill="#bdbdbd"/>
<rect x="250.94" y="192.5" width="4.59" height="4.6" fill="#bdbdbd"/>
<rect x="255.53" y="192.5" width="4.59" height="4.6" fill="#ffffff"/>
<rect x="260.12" y="192.5" width="4.59" height="4.6" fill="#ff6666"/>
<rect x="264.71" y="192.5" width="4.59" height="4.6" fill="#ff4d4d"/>
<rect x="269.29" y="192.5" width="4.59" height="4.6" fill="#ff9999"/>
<rect x="273.88" y="192.5" width="4.59" height="4.6" fill="#ffffff"/>
<rect x="278.47" y="192.5" width="4.59" height="4.6" fill="#ffcccc"/>
<rect x="283.06" y="192.5" width="4.59" height="4.6" fill="#ffb2b2"/>
<rect x="287.65" y="192.5" width="4.59" height="4.6" fill="#ffb2b2"/>
<rect x="292.24" y="192.5" width="4.59" height="4.6" fill="#fff0f0"/>
<rect x="296.83" y="192.5" width="4.59" height="4.6" fill="#ffffff"/>
<rect x="301.42" y="192.5" width="4.59" height="4.6" fill="#ff9999"/>
<rect x="306.01" y="192.5" width="4.59" height="4.6" fill="#ffcccc"/>
<rect x="223.4" y="197.1" width="4.59" height="4.6" fill="#bdbdbd"/>
<rect x="227.99" y="197.1" width="4.59" height="4.6" fill="#fff0f0"/>
<rect x="232.58" y="197.1" width="4.59" height="4.6" fill="#d1d1ff"/>
<rect x="237.17" y="197.1" width="4.59" height="4.6" fill="#babaff"/>
<rect x="241.76" y="197.1" width="4.59" height="4.6" fill="#bdbdbd"/>
<rect x="246.35" y="197.1" width="4.59" height="4.6" fill="#bdbdbd"/>
<rect x="250.94" y="197.1" width="4.59" height="4.6" fill="#bdbdbd"/>
<rect x="255.53" y="197.1" width="4.59" height="4.6" fill="#ffffff"/>
<rect x="260.12" y="197.1" width="4.59" height="4.6" fill="#ff6666"/>
<rect x="264.71" y="197.1" width="4.59" height="4.6" fill="#ff4d4d"/>
<rect x="269.29" y="197.1" width="4.59" height="4.6" fill="#ff9999"/>
<rect x="273.88" y="197.1" width="4.59" height="4.6" fill="#fff0f0"/>
<rect x="278.47" y="197.1" width="4.59" height="4.6" fill="#ffcccc"/>
<rect x="283.06" y="197.1" width="4.59" height="4.6" fill="#ffb2b2"/>
<rect x="287.65" y="197.1" width="4.59" height="4.6" fill="#ffb2b2"/>
<rect x="292.24" y="197.1" width="4.59" height="4.6" fill="#fff0f0"/>
<rect x="296.83" y="197.1" width="4.59" height="4.6" fill="#ffffff"/>
<rect x="301.42" y="197.1" width="4.59" height="4.6" fill="#ff9999"/>
<rect x="306.01" y="197.1" width="4.59" height="4.6" fill="#ffcccc"/>
<rect x="223.4" y="201.7" width="4.59" height="4.6" fill="#bdbdbd"/>
<rect x="227.99" y="201.7" width="4.59" height="4.6" fill="#ffffff"/>
<rect x="232.58" y="201.7" width="4.59" height="4.6" fill="#babaff"/>
<rect x="237.17" y="201.7" width="4.59" height="4.6" fill="#d1d1ff"/>
<rect x="241.76" y="201.7" width="4.59" height="4.6" fill="#bdbdbd"/>
<rect x="246.35" y="201.7" width="4.59" height="4.6" fill="#bdbdbd"/>
<rect x="250.94" y="201.7" width="4.59" height="4.6" fill="#bdbdbd"/>
<rect x="255.53" y="201.7" width="4.59" height="4.6" fill="#efefff"/>
<rect x="260.12" y="201.7" width="4.59" height="4.6" fill="#ff6666"/>
<rect x="264.71" y="201.7" width="4.59" height="4.6" fill="#ff6666"/>
<rect x="269.29" y="201.7" width="4.59" height="4.6" fill="#ff9999"/>
<rect x="273.88" y="201.7" width="4.59" height="4.6" fill="#ffffff"/>
<rect x="278.47" y="201.7" width="4.59" height="4.6" fill="#ffcccc"/>
<rect x="283.06" y="201.7" width="4.59" height="4.6" fill="#ffb2b2"/>
<rect x="287.65" y="201.7" width="4.59" height="4.6" fill="#ffb2b2"/>
<rect x="292.24" y="201.7" width="4.59" height="4.6" fill="#fff0f0"/>
<rect x="296.83" y="201.7" width="4.59" height="4.6" fill="#ffffff"/>
<rect x="301.42" y="201.7" width="4.59" height="4.6" fill="#ffb2b2"/>
<rect x="306.01" y="201.7" width="4.59" height="4.6" fill="#ffcccc"/>
<rect x="223.4" y="206.3" width="4.59" height="4.6" fill="#bdbdbd"/>
<rect x="227.99" y="206.3" width="4.59" height="4.6" fill="#ffcccc"/>
<rect x="232.58" y="206.3" width="4.59" height="4.6" fill="#ffffff"/>
<rect x="237.17" y="206.3" width="4.59" height="4.6" fill="#efefff"/>
<rect x="241.76" y="206.3" width="4.59" height="4.6" fill="#bdbdbd"/>
<rect x="246.35" y="206.3" width="4.59" height="4.6" fill="#bdbdbd"/>
<rect x="250.94" y="206.3" width="4.59" height="4.6" fill="#bdbdbd"/>
<rect x="255.53" y="206.3" width="4.59" height="4.6" fill="#ffffff"/>
<rect x="260.12" y="206.3" width="4.59" height="4.6" fill="#ff4d4d"/>
<rect x="264.71" y="206.3" width="4.59" height="4.6" fill="#ff4d4d"/>
<rect x="269.29" y="206.3" width="4.59" height="4.6" fill="#ff9999"/>
<rect x="273.88" y="206.3" width="4.59" height="4.6" fill="#ffcccc"/>
<rect x="278.47" y="206.3" width="4.59" height="4.6" fill="#ffb2b2"/>
<rect x="283.06" y="206.3" width="4.59" height="4.6" fill="#ffb2b2"/>
<rect x="287.65" y="206.3" width="4.59" height="4.6" fill="#ff9999"/>
<rect x="292.24" y="206.3" width="4.59" height="4.6" fill="#fff0f0"/>
<rect x="296.83" y="206.3" width="4.59" height="4.6" fill="#efefff"/>
<rect x="301.42" y="206.3" width="4.59" height="4.6" fill="#ffb2b2"/>
<rect x="306.01" y="206.3" width="4.59" height="4.6" fill="#ffcccc"/>
<rect x="223.4" y="210.9" width="4.59" height="4.6" fill="#bdbdbd"/>
<rect x="227.99" y="210.9" width="4.59" height="4.6" fill="#ffcccc"/>
<rect x="232.58" y="210.9" width="4.59" height="4.6" fill="#ffffff"/>
<rect x="237.17" y="210.9" width="4.59" height="4.6" fill="#ffffff"/>
<rect x="241.76" y="210.9" width="4.59" height="4.6" fill="#bdbdbd"/>
<rect x="246.35" y="210.9" width="4.59" height="4.6" fill="#bdbdbd"/>
<rect x="250.94" y="210.9" width="4.59" height="4.6" fill="#bdbdbd"/>
<rect x="255.53" y="210.9" width="4.59" height="4.6" fill="#fff0f0"/>
<rect x="260.12" y="210.9" width="4.59" height="4.6" fill="#ff4d4d"/>
<rect x="264.71" y="210.9" width="4.59" height="4.6" fill="#ff3333"/>
<rect x="269.29" y="210.9" width="4.59" height="4.6" fill="#ff9999"/>
<rect x="273.88" y="210.9" width="4.59" height="4.6" fill="#ffcccc"/>
<rect x="278.47" y="210.9" width="4.59" height="4.6" fill="#ffb2b2"/>
<rect x="283.06" y="210.9" width="4.59" height="4.6" fill="#ffb2b2"/>
<rect x="287.65" y="210.9" width="4.59" height="4.6" fill="#ff9999"/>
<rect x="292.24" y="210.9" width="4.59" height="4.6" fill="#fff0f0"/>
<rect x="296.83" y="210.9" width="4.59" height="4.6" fill="#ffffff"/>
<rect x="301.42" y="210.9" width="4.59" height="4.6" fill="#ffb2b2"/>
<rect x="306.01" y="210.9" width="4.59" height="4.6" fill="#ffcccc"/>
<rect x="223.4" y="215.5" width="4.59" height="4.6" fill="#bdbdbd"/>
<rect x="227.99" y="215.5" width="4.59" height="4.6" fill="#fff0f0"/>
<rect x="232.58" y="215.5" width="4.59" height="4.6" fill="#ffffff"/>
<rect x="237.17" y="215.5" width="4.59" height="4.6" fill="#efefff"/>
<rect x="241.76" y="215.5" width="4.59" height="4.6" fill="#bdbdbd"/>
<rect x="246.35" y="215.5" width="4.59" height="4.6" fill="#bdbdbd"/>
<rect x="250.94" y="215.5" width="4.59" height="4.6" fill="#bdbdbd"/>
<rect x="255.53" y="215.5" width="4.59" height="4.6" fill="#ffffff"/>
<rect x="260.12" y="215.5" width="4.59" height="4.6" fill="#ff4d4d"/>
<rect x="264.71" y="215.5" width="4.59" height="4.6" fill="#ff4d4d"/>
<rect x="269.29" y="215.5" width="4.59" height="4.6" fill="#ff9999"/>
<rect x="273.88" y="215.5" width="4.59" height="4.6" fill="#ffcccc"/>
<rect x="278.47" y="215.5" width="4.59" height="4.6" fill="#ffb2b2"/>
<rect x="283.06" y="215.5" width="4.59" height="4.6" fill="#ffb2b2"/>
<rect x="287.65" y="215.5" width="4.59" height="4.6" fill="#ff9999"/>
<rect x="292.24" y="215.5" width="4.59" height="4.6" fill="#fff0f0"/>
<rect x="296.83" y="215.5" width="4.59" height="4.6" fill="#efefff"/>
<rect x="301.42" y="215.5" width="4.59" height="4.6" fill="#ffb2b2"/>
<rect x="306.01" y="215.5" width="4.59" height="4.6" fill="#ffcccc"/>
<rect x="223.4" y="220.1" width="4.59" height="4.6" fill="#bdbdbd"/>
<rect x="227.99" y="220.1" width="4.59" height="4.6" fill="#ffcccc"/>
<rect x="232.58" y="220.1" width="4.59" height="4.6" fill="#fff0f0"/>
<rect x="237.17" y="220.1" width="4.59" height="4.6" fill="#fff0f0"/>
<rect x="241.76" y="220.1" width="4.59" height="4.6" fill="#bdbdbd"/>
<rect x="246.35" y="220.1" width="4.59" height="4.6" fill="#bdbdbd"/>
<rect x="250.94" y="220.1" width="4.59" height="4.6" fill="#bdbdbd"/>
<rect x="255.53" y="220.1" width="4.59" height="4.6" fill="#fff0f0"/>
<rect x="260.12" y="220.1" width="4.59" height="4.6" fill="#ff4d4d"/>
<rect x="264.71" y="220.1" width="4.59" height="4.6" fill="#ff4d4d"/>
<rect x="269.29" y="220.1" width="4.59" height="4.6" fill="#ff8080"/>
<rect x="273.88" y="220.1" width="4.59" height="4.6" fill="#fff0f0"/>
<rect x="278.47" y="220.1" width="4.59" height="4.6" fill="#ffb2b2"/>
<rect x="283.06" y="220.1" width="4.59" height="4.6" fill="#ffb2b2"/>
<rect x="287.65" y="220.1" width="4.59" height="4.6" fill="#ffb2b2"/>
<rect x="292.24" y="220.1" width="4.59" height="4.6" fill="#fff0f0"/>
<rect x="296.83" y="220.1" width="4.59" height="4.6" fill="#efefff"/>
<rect x="301.42" y="220.1" width="4.59" height="4.6" fill="#ffb2b2"/>
<rect x="306.01" y="220.1" width="4.59" height="4.6" fill="#ffcccc"/>
<rect x="223.4" y="224.7" width="4.59" height="4.6" fill="#bdbdbd"/>
<rect x="227.99" y="224.7" width="4.59" height="4.6" fill="#ffcccc"/>
<rect x="232.58" y="224.7" width="4.59" height="4.6" fill="#fff0f0"/>
<rect x="237.17" y="224.7" width="4.59" height="4.6" fill="#fff0f0"/>
<rect x="241.76" y="224.7" width="4.59" height="4.6" fill="#bdbdbd"/>
<rect x="246.35" y="224.7" width="4.59" height="4.6" fill="#bdbdbd"/>
<rect x="250.94" y="224.7" width="4.59" height="4.6" fill="#bdbdbd"/>
<rect x="255.53" y="224.7" width="4.59" height="4.6" fill="#fff0f0"/>
<rect x="260.12" y="224.7" width="4.59" height="4.6" fill="#ff4d4d"/>
<rect x="264.71" y="224.7" width="4.59" height="4.6" fill="#ff3333"/>
<rect x="269.29" y="224.7" width="4.59" height="4.6" fill="#ff8080"/>
<rect x="273.88" y="224.7" width="4.59" height="4.6" fill="#fff0f0"/>
<rect x="278.47" y="224.7" width="4.59" height="4.6" fill="#ffb2b2"/>
<rect x="283.06" y="224.7" width="4.59" height="4.6" fill="#ffb2b2"/>
<rect x="287.65" y="224.7" width="4.59" height="4.6" fill="#ffb2b2"/>
<rect x="292.24" y="224.7" width="4.59" height="4.6" fill="#fff0f0"/>
<rect x="296.83" y="224.7" width="4.59" height="4.6" fill="#efefff"/>
<rect x="301.42" y="224.7" width="4.59" height="4.6" fill="#ffb2b2"/>
<rect x="306.01" y="224.7" width="4.59" height="4.6" fill="#ffcccc"/>
<rect x="223.4" y="229.3" width="4.59" height="4.6" fill="#bdbdbd"/>
<rect x="227.99" y="229.3" width="4.59" height="4.6" fill="#ffcccc"/>
<rect x="232.58" y="229.3" width="4.59" height="4.6" fill="#fff0f0"/>
<rect x="237.17" y="229.3" width="4.59" height="4.6" fill="#fff0f0"/>
<rect x="241.76" y="229.3" width="4.59" height="4.6" fill="#bdbdbd"/>
<rect x="246.35" y="229.3" width="4.59" height="4.6" fill="#bdbdbd"/>
<rect x="250.94" y="229.3" width="4.59" height="4.6" fill="#bdbdbd"/>
<rect x="255.53" y="229.3" width="4.59" height="4.6" fill="#fff0f0"/>
<rect x="260.12" y="229.3" width="4.59" height="4.6" fill="#ff6666"/>
<rect x="264.71" y="229.3" width="4.59" height="4.6" fill="#ff4d4d"/>
<rect x="269.29" y="229.3" width="4.59" height="4.6" fill="#ff9999"/>
<rect x="273.88" y="229.3" width="4.59" height="4.6" fill="#fff0f0"/>
<rect x="278.47" y="229.3" width="4.59" height="4.6" fill="#ffb2b2"/>
<rect x="283.06" y="229.3" width="4.59" height="4.6" fill="#ffb2b2"/>
<rect x="287.65" y="229.3" width="4.59" height="4.6" fill="#ffb2b2"/>
<rect x="292.24" y="229.3" width="4.59" height="4.6" fill="#fff0f0"/>
<rect x="296.83" y="229.3" width="4.59" height="4.6" fill="#efefff"/>
<rect x="301.42" y="229.3" width="4.59" height="4.6" fill="#ffb2b2"/>
<rect x="306.01" y="229.3" width="4.59" height="4.6" fill="#ffcccc"/>
<line x1="227.99" y1="164.9" x2="227.99" y2="233.9" stroke="#fff" stroke-width="0.55"/>
<line x1="232.58" y1="164.9" x2="232.58" y2="233.9" stroke="#fff" stroke-width="0.55"/>
<line x1="237.17" y1="164.9" x2="237.17" y2="233.9" stroke="#fff" stroke-width="0.55"/>
<line x1="241.76" y1="164.9" x2="241.76" y2="233.9" stroke="#fff" stroke-width="0.55"/>
<line x1="246.35" y1="164.9" x2="246.35" y2="233.9" stroke="#fff" stroke-width="0.55"/>
<line x1="250.94" y1="164.9" x2="250.94" y2="233.9" stroke="#fff" stroke-width="0.55"/>
<line x1="255.53" y1="164.9" x2="255.53" y2="233.9" stroke="#fff" stroke-width="0.55"/>
<line x1="260.12" y1="164.9" x2="260.12" y2="233.9" stroke="#fff" stroke-width="0.55"/>
<line x1="264.71" y1="164.9" x2="264.71" y2="233.9" stroke="#fff" stroke-width="0.55"/>
<line x1="269.29" y1="164.9" x2="269.29" y2="233.9" stroke="#fff" stroke-width="0.55"/>
<line x1="273.88" y1="164.9" x2="273.88" y2="233.9" stroke="#fff" stroke-width="0.55"/>
<line x1="278.47" y1="164.9" x2="278.47" y2="233.9" stroke="#fff" stroke-width="0.55"/>
<line x1="283.06" y1="164.9" x2="283.06" y2="233.9" stroke="#fff" stroke-width="0.55"/>
<line x1="287.65" y1="164.9" x2="287.65" y2="233.9" stroke="#fff" stroke-width="0.55"/>
<line x1="292.24" y1="164.9" x2="292.24" y2="233.9" stroke="#fff" stroke-width="0.55"/>
<line x1="296.83" y1="164.9" x2="296.83" y2="233.9" stroke="#fff" stroke-width="0.55"/>
<line x1="301.42" y1="164.9" x2="301.42" y2="233.9" stroke="#fff" stroke-width="0.55"/>
<line x1="306.01" y1="164.9" x2="306.01" y2="233.9" stroke="#fff" stroke-width="0.55"/>
<line x1="223.4" y1="169.5" x2="310.6" y2="169.5" stroke="#fff" stroke-width="0.55"/>
<line x1="223.4" y1="174.1" x2="310.6" y2="174.1" stroke="#fff" stroke-width="0.55"/>
<line x1="223.4" y1="183.3" x2="310.6" y2="183.3" stroke="#fff" stroke-width="0.55"/>
<line x1="223.4" y1="187.9" x2="310.6" y2="187.9" stroke="#fff" stroke-width="0.55"/>
<line x1="223.4" y1="192.5" x2="310.6" y2="192.5" stroke="#fff" stroke-width="0.55"/>
<line x1="223.4" y1="197.1" x2="310.6" y2="197.1" stroke="#fff" stroke-width="0.55"/>
<line x1="223.4" y1="201.7" x2="310.6" y2="201.7" stroke="#fff" stroke-width="0.55"/>
<line x1="223.4" y1="206.3" x2="310.6" y2="206.3" stroke="#fff" stroke-width="0.55"/>
<line x1="223.4" y1="210.9" x2="310.6" y2="210.9" stroke="#fff" stroke-width="0.55"/>
<line x1="223.4" y1="215.5" x2="310.6" y2="215.5" stroke="#fff" stroke-width="0.55"/>
<line x1="223.4" y1="220.1" x2="310.6" y2="220.1" stroke="#fff" stroke-width="0.55"/>
<line x1="223.4" y1="224.7" x2="310.6" y2="224.7" stroke="#fff" stroke-width="0.55"/>
<line x1="223.4" y1="229.3" x2="310.6" y2="229.3" stroke="#fff" stroke-width="0.55"/>
<rect x="223.4" y="164.9" width="87.2" height="69" fill="none" stroke="#333" stroke-width="1"/>
<line x1="223.4" y1="178.7" x2="310.6" y2="178.7" stroke="#111" stroke-width="0.9"/>
<text x="317.6" y="144.9" font-size="6.6" font-weight="bold" fill="#000">UPCISCC 154</text>
<text transform="translate(321.79,163) rotate(-90)" font-size="3.9" fill="#222">CXCR2</text>
<text transform="translate(326.38,163) rotate(-90)" font-size="3.9" fill="#222">CXCL1</text>
<text transform="translate(330.97,163) rotate(-90)" font-size="3.9" fill="#222">CXCL2</text>
<text transform="translate(335.56,163) rotate(-90)" font-size="3.9" fill="#222">CXCL3</text>
<text transform="translate(340.15,163) rotate(-90)" font-size="3.9" fill="#222">CXCL5</text>
<text transform="translate(344.74,163) rotate(-90)" font-size="3.9" fill="#222">CXCL6</text>
<text transform="translate(349.33,163) rotate(-90)" font-size="3.9" fill="#222">CXCL7</text>
<text transform="translate(353.92,163) rotate(-90)" font-size="3.9" fill="#222">CXCL8</text>
<text transform="translate(358.51,163) rotate(-90)" font-size="3.9" fill="#222">CXCL10</text>
<text transform="translate(363.1,163) rotate(-90)" font-size="3.9" fill="#222">CXCL11</text>
<text transform="translate(367.69,163) rotate(-90)" font-size="3.9" fill="#222">CCL3</text>
<text transform="translate(372.28,163) rotate(-90)" font-size="3.9" fill="#222">CCL25</text>
<text transform="translate(376.87,163) rotate(-90)" font-size="3.9" fill="#222">IL1α</text>
<text transform="translate(381.46,163) rotate(-90)" font-size="3.9" fill="#222">IL1β</text>
<text transform="translate(386.05,163) rotate(-90)" font-size="3.9" fill="#222">IL6</text>
<text transform="translate(390.64,163) rotate(-90)" font-size="3.9" fill="#222">GM-CSF</text>
<text transform="translate(395.23,163) rotate(-90)" font-size="3.9" fill="#222">MIF</text>
<text transform="translate(399.82,163) rotate(-90)" font-size="3.9" fill="#222">EGF</text>
<text transform="translate(404.41,163) rotate(-90)" font-size="3.9" fill="#222">VEGF</text>
<rect x="318.3" y="164.9" width="4.59" height="4.6" fill="#efefff"/>
<rect x="322.89" y="164.9" width="4.59" height="4.6" fill="#ffffff"/>
<rect x="327.48" y="164.9" width="4.59" height="4.6" fill="#ffffff"/>
<rect x="332.07" y="164.9" width="4.59" height="4.6" fill="#ffffff"/>
<rect x="336.66" y="164.9" width="4.59" height="4.6" fill="#fff0f0"/>
<rect x="341.25" y="164.9" width="4.59" height="4.6" fill="#ffffff"/>
<rect x="345.84" y="164.9" width="4.59" height="4.6" fill="#d1d1ff"/>
<rect x="350.43" y="164.9" width="4.59" height="4.6" fill="#ffffff"/>
<rect x="355.02" y="164.9" width="4.59" height="4.6" fill="#ffffff"/>
<rect x="359.61" y="164.9" width="4.59" height="4.6" fill="#ffffff"/>
<rect x="364.19" y="164.9" width="4.59" height="4.6" fill="#bdbdbd"/>
<rect x="368.78" y="164.9" width="4.59" height="4.6" fill="#efefff"/>
<rect x="373.37" y="164.9" width="4.59" height="4.6" fill="#ffffff"/>
<rect x="377.96" y="164.9" width="4.59" height="4.6" fill="#ffffff"/>
<rect x="382.55" y="164.9" width="4.59" height="4.6" fill="#ffffff"/>
<rect x="387.14" y="164.9" width="4.59" height="4.6" fill="#ffffff"/>
<rect x="391.73" y="164.9" width="4.59" height="4.6" fill="#efefff"/>
<rect x="396.32" y="164.9" width="4.59" height="4.6" fill="#ffffff"/>
<rect x="400.91" y="164.9" width="4.59" height="4.6" fill="#ffffff"/>
<rect x="318.3" y="169.5" width="4.59" height="4.6" fill="#efefff"/>
<rect x="322.89" y="169.5" width="4.59" height="4.6" fill="#ffffff"/>
<rect x="327.48" y="169.5" width="4.59" height="4.6" fill="#ffffff"/>
<rect x="332.07" y="169.5" width="4.59" height="4.6" fill="#ffffff"/>
<rect x="336.66" y="169.5" width="4.59" height="4.6" fill="#babaff"/>
<rect x="341.25" y="169.5" width="4.59" height="4.6" fill="#efefff"/>
<rect x="345.84" y="169.5" width="4.59" height="4.6" fill="#fff0f0"/>
<rect x="350.43" y="169.5" width="4.59" height="4.6" fill="#ffffff"/>
<rect x="355.02" y="169.5" width="4.59" height="4.6" fill="#ffffff"/>
<rect x="359.61" y="169.5" width="4.59" height="4.6" fill="#ffffff"/>
<rect x="364.19" y="169.5" width="4.59" height="4.6" fill="#bdbdbd"/>
<rect x="368.78" y="169.5" width="4.59" height="4.6" fill="#fff0f0"/>
<rect x="373.37" y="169.5" width="4.59" height="4.6" fill="#ffffff"/>
<rect x="377.96" y="169.5" width="4.59" height="4.6" fill="#ffffff"/>
<rect x="382.55" y="169.5" width="4.59" height="4.6" fill="#ffffff"/>
<rect x="387.14" y="169.5" width="4.59" height="4.6" fill="#ffffff"/>
<rect x="391.73" y="169.5" width="4.59" height="4.6" fill="#ffffff"/>
<rect x="396.32" y="169.5" width="4.59" height="4.6" fill="#efefff"/>
<rect x="400.91" y="169.5" width="4.59" height="4.6" fill="#efefff"/>
<rect x="318.3" y="174.1" width="4.59" height="4.6" fill="#fff0f0"/>
<rect x="322.89" y="174.1" width="4.59" height="4.6" fill="#ffffff"/>
<rect x="327.48" y="174.1" width="4.59" height="4.6" fill="#ffffff"/>
<rect x="332.07" y="174.1" width="4.59" height="4.6" fill="#ffffff"/>
<rect x="336.66" y="174.1" width="4.59" height="4.6" fill="#ffffff"/>
<rect x="341.25" y="174.1" width="4.59" height="4.6" fill="#ffffff"/>
<rect x="345.84" y="174.1" width="4.59" height="4.6" fill="#ffffff"/>
<rect x="350.43" y="174.1" width="4.59" height="4.6" fill="#ffffff"/>
<rect x="355.02" y="174.1" width="4.59" height="4.6" fill="#efefff"/>
<rect x="359.61" y="174.1" width="4.59" height="4.6" fill="#ffffff"/>
<rect x="364.19" y="174.1" width="4.59" height="4.6" fill="#bdbdbd"/>
<rect x="368.78" y="174.1" width="4.59" height="4.6" fill="#efefff"/>
<rect x="373.37" y="174.1" width="4.59" height="4.6" fill="#ffffff"/>
<rect x="377.96" y="174.1" width="4.59" height="4.6" fill="#ffffff"/>
<rect x="382.55" y="174.1" width="4.59" height="4.6" fill="#ffffff"/>
<rect x="387.14" y="174.1" width="4.59" height="4.6" fill="#ffffff"/>
<rect x="391.73" y="174.1" width="4.59" height="4.6" fill="#ffffff"/>
<rect x="396.32" y="174.1" width="4.59" height="4.6" fill="#fff0f0"/>
<rect x="400.91" y="174.1" width="4.59" height="4.6" fill="#ffffff"/>
<rect x="318.3" y="178.7" width="4.59" height="4.6" fill="#fff0f0"/>
<rect x="322.89" y="178.7" width="4.59" height="4.6" fill="#ffcccc"/>
<rect x="327.48" y="178.7" width="4.59" height="4.6" fill="#ffb2b2"/>
<rect x="332.07" y="178.7" width="4.59" height="4.6" fill="#ffb2b2"/>
<rect x="336.66" y="178.7" width="4.59" height="4.6" fill="#fff0f0"/>
<rect x="341.25" y="178.7" width="4.59" height="4.6" fill="#ffcccc"/>
<rect x="345.84" y="178.7" width="4.59" height="4.6" fill="#efefff"/>
<rect x="350.43" y="178.7" width="4.59" height="4.6" fill="#ffcccc"/>
<rect x="355.02" y="178.7" width="4.59" height="4.6" fill="#ff9999"/>
<rect x="359.61" y="178.7" width="4.59" height="4.6" fill="#ffcccc"/>
<rect x="364.19" y="178.7" width="4.59" height="4.6" fill="#bdbdbd"/>
<rect x="368.78" y="178.7" width="4.59" height="4.6" fill="#ffcccc"/>
<rect x="373.37" y="178.7" width="4.59" height="4.6" fill="#fff0f0"/>
<rect x="377.96" y="178.7" width="4.59" height="4.6" fill="#fff0f0"/>
<rect x="382.55" y="178.7" width="4.59" height="4.6" fill="#ff9999"/>
<rect x="387.14" y="178.7" width="4.59" height="4.6" fill="#ffffff"/>
<rect x="391.73" y="178.7" width="4.59" height="4.6" fill="#efefff"/>
<rect x="396.32" y="178.7" width="4.59" height="4.6" fill="#babaff"/>
<rect x="400.91" y="178.7" width="4.59" height="4.6" fill="#ffcccc"/>
<rect x="318.3" y="183.3" width="4.59" height="4.6" fill="#ffffff"/>
<rect x="322.89" y="183.3" width="4.59" height="4.6" fill="#efefff"/>
<rect x="327.48" y="183.3" width="4.59" height="4.6" fill="#ffcccc"/>
<rect x="332.07" y="183.3" width="4.59" height="4.6" fill="#ffcccc"/>
<rect x="336.66" y="183.3" width="4.59" height="4.6" fill="#babaff"/>
<rect x="341.25" y="183.3" width="4.59" height="4.6" fill="#babaff"/>
<rect x="345.84" y="183.3" width="4.59" height="4.6" fill="#a3a3ff"/>
<rect x="350.43" y="183.3" width="4.59" height="4.6" fill="#ffcccc"/>
<rect x="355.02" y="183.3" width="4.59" height="4.6" fill="#ff9999"/>
<rect x="359.61" y="183.3" width="4.59" height="4.6" fill="#ffcccc"/>
<rect x="364.19" y="183.3" width="4.59" height="4.6" fill="#bdbdbd"/>
<rect x="368.78" y="183.3" width="4.59" height="4.6" fill="#ffcccc"/>
<rect x="373.37" y="183.3" width="4.59" height="4.6" fill="#fff0f0"/>
<rect x="377.96" y="183.3" width="4.59" height="4.6" fill="#fff0f0"/>
<rect x="382.55" y="183.3" width="4.59" height="4.6" fill="#ffb2b2"/>
<rect x="387.14" y="183.3" width="4.59" height="4.6" fill="#ffffff"/>
<rect x="391.73" y="183.3" width="4.59" height="4.6" fill="#d1d1ff"/>
<rect x="396.32" y="183.3" width="4.59" height="4.6" fill="#babaff"/>
<rect x="400.91" y="183.3" width="4.59" height="4.6" fill="#fff0f0"/>
<rect x="318.3" y="187.9" width="4.59" height="4.6" fill="#ffffff"/>
<rect x="322.89" y="187.9" width="4.59" height="4.6" fill="#ffffff"/>
<rect x="327.48" y="187.9" width="4.59" height="4.6" fill="#ffcccc"/>
<rect x="332.07" y="187.9" width="4.59" height="4.6" fill="#ffcccc"/>
<rect x="336.66" y="187.9" width="4.59" height="4.6" fill="#ffffff"/>
<rect x="341.25" y="187.9" width="4.59" height="4.6" fill="#d1d1ff"/>
<rect x="345.84" y="187.9" width="4.59" height="4.6" fill="#ffffff"/>
<rect x="350.43" y="187.9" width="4.59" height="4.6" fill="#ffcccc"/>
<rect x="355.02" y="187.9" width="4.59" height="4.6" fill="#ff9999"/>
<rect x="359.61" y="187.9" width="4.59" height="4.6" fill="#ffcccc"/>
<rect x="364.19" y="187.9" width="4.59" height="4.6" fill="#bdbdbd"/>
<rect x="368.78" y="187.9" width="4.59" height="4.6" fill="#ffcccc"/>
<rect x="373.37" y="187.9" width="4.59" height="4.6" fill="#fff0f0"/>
<rect x="377.96" y="187.9" width="4.59" height="4.6" fill="#fff0f0"/>
<rect x="382.55" y="187.9" width="4.59" height="4.6" fill="#ffb2b2"/>
<rect x="387.14" y="187.9" width="4.59" height="4.6" fill="#ffffff"/>
<rect x="391.73" y="187.9" width="4.59" height="4.6" fill="#efefff"/>
<rect x="396.32" y="187.9" width="4.59" height="4.6" fill="#d1d1ff"/>
<rect x="400.91" y="187.9" width="4.59" height="4.6" fill="#fff0f0"/>
<rect x="318.3" y="192.5" width="4.59" height="4.6" fill="#ffcccc"/>
<rect x="322.89" y="192.5" width="4.59" height="4.6" fill="#ff9999"/>
<rect x="327.48" y="192.5" width="4.59" height="4.6" fill="#ffb2b2"/>
<rect x="332.07" y="192.5" width="4.59" height="4.6" fill="#ff9999"/>
<rect x="336.66" y="192.5" width="4.59" height="4.6" fill="#ffb2b2"/>
<rect x="341.25" y="192.5" width="4.59" height="4.6" fill="#ffb2b2"/>
<rect x="345.84" y="192.5" width="4.59" height="4.6" fill="#ff6666"/>
<rect x="350.43" y="192.5" width="4.59" height="4.6" fill="#ffb2b2"/>
<rect x="355.02" y="192.5" width="4.59" height="4.6" fill="#ffb2b2"/>
<rect x="359.61" y="192.5" width="4.59" height="4.6" fill="#ffcccc"/>
<rect x="364.19" y="192.5" width="4.59" height="4.6" fill="#bdbdbd"/>
<rect x="368.78" y="192.5" width="4.59" height="4.6" fill="#ffcccc"/>
<rect x="373.37" y="192.5" width="4.59" height="4.6" fill="#fff0f0"/>
<rect x="377.96" y="192.5" width="4.59" height="4.6" fill="#fff0f0"/>
<rect x="382.55" y="192.5" width="4.59" height="4.6" fill="#ffcccc"/>
<rect x="387.14" y="192.5" width="4.59" height="4.6" fill="#ffcccc"/>
<rect x="391.73" y="192.5" width="4.59" height="4.6" fill="#d1d1ff"/>
<rect x="396.32" y="192.5" width="4.59" height="4.6" fill="#fff0f0"/>
<rect x="400.91" y="192.5" width="4.59" height="4.6" fill="#ffcccc"/>
<rect x="318.3" y="197.1" width="4.59" height="4.6" fill="#ffb2b2"/>
<rect x="322.89" y="197.1" width="4.59" height="4.6" fill="#ffb2b2"/>
<rect x="327.48" y="197.1" width="4.59" height="4.6" fill="#ffb2b2"/>
<rect x="332.07" y="197.1" width="4.59" height="4.6" fill="#ffb2b2"/>
<rect x="336.66" y="197.1" width="4.59" height="4.6" fill="#ff9999"/>
<rect x="341.25" y="197.1" width="4.59" height="4.6" fill="#ffb2b2"/>
<rect x="345.84" y="197.1" width="4.59" height="4.6" fill="#ff9999"/>
<rect x="350.43" y="197.1" width="4.59" height="4.6" fill="#ffb2b2"/>
<rect x="355.02" y="197.1" width="4.59" height="4.6" fill="#ffb2b2"/>
<rect x="359.61" y="197.1" width="4.59" height="4.6" fill="#ffcccc"/>
<rect x="364.19" y="197.1" width="4.59" height="4.6" fill="#bdbdbd"/>
<rect x="368.78" y="197.1" width="4.59" height="4.6" fill="#ffcccc"/>
<rect x="373.37" y="197.1" width="4.59" height="4.6" fill="#fff0f0"/>
<rect x="377.96" y="197.1" width="4.59" height="4.6" fill="#fff0f0"/>
<rect x="382.55" y="197.1" width="4.59" height="4.6" fill="#ffcccc"/>
<rect x="387.14" y="197.1" width="4.59" height="4.6" fill="#ffcccc"/>
<rect x="391.73" y="197.1" width="4.59" height="4.6" fill="#efefff"/>
<rect x="396.32" y="197.1" width="4.59" height="4.6" fill="#d1d1ff"/>
<rect x="400.91" y="197.1" width="4.59" height="4.6" fill="#ffcccc"/>
<rect x="318.3" y="201.7" width="4.59" height="4.6" fill="#ffb2b2"/>
<rect x="322.89" y="201.7" width="4.59" height="4.6" fill="#ffb2b2"/>
<rect x="327.48" y="201.7" width="4.59" height="4.6" fill="#ffb2b2"/>
<rect x="332.07" y="201.7" width="4.59" height="4.6" fill="#ffb2b2"/>
<rect x="336.66" y="201.7" width="4.59" height="4.6" fill="#ffb2b2"/>
<rect x="341.25" y="201.7" width="4.59" height="4.6" fill="#fff0f0"/>
<rect x="345.84" y="201.7" width="4.59" height="4.6" fill="#ff9999"/>
<rect x="350.43" y="201.7" width="4.59" height="4.6" fill="#ffb2b2"/>
<rect x="355.02" y="201.7" width="4.59" height="4.6" fill="#ffb2b2"/>
<rect x="359.61" y="201.7" width="4.59" height="4.6" fill="#ffcccc"/>
<rect x="364.19" y="201.7" width="4.59" height="4.6" fill="#bdbdbd"/>
<rect x="368.78" y="201.7" width="4.59" height="4.6" fill="#ffcccc"/>
<rect x="373.37" y="201.7" width="4.59" height="4.6" fill="#fff0f0"/>
<rect x="377.96" y="201.7" width="4.59" height="4.6" fill="#fff0f0"/>
<rect x="382.55" y="201.7" width="4.59" height="4.6" fill="#ffcccc"/>
<rect x="387.14" y="201.7" width="4.59" height="4.6" fill="#ffcccc"/>
<rect x="391.73" y="201.7" width="4.59" height="4.6" fill="#efefff"/>
<rect x="396.32" y="201.7" width="4.59" height="4.6" fill="#d1d1ff"/>
<rect x="400.91" y="201.7" width="4.59" height="4.6" fill="#ffcccc"/>
<rect x="318.3" y="206.3" width="4.59" height="4.6" fill="#ffb2b2"/>
<rect x="322.89" y="206.3" width="4.59" height="4.6" fill="#ff9999"/>
<rect x="327.48" y="206.3" width="4.59" height="4.6" fill="#ffb2b2"/>
<rect x="332.07" y="206.3" width="4.59" height="4.6" fill="#ffb2b2"/>
<rect x="336.66" y="206.3" width="4.59" height="4.6" fill="#ff8080"/>
<rect x="341.25" y="206.3" width="4.59" height="4.6" fill="#ff9999"/>
<rect x="345.84" y="206.3" width="4.59" height="4.6" fill="#ff8080"/>
<rect x="350.43" y="206.3" width="4.59" height="4.6" fill="#ffb2b2"/>
<rect x="355.02" y="206.3" width="4.59" height="4.6" fill="#ffb2b2"/>
<rect x="359.61" y="206.3" width="4.59" height="4.6" fill="#ffcccc"/>
<rect x="364.19" y="206.3" width="4.59" height="4.6" fill="#bdbdbd"/>
<rect x="368.78" y="206.3" width="4.59" height="4.6" fill="#ffcccc"/>
<rect x="373.37" y="206.3" width="4.59" height="4.6" fill="#fff0f0"/>
<rect x="377.96" y="206.3" width="4.59" height="4.6" fill="#fff0f0"/>
<rect x="382.55" y="206.3" width="4.59" height="4.6" fill="#ffcccc"/>
<rect x="387.14" y="206.3" width="4.59" height="4.6" fill="#ffb2b2"/>
<rect x="391.73" y="206.3" width="4.59" height="4.6" fill="#efefff"/>
<rect x="396.32" y="206.3" width="4.59" height="4.6" fill="#ffcccc"/>
<rect x="400.91" y="206.3" width="4.59" height="4.6" fill="#ffcccc"/>
<rect x="318.3" y="210.9" width="4.59" height="4.6" fill="#ffb2b2"/>
<rect x="322.89" y="210.9" width="4.59" height="4.6" fill="#ff9999"/>
<rect x="327.48" y="210.9" width="4.59" height="4.6" fill="#ffb2b2"/>
<rect x="332.07" y="210.9" width="4.59" height="4.6" fill="#ffb2b2"/>
<rect x="336.66" y="210.9" width="4.59" height="4.6" fill="#ff8080"/>
<rect x="341.25" y="210.9" width="4.59" height="4.6" fill="#ff9999"/>
<rect x="345.84" y="210.9" width="4.59" height="4.6" fill="#ff8080"/>
<rect x="350.43" y="210.9" width="4.59" height="4.6" fill="#ffb2b2"/>
<rect x="355.02" y="210.9" width="4.59" height="4.6" fill="#ffb2b2"/>
<rect x="359.61" y="210.9" width="4.59" height="4.6" fill="#ffcccc"/>
<rect x="364.19" y="210.9" width="4.59" height="4.6" fill="#bdbdbd"/>
<rect x="368.78" y="210.9" width="4.59" height="4.6" fill="#ffcccc"/>
<rect x="373.37" y="210.9" width="4.59" height="4.6" fill="#fff0f0"/>
<rect x="377.96" y="210.9" width="4.59" height="4.6" fill="#fff0f0"/>
<rect x="382.55" y="210.9" width="4.59" height="4.6" fill="#ffcccc"/>
<rect x="387.14" y="210.9" width="4.59" height="4.6" fill="#ffb2b2"/>
<rect x="391.73" y="210.9" width="4.59" height="4.6" fill="#efefff"/>
<rect x="396.32" y="210.9" width="4.59" height="4.6" fill="#fff0f0"/>
<rect x="400.91" y="210.9" width="4.59" height="4.6" fill="#ffcccc"/>
<rect x="318.3" y="215.5" width="4.59" height="4.6" fill="#ffb2b2"/>
<rect x="322.89" y="215.5" width="4.59" height="4.6" fill="#ffb2b2"/>
<rect x="327.48" y="215.5" width="4.59" height="4.6" fill="#ffb2b2"/>
<rect x="332.07" y="215.5" width="4.59" height="4.6" fill="#ffb2b2"/>
<rect x="336.66" y="215.5" width="4.59" height="4.6" fill="#ff9999"/>
<rect x="341.25" y="215.5" width="4.59" height="4.6" fill="#ffb2b2"/>
<rect x="345.84" y="215.5" width="4.59" height="4.6" fill="#ff8080"/>
<rect x="350.43" y="215.5" width="4.59" height="4.6" fill="#ffb2b2"/>
<rect x="355.02" y="215.5" width="4.59" height="4.6" fill="#ffb2b2"/>
<rect x="359.61" y="215.5" width="4.59" height="4.6" fill="#ffcccc"/>
<rect x="364.19" y="215.5" width="4.59" height="4.6" fill="#bdbdbd"/>
<rect x="368.78" y="215.5" width="4.59" height="4.6" fill="#ffcccc"/>
<rect x="373.37" y="215.5" width="4.59" height="4.6" fill="#fff0f0"/>
<rect x="377.96" y="215.5" width="4.59" height="4.6" fill="#fff0f0"/>
<rect x="382.55" y="215.5" width="4.59" height="4.6" fill="#ffcccc"/>
<rect x="387.14" y="215.5" width="4.59" height="4.6" fill="#ffb2b2"/>
<rect x="391.73" y="215.5" width="4.59" height="4.6" fill="#d1d1ff"/>
<rect x="396.32" y="215.5" width="4.59" height="4.6" fill="#ffffff"/>
<rect x="400.91" y="215.5" width="4.59" height="4.6" fill="#ffcccc"/>
<rect x="318.3" y="220.1" width="4.59" height="4.6" fill="#ffb2b2"/>
<rect x="322.89" y="220.1" width="4.59" height="4.6" fill="#ff9999"/>
<rect x="327.48" y="220.1" width="4.59" height="4.6" fill="#ffb2b2"/>
<rect x="332.07" y="220.1" width="4.59" height="4.6" fill="#ffb2b2"/>
<rect x="336.66" y="220.1" width="4.59" height="4.6" fill="#ff8080"/>
<rect x="341.25" y="220.1" width="4.59" height="4.6" fill="#ff9999"/>
<rect x="345.84" y="220.1" width="4.59" height="4.6" fill="#ff6666"/>
<rect x="350.43" y="220.1" width="4.59" height="4.6" fill="#ffb2b2"/>
<rect x="355.02" y="220.1" width="4.59" height="4.6" fill="#ffb2b2"/>
<rect x="359.61" y="220.1" width="4.59" height="4.6" fill="#ffcccc"/>
<rect x="364.19" y="220.1" width="4.59" height="4.6" fill="#bdbdbd"/>
<rect x="368.78" y="220.1" width="4.59" height="4.6" fill="#ffcccc"/>
<rect x="373.37" y="220.1" width="4.59" height="4.6" fill="#fff0f0"/>
<rect x="377.96" y="220.1" width="4.59" height="4.6" fill="#fff0f0"/>
<rect x="382.55" y="220.1" width="4.59" height="4.6" fill="#ffcccc"/>
<rect x="387.14" y="220.1" width="4.59" height="4.6" fill="#ff9999"/>
<rect x="391.73" y="220.1" width="4.59" height="4.6" fill="#d1d1ff"/>
<rect x="396.32" y="220.1" width="4.59" height="4.6" fill="#ffcccc"/>
<rect x="400.91" y="220.1" width="4.59" height="4.6" fill="#ffcccc"/>
<rect x="318.3" y="224.7" width="4.59" height="4.6" fill="#ffb2b2"/>
<rect x="322.89" y="224.7" width="4.59" height="4.6" fill="#ffb2b2"/>
<rect x="327.48" y="224.7" width="4.59" height="4.6" fill="#ffb2b2"/>
<rect x="332.07" y="224.7" width="4.59" height="4.6" fill="#ffb2b2"/>
<rect x="336.66" y="224.7" width="4.59" height="4.6" fill="#ff8080"/>
<rect x="341.25" y="224.7" width="4.59" height="4.6" fill="#ff9999"/>
<rect x="345.84" y="224.7" width="4.59" height="4.6" fill="#ff4d4d"/>
<rect x="350.43" y="224.7" width="4.59" height="4.6" fill="#ffb2b2"/>
<rect x="355.02" y="224.7" width="4.59" height="4.6" fill="#ffb2b2"/>
<rect x="359.61" y="224.7" width="4.59" height="4.6" fill="#ffcccc"/>
<rect x="364.19" y="224.7" width="4.59" height="4.6" fill="#bdbdbd"/>
<rect x="368.78" y="224.7" width="4.59" height="4.6" fill="#ffcccc"/>
<rect x="373.37" y="224.7" width="4.59" height="4.6" fill="#fff0f0"/>
<rect x="377.96" y="224.7" width="4.59" height="4.6" fill="#fff0f0"/>
<rect x="382.55" y="224.7" width="4.59" height="4.6" fill="#ffcccc"/>
<rect x="387.14" y="224.7" width="4.59" height="4.6" fill="#ff9999"/>
<rect x="391.73" y="224.7" width="4.59" height="4.6" fill="#d1d1ff"/>
<rect x="396.32" y="224.7" width="4.59" height="4.6" fill="#efefff"/>
<rect x="400.91" y="224.7" width="4.59" height="4.6" fill="#ffcccc"/>
<rect x="318.3" y="229.3" width="4.59" height="4.6" fill="#ffb2b2"/>
<rect x="322.89" y="229.3" width="4.59" height="4.6" fill="#ff9999"/>
<rect x="327.48" y="229.3" width="4.59" height="4.6" fill="#ffb2b2"/>
<rect x="332.07" y="229.3" width="4.59" height="4.6" fill="#ffb2b2"/>
<rect x="336.66" y="229.3" width="4.59" height="4.6" fill="#ff8080"/>
<rect x="341.25" y="229.3" width="4.59" height="4.6" fill="#ff9999"/>
<rect x="345.84" y="229.3" width="4.59" height="4.6" fill="#ff6666"/>
<rect x="350.43" y="229.3" width="4.59" height="4.6" fill="#ffb2b2"/>
<rect x="355.02" y="229.3" width="4.59" height="4.6" fill="#ffb2b2"/>
<rect x="359.61" y="229.3" width="4.59" height="4.6" fill="#ffcccc"/>
<rect x="364.19" y="229.3" width="4.59" height="4.6" fill="#bdbdbd"/>
<rect x="368.78" y="229.3" width="4.59" height="4.6" fill="#ffcccc"/>
<rect x="373.37" y="229.3" width="4.59" height="4.6" fill="#fff0f0"/>
<rect x="377.96" y="229.3" width="4.59" height="4.6" fill="#fff0f0"/>
<rect x="382.55" y="229.3" width="4.59" height="4.6" fill="#ffcccc"/>
<rect x="387.14" y="229.3" width="4.59" height="4.6" fill="#ff9999"/>
<rect x="391.73" y="229.3" width="4.59" height="4.6" fill="#d1d1ff"/>
<rect x="396.32" y="229.3" width="4.59" height="4.6" fill="#efefff"/>
<rect x="400.91" y="229.3" width="4.59" height="4.6" fill="#ffcccc"/>
<line x1="322.89" y1="164.9" x2="322.89" y2="233.9" stroke="#fff" stroke-width="0.55"/>
<line x1="327.48" y1="164.9" x2="327.48" y2="233.9" stroke="#fff" stroke-width="0.55"/>
<line x1="332.07" y1="164.9" x2="332.07" y2="233.9" stroke="#fff" stroke-width="0.55"/>
<line x1="336.66" y1="164.9" x2="336.66" y2="233.9" stroke="#fff" stroke-width="0.55"/>
<line x1="341.25" y1="164.9" x2="341.25" y2="233.9" stroke="#fff" stroke-width="0.55"/>
<line x1="345.84" y1="164.9" x2="345.84" y2="233.9" stroke="#fff" stroke-width="0.55"/>
<line x1="350.43" y1="164.9" x2="350.43" y2="233.9" stroke="#fff" stroke-width="0.55"/>
<line x1="355.02" y1="164.9" x2="355.02" y2="233.9" stroke="#fff" stroke-width="0.55"/>
<line x1="359.61" y1="164.9" x2="359.61" y2="233.9" stroke="#fff" stroke-width="0.55"/>
<line x1="364.19" y1="164.9" x2="364.19" y2="233.9" stroke="#fff" stroke-width="0.55"/>
<line x1="368.78" y1="164.9" x2="368.78" y2="233.9" stroke="#fff" stroke-width="0.55"/>
<line x1="373.37" y1="164.9" x2="373.37" y2="233.9" stroke="#fff" stroke-width="0.55"/>
<line x1="377.96" y1="164.9" x2="377.96" y2="233.9" stroke="#fff" stroke-width="0.55"/>
<line x1="382.55" y1="164.9" x2="382.55" y2="233.9" stroke="#fff" stroke-width="0.55"/>
<line x1="387.14" y1="164.9" x2="387.14" y2="233.9" stroke="#fff" stroke-width="0.55"/>
<line x1="391.73" y1="164.9" x2="391.73" y2="233.9" stroke="#fff" stroke-width="0.55"/>
<line x1="396.32" y1="164.9" x2="396.32" y2="233.9" stroke="#fff" stroke-width="0.55"/>
<line x1="400.91" y1="164.9" x2="400.91" y2="233.9" stroke="#fff" stroke-width="0.55"/>
<line x1="318.3" y1="169.5" x2="405.5" y2="169.5" stroke="#fff" stroke-width="0.55"/>
<line x1="318.3" y1="174.1" x2="405.5" y2="174.1" stroke="#fff" stroke-width="0.55"/>
<line x1="318.3" y1="183.3" x2="405.5" y2="183.3" stroke="#fff" stroke-width="0.55"/>
<line x1="318.3" y1="187.9" x2="405.5" y2="187.9" stroke="#fff" stroke-width="0.55"/>
<line x1="318.3" y1="192.5" x2="405.5" y2="192.5" stroke="#fff" stroke-width="0.55"/>
<line x1="318.3" y1="197.1" x2="405.5" y2="197.1" stroke="#fff" stroke-width="0.55"/>
<line x1="318.3" y1="201.7" x2="405.5" y2="201.7" stroke="#fff" stroke-width="0.55"/>
<line x1="318.3" y1="206.3" x2="405.5" y2="206.3" stroke="#fff" stroke-width="0.55"/>
<line x1="318.3" y1="210.9" x2="405.5" y2="210.9" stroke="#fff" stroke-width="0.55"/>
<line x1="318.3" y1="215.5" x2="405.5" y2="215.5" stroke="#fff" stroke-width="0.55"/>
<line x1="318.3" y1="220.1" x2="405.5" y2="220.1" stroke="#fff" stroke-width="0.55"/>
<line x1="318.3" y1="224.7" x2="405.5" y2="224.7" stroke="#fff" stroke-width="0.55"/>
<line x1="318.3" y1="229.3" x2="405.5" y2="229.3" stroke="#fff" stroke-width="0.55"/>
<rect x="318.3" y="164.9" width="87.2" height="69" fill="none" stroke="#333" stroke-width="1"/>
<line x1="318.3" y1="178.7" x2="405.5" y2="178.7" stroke="#111" stroke-width="0.9"/>
<text x="25.2" y="173.75" font-size="5.4" text-anchor="end" fill="#000">Control d0</text>
<text x="25.2" y="187.55" font-size="5.4" text-anchor="end" fill="#000">10Gy d1</text>
<text x="25.2" y="201.35" font-size="5.4" text-anchor="end" fill="#000">10Gy d2</text>
<text x="25.2" y="215.15" font-size="5.4" text-anchor="end" fill="#000">10Gy d3</text>
<text x="25.2" y="228.95" font-size="5.4" text-anchor="end" fill="#000">10Gy d4</text>
<line x1="26.6" y1="164.9" x2="26.6" y2="233.9" stroke="#222" stroke-width="0.7"/>
<line x1="26.6" y1="164.9" x2="28.9" y2="164.9" stroke="#222" stroke-width="0.7"/>
<line x1="26.6" y1="178.7" x2="28.9" y2="178.7" stroke="#222" stroke-width="0.7"/>
<line x1="26.6" y1="192.5" x2="28.9" y2="192.5" stroke="#222" stroke-width="0.7"/>
<line x1="26.6" y1="206.3" x2="28.9" y2="206.3" stroke="#222" stroke-width="0.7"/>
<line x1="26.6" y1="220.1" x2="28.9" y2="220.1" stroke="#222" stroke-width="0.7"/>
<line x1="26.6" y1="233.9" x2="28.9" y2="233.9" stroke="#222" stroke-width="0.7"/>
<text transform="translate(409.8,11.5) scale(0.95,1.02)" font-size="16.4" font-weight="bold">B</text>
<text x="440.8" y="19.9" font-size="6.58" fill="#000">Correlation with radioresistance</text>
<rect x="440.9" y="24.2" width="73.4" height="4.3" fill="url(#gA)" stroke="#444" stroke-width="0.5"/>
<text x="437.6" y="34.9" font-size="4.2" fill="#000" stroke="#000" stroke-width="0.18">-1.0</text>
<text x="475.2" y="34.9" font-size="4.2" fill="#000" stroke="#000" stroke-width="0.18">0.0</text>
<text x="510.3" y="34.9" font-size="4.2" fill="#000" stroke="#000" stroke-width="0.18">1.0 R or ρ</text>
<text x="442.9" y="59.3" font-size="6.56" font-weight="bold" fill="#000">Pearson R Spearman ρ</text>
<rect x="441.2" y="60.6" width="34.2" height="7.86" fill="#ff2b2b"/>
<rect x="475.4" y="60.6" width="38.5" height="7.86" fill="#ff4a4a"/>
<text x="413.3" y="67.35" font-size="6.5" font-weight="bold" fill="#000">CXCL8</text>
<text x="473.9" y="67.2" font-size="6.2" text-anchor="end" fill="#222">0.83</text>
<text x="513" y="67.2" font-size="6.2" text-anchor="end" fill="#222">0.71</text>
<rect x="441.2" y="68.46" width="34.2" height="7.86" fill="#ff4f4f"/>
<rect x="475.4" y="68.46" width="38.5" height="7.86" fill="#ff6363"/>
<text x="413.3" y="75.21" font-size="6.5" font-weight="bold" fill="#000">CXCL3</text>
<text x="473.9" y="75.06" font-size="6.2" text-anchor="end" fill="#222">0.69</text>
<text x="513" y="75.06" font-size="6.2" text-anchor="end" fill="#222">0.61</text>
<rect x="441.2" y="76.32" width="34.2" height="7.86" fill="#ff5252"/>
<rect x="475.4" y="76.32" width="38.5" height="7.86" fill="#ff8080"/>
<text x="413.3" y="83.07" font-size="6.5" font-weight="bold" fill="#000">CXCL1</text>
<text x="473.9" y="82.92" font-size="6.2" text-anchor="end" fill="#222">0.68</text>
<text x="513" y="82.92" font-size="6.2" text-anchor="end" fill="#222">0.50</text>
<rect x="441.2" y="84.18" width="34.2" height="7.86" fill="#ff6666"/>
<rect x="475.4" y="84.18" width="38.5" height="7.86" fill="#ff8080"/>
<text x="413.3" y="90.93" font-size="6.5" font-weight="bold" fill="#000">CXCL2</text>
<text x="473.9" y="90.78" font-size="6.2" text-anchor="end" fill="#222">0.60</text>
<text x="513" y="90.78" font-size="6.2" text-anchor="end" fill="#222">0.50</text>
<rect x="441.2" y="92.04" width="34.2" height="7.86" fill="#ff7373"/>
<rect x="475.4" y="92.04" width="38.5" height="7.86" fill="#ff4a4a"/>
<text x="413.3" y="98.79" font-size="6.5" font-weight="bold" fill="#000">CXCL5</text>
<text x="473.9" y="98.64" font-size="6.2" text-anchor="end" fill="#222">0.55</text>
<text x="513" y="98.64" font-size="6.2" text-anchor="end" fill="#222">0.71</text>
<rect x="441.2" y="99.9" width="34.2" height="7.86" fill="#ff7575"/>
<rect x="475.4" y="99.9" width="38.5" height="7.86" fill="#ff8080"/>
<text x="413.3" y="106.65" font-size="6.5" font-weight="bold" fill="#000">CXCL7</text>
<text x="473.9" y="106.5" font-size="6.2" text-anchor="end" fill="#222">0.54</text>
<text x="513" y="106.5" font-size="6.2" text-anchor="end" fill="#222">0.50</text>
<rect x="441.2" y="107.76" width="34.2" height="7.86" fill="#ff8585"/>
<rect x="475.4" y="107.76" width="38.5" height="7.86" fill="#ffa3a3"/>
<text x="413.3" y="114.51" font-size="6.5" font-weight="bold" fill="#000">EGF</text>
<text x="473.9" y="114.36" font-size="6.2" text-anchor="end" fill="#222">0.48</text>
<text x="513" y="114.36" font-size="6.2" text-anchor="end" fill="#222">0.36</text>
<rect x="441.2" y="115.62" width="34.2" height="7.86" fill="#ff8a8a"/>
<rect x="475.4" y="115.62" width="38.5" height="7.86" fill="#ffb5b5"/>
<text x="413.3" y="122.37" font-size="6.5" font-weight="bold" fill="#000">GMCSF</text>
<text x="473.9" y="122.22" font-size="6.2" text-anchor="end" fill="#222">0.46</text>
<text x="513" y="122.22" font-size="6.2" text-anchor="end" fill="#222">0.29</text>
<rect x="441.2" y="123.48" width="34.2" height="7.86" fill="#ffa3a3"/>
<rect x="475.4" y="123.48" width="38.5" height="7.86" fill="#ffdbdb"/>
<text x="413.3" y="130.23" font-size="6.5" font-weight="bold" fill="#000">CCL3</text>
<text x="473.9" y="130.08" font-size="6.2" text-anchor="end" fill="#222">0.36</text>
<text x="513" y="130.08" font-size="6.2" text-anchor="end" fill="#222">0.14</text>
<rect x="441.2" y="131.34" width="34.2" height="7.86" fill="#ffabab"/>
<rect x="475.4" y="131.34" width="38.5" height="7.86" fill="#ffe3e3"/>
<text x="413.3" y="138.09" font-size="6.5" font-weight="bold" fill="#000">CXCL10</text>
<text x="473.9" y="137.94" font-size="6.2" text-anchor="end" fill="#222">0.33</text>
<text x="513" y="137.94" font-size="6.2" text-anchor="end" fill="#222">0.11</text>
<rect x="441.2" y="139.2" width="34.2" height="7.86" fill="#ffbfbf"/>
<rect x="475.4" y="139.2" width="38.5" height="7.86" fill="#ffc9c9"/>
<text x="413.3" y="145.95" font-size="6.5" font-weight="bold" fill="#000">IL6</text>
<text x="473.9" y="145.8" font-size="6.2" text-anchor="end" fill="#222">0.25</text>
<text x="513" y="145.8" font-size="6.2" text-anchor="end" fill="#222">0.21</text>
<rect x="441.2" y="147.06" width="34.2" height="7.86" fill="#ffebeb"/>
<rect x="475.4" y="147.06" width="38.5" height="7.86" fill="#ffe3e3"/>
<text x="413.3" y="153.81" font-size="6.5" font-weight="bold" fill="#000">IL1b</text>
<text x="473.9" y="153.66" font-size="6.2" text-anchor="end" fill="#222">0.08</text>
<text x="513" y="153.66" font-size="6.2" text-anchor="end" fill="#222">0.11</text>
<rect x="441.2" y="154.92" width="34.2" height="7.86" fill="#ffeded"/>
<rect x="475.4" y="154.92" width="38.5" height="7.86" fill="#ffe3e3"/>
<text x="413.3" y="161.67" font-size="6.5" font-weight="bold" fill="#000">CXCL11</text>
<text x="473.9" y="161.52" font-size="6.2" text-anchor="end" fill="#222">0.07</text>
<text x="513" y="161.52" font-size="6.2" text-anchor="end" fill="#222">0.11</text>
<rect x="441.2" y="162.78" width="34.2" height="7.86" fill="#fff2f2"/>
<rect x="475.4" y="162.78" width="38.5" height="7.86" fill="#bfbfff"/>
<text x="413.3" y="169.53" font-size="6.5" font-weight="bold" fill="#000">CXCL6</text>
<text x="473.9" y="169.38" font-size="6.2" text-anchor="end" fill="#222">0.05</text>
<text x="513" y="169.38" font-size="6.2" text-anchor="end" fill="#222">-0.25</text>
<rect x="441.2" y="170.64" width="34.2" height="7.86" fill="#c9c9ff"/>
<rect x="475.4" y="170.64" width="38.5" height="7.86" fill="#b5b5ff"/>
<text x="413.3" y="177.39" font-size="6.5" font-weight="bold" fill="#000">IL1a</text>
<text x="473.9" y="177.24" font-size="6.2" text-anchor="end" fill="#222">-0.21</text>
<text x="513" y="177.24" font-size="6.2" text-anchor="end" fill="#222">-0.29</text>
<rect x="441.2" y="178.5" width="34.2" height="7.86" fill="#bfbfff"/>
<rect x="475.4" y="178.5" width="38.5" height="7.86" fill="#ffe3e3"/>
<text x="413.3" y="185.25" font-size="6.5" font-weight="bold" fill="#000">MIF</text>
<text x="473.9" y="185.1" font-size="6.2" text-anchor="end" fill="#222">-0.25</text>
<text x="513" y="185.1" font-size="6.2" text-anchor="end" fill="#222">0.11</text>
<rect x="441.2" y="186.36" width="34.2" height="7.86" fill="#6e6eff"/>
<rect x="475.4" y="186.36" width="38.5" height="7.86" fill="#7575ff"/>
<text x="413.3" y="193.11" font-size="6.5" font-weight="bold" fill="#000">CCL25</text>
<text x="473.9" y="192.96" font-size="6.2" text-anchor="end" fill="#222">-0.57</text>
<text x="513" y="192.96" font-size="6.2" text-anchor="end" fill="#222">-0.54</text>
<rect x="441.2" y="194.22" width="34.2" height="7.86" fill="#4545ff"/>
<rect x="475.4" y="194.22" width="38.5" height="7.86" fill="#4040ff"/>
<text x="413.3" y="200.97" font-size="6.5" font-weight="bold" fill="#000">VEGF</text>
<text x="473.9" y="200.82" font-size="6.2" text-anchor="end" fill="#222">-0.73</text>
<text x="513" y="200.82" font-size="6.2" text-anchor="end" fill="#222">-0.75</text>
<line x1="441.2" y1="68.46" x2="513.9" y2="68.46" stroke="#fff" stroke-width="0.5"/>
<line x1="441.2" y1="76.32" x2="513.9" y2="76.32" stroke="#fff" stroke-width="0.5"/>
<line x1="441.2" y1="84.18" x2="513.9" y2="84.18" stroke="#fff" stroke-width="0.5"/>
<line x1="441.2" y1="92.04" x2="513.9" y2="92.04" stroke="#fff" stroke-width="0.5"/>
<line x1="441.2" y1="99.9" x2="513.9" y2="99.9" stroke="#fff" stroke-width="0.5"/>
<line x1="441.2" y1="107.76" x2="513.9" y2="107.76" stroke="#fff" stroke-width="0.5"/>
<line x1="441.2" y1="115.62" x2="513.9" y2="115.62" stroke="#fff" stroke-width="0.5"/>
<line x1="441.2" y1="123.48" x2="513.9" y2="123.48" stroke="#fff" stroke-width="0.5"/>
<line x1="441.2" y1="131.34" x2="513.9" y2="131.34" stroke="#fff" stroke-width="0.5"/>
<line x1="441.2" y1="139.2" x2="513.9" y2="139.2" stroke="#fff" stroke-width="0.5"/>
<line x1="441.2" y1="147.06" x2="513.9" y2="147.06" stroke="#fff" stroke-width="0.5"/>
<line x1="441.2" y1="154.92" x2="513.9" y2="154.92" stroke="#fff" stroke-width="0.5"/>
<line x1="441.2" y1="162.78" x2="513.9" y2="162.78" stroke="#fff" stroke-width="0.5"/>
<line x1="441.2" y1="170.64" x2="513.9" y2="170.64" stroke="#fff" stroke-width="0.5"/>
<line x1="441.2" y1="178.5" x2="513.9" y2="178.5" stroke="#fff" stroke-width="0.5"/>
<line x1="441.2" y1="186.36" x2="513.9" y2="186.36" stroke="#fff" stroke-width="0.5"/>
<line x1="441.2" y1="194.22" x2="513.9" y2="194.22" stroke="#fff" stroke-width="0.5"/>
<line x1="475.4" y1="60.6" x2="475.4" y2="202.08" stroke="#fff" stroke-width="0.6"/>
<rect x="441.2" y="60.6" width="72.7" height="141.48" fill="none" stroke="#333" stroke-width="0.4"/>
<line x1="532.3" y1="129.1" x2="678.7" y2="129.1" stroke="#111" stroke-width="0.7"/>
<line x1="605.5" y1="74.1" x2="605.5" y2="184.1" stroke="#111" stroke-width="0.7"/>
<line x1="532.3" y1="129.1" x2="532.3" y2="130.9" stroke="#111" stroke-width="0.55"/>
<line x1="605.5" y1="184.1" x2="603.7" y2="184.1" stroke="#111" stroke-width="0.55"/>
<line x1="541.45" y1="129.1" x2="541.45" y2="130.1" stroke="#111" stroke-width="0.55"/>
<line x1="605.5" y1="177.22" x2="604.5" y2="177.22" stroke="#111" stroke-width="0.55"/>
<line x1="550.6" y1="129.1" x2="550.6" y2="130.9" stroke="#111" stroke-width="0.55"/>
<line x1="605.5" y1="170.35" x2="603.7" y2="170.35" stroke="#111" stroke-width="0.55"/>
<line x1="559.75" y1="129.1" x2="559.75" y2="130.1" stroke="#111" stroke-width="0.55"/>
<line x1="605.5" y1="163.47" x2="604.5" y2="163.47" stroke="#111" stroke-width="0.55"/>
<line x1="568.9" y1="129.1" x2="568.9" y2="130.9" stroke="#111" stroke-width="0.55"/>
<line x1="605.5" y1="156.6" x2="603.7" y2="156.6" stroke="#111" stroke-width="0.55"/>
<line x1="578.05" y1="129.1" x2="578.05" y2="130.1" stroke="#111" stroke-width="0.55"/>
<line x1="605.5" y1="149.72" x2="604.5" y2="149.72" stroke="#111" stroke-width="0.55"/>
<line x1="587.2" y1="129.1" x2="587.2" y2="130.9" stroke="#111" stroke-width="0.55"/>
<line x1="605.5" y1="142.85" x2="603.7" y2="142.85" stroke="#111" stroke-width="0.55"/>
<line x1="596.35" y1="129.1" x2="596.35" y2="130.1" stroke="#111" stroke-width="0.55"/>
<line x1="605.5" y1="135.97" x2="604.5" y2="135.97" stroke="#111" stroke-width="0.55"/>
<line x1="605.5" y1="129.1" x2="605.5" y2="130.9" stroke="#111" stroke-width="0.55"/>
<line x1="605.5" y1="129.1" x2="603.7" y2="129.1" stroke="#111" stroke-width="0.55"/>
<line x1="614.65" y1="129.1" x2="614.65" y2="130.1" stroke="#111" stroke-width="0.55"/>
<line x1="605.5" y1="122.22" x2="604.5" y2="122.22" stroke="#111" stroke-width="0.55"/>
<line x1="623.8" y1="129.1" x2="623.8" y2="130.9" stroke="#111" stroke-width="0.55"/>
<line x1="605.5" y1="115.35" x2="603.7" y2="115.35" stroke="#111" stroke-width="0.55"/>
<line x1="632.95" y1="129.1" x2="632.95" y2="130.1" stroke="#111" stroke-width="0.55"/>
<line x1="605.5" y1="108.47" x2="604.5" y2="108.47" stroke="#111" stroke-width="0.55"/>
<line x1="642.1" y1="129.1" x2="642.1" y2="130.9" stroke="#111" stroke-width="0.55"/>
<line x1="605.5" y1="101.6" x2="603.7" y2="101.6" stroke="#111" stroke-width="0.55"/>
<line x1="651.25" y1="129.1" x2="651.25" y2="130.1" stroke="#111" stroke-width="0.55"/>
<line x1="605.5" y1="94.72" x2="604.5" y2="94.72" stroke="#111" stroke-width="0.55"/>
<line x1="660.4" y1="129.1" x2="660.4" y2="130.9" stroke="#111" stroke-width="0.55"/>
<line x1="605.5" y1="87.85" x2="603.7" y2="87.85" stroke="#111" stroke-width="0.55"/>
<line x1="669.55" y1="129.1" x2="669.55" y2="130.1" stroke="#111" stroke-width="0.55"/>
<line x1="605.5" y1="80.97" x2="604.5" y2="80.97" stroke="#111" stroke-width="0.55"/>
<line x1="678.7" y1="129.1" x2="678.7" y2="130.9" stroke="#111" stroke-width="0.55"/>
<line x1="605.5" y1="74.1" x2="603.7" y2="74.1" stroke="#111" stroke-width="0.55"/>
<text x="532.7" y="137" font-size="5.3" text-anchor="middle" fill="#000">-4</text>
<text x="551" y="137" font-size="5.3" text-anchor="middle" fill="#000">-3</text>
<text x="569.3" y="137" font-size="5.3" text-anchor="middle" fill="#000">-2</text>
<text x="623.8" y="137" font-size="5.3" text-anchor="middle" fill="#000">1</text>
<text x="642.1" y="137" font-size="5.3" text-anchor="middle" fill="#000">2</text>
<text x="660.4" y="137" font-size="5.3" text-anchor="middle" fill="#000">3</text>
<text x="678.7" y="137" font-size="5.3" text-anchor="middle" fill="#000">4</text>
<text x="603.2" y="76" font-size="5.3" text-anchor="end" fill="#000">4</text>
<text x="603.2" y="89.75" font-size="5.3" text-anchor="end" fill="#000">3</text>
<text x="603.2" y="103.5" font-size="5.3" text-anchor="end" fill="#000">2</text>
<text x="603.2" y="117.25" font-size="5.3" text-anchor="end" fill="#000">1</text>
<text x="603.2" y="144.75" font-size="5.3" text-anchor="end" fill="#000">-1</text>
<text x="603.2" y="158.5" font-size="5.3" text-anchor="end" fill="#000">-2</text>
<text x="603.2" y="172.25" font-size="5.3" text-anchor="end" fill="#000">-3</text>
<text x="603.2" y="186" font-size="5.3" text-anchor="end" fill="#000">-4</text>
<line x1="561.9" y1="149" x2="668.7" y2="99.9" stroke="#000" stroke-width="0.55"/>
<line x1="561.9" y1="145" x2="668.7" y2="105" stroke="#f00" stroke-width="0.55"/>
<line x1="561.9" y1="145.5" x2="668.7" y2="105.6" stroke="#0c0" stroke-width="0.55"/>
<line x1="561.9" y1="143.7" x2="668.7" y2="108" stroke="#00f" stroke-width="0.55"/>
<line x1="561.9" y1="143.2" x2="668.7" y2="108.4" stroke="#0ee" stroke-width="0.55"/>
<line x1="561.9" y1="142.3" x2="668.7" y2="109.4" stroke="#f0f" stroke-width="0.55"/>
<circle cx="610.3" cy="89.7" r="1.75" fill="#0ff"/>
<circle cx="610.3" cy="105" r="1.75" fill="#00f"/>
<circle cx="610.3" cy="110" r="1.75" fill="#000"/>
<circle cx="610.3" cy="111.3" r="1.75" fill="#f00"/>
<circle cx="610.3" cy="115" r="1.75" fill="#f0f"/>
<circle cx="610.3" cy="123.4" r="1.75" fill="#0f0"/>
<circle cx="647" cy="94" r="1.75" fill="#0f0"/>
<circle cx="647" cy="101.3" r="1.75" fill="#000"/>
<circle cx="647" cy="102.7" r="1.75" fill="#f00"/>
<circle cx="647" cy="105.2" r="1.75" fill="#00f"/>
<circle cx="647" cy="106.2" r="1.75" fill="#f0f"/>
<circle cx="647" cy="109.9" r="1.75" fill="#0ff"/>
<circle cx="668.5" cy="112.5" r="1.75" fill="#000"/>
<circle cx="668.5" cy="120.2" r="1.75" fill="#f00"/>
<circle cx="668.5" cy="121.4" r="1.75" fill="#0f0"/>
<circle cx="668.5" cy="124.1" r="1.75" fill="#00f"/>
<circle cx="668.5" cy="126.5" r="1.75" fill="#f0f"/>
<circle cx="668.5" cy="128.6" r="1.75" fill="#0ff"/>
<circle cx="580.7" cy="120.4" r="1.75" fill="#f00"/>
<circle cx="580.7" cy="118.6" r="1.75" fill="#00f"/>
<circle cx="580.7" cy="117.2" r="1.75" fill="#f0f"/>
<circle cx="580.7" cy="114.9" r="1.75" fill="#0f0"/>
<circle cx="580.7" cy="131.7" r="1.75" fill="#000"/>
<circle cx="586.6" cy="119.2" r="1.75" fill="#f0f"/>
<circle cx="586.6" cy="128" r="1.75" fill="#0ff"/>
<circle cx="586.6" cy="135.5" r="1.75" fill="#000"/>
<circle cx="586.6" cy="133.2" r="1.75" fill="#f00"/>
<circle cx="586.6" cy="138.8" r="1.75" fill="#00f"/>
<circle cx="581" cy="142.5" r="1.75" fill="#0ff"/>
<circle cx="582.7" cy="144.8" r="1.75" fill="#0ff"/>
<circle cx="562.2" cy="164.3" r="1.75" fill="#f0f"/>
<circle cx="562.2" cy="159.8" r="1.75" fill="#0ff"/>
<circle cx="562.2" cy="155.6" r="1.75" fill="#000"/>
<circle cx="562.2" cy="153.6" r="1.75" fill="#00f"/>
<circle cx="562.2" cy="151.3" r="1.75" fill="#0f0"/>
<circle cx="582.7" cy="158.3" r="1.75" fill="#00f"/>
<circle cx="582.7" cy="157.4" r="1.75" fill="#00f"/>
<circle cx="582.7" cy="153.2" r="1.75" fill="#f00"/>
<circle cx="582.7" cy="154.6" r="1.75" fill="#f0f"/>
<text x="608.4" y="86.6" font-size="5.2" fill="#222">Cal 27</text>
<text x="637.8" y="91.5" font-size="5.2" fill="#222">Cal 33</text>
<text x="651.3" y="119.4" font-size="5.2" fill="#222">UPCISCC 040</text>
<text x="558.2" y="112" font-size="5.2" fill="#222">UPCISCC 131</text>
<text x="544.6" y="117.2" font-size="5.2" fill="#222">UPCISCC 154</text>
<text x="568.2" y="164.9" font-size="5.2" fill="#222">UPCISCC 099</text>
<text x="549.8" y="172.3" font-size="5.2" fill="#222">UDSCC 2</text>
<circle cx="534.6" cy="63.4" r="2.0" fill="#000"/>
<text x="539.2" y="64.9" font-size="4.1" fill="#222">CXCL8</text>
<circle cx="534.6" cy="68.35" r="2.0" fill="#f00"/>
<text x="539.2" y="69.85" font-size="4.1" fill="#222">CXCL3</text>
<circle cx="534.6" cy="73.3" r="2.0" fill="#0f0"/>
<text x="539.2" y="74.8" font-size="4.1" fill="#222">CXCL1</text>
<circle cx="534.6" cy="78.25" r="2.0" fill="#00f"/>
<text x="539.2" y="79.75" font-size="4.1" fill="#222">CXCL2</text>
<circle cx="534.6" cy="83.2" r="2.0" fill="#0ff"/>
<text x="539.2" y="84.7" font-size="4.1" fill="#222">CXCL5</text>
<circle cx="534.6" cy="88.15" r="2.0" fill="#f0f"/>
<text x="539.2" y="89.65" font-size="4.1" fill="#222">CXCL7</text>
<text x="572.7" y="193.1" font-size="6.5" font-weight="bold" fill="#000">PC1 of Radioresistance</text>
<text transform="translate(526.6,170.3) rotate(-90)" font-size="6.58" font-weight="bold">PC1 of CXCL Induction</text>
<text x="18.2" y="262.7" font-size="16.4" font-weight="bold" fill="#000" transform="translate(1.4,0) scale(0.93,1)">C</text>
<rect x="32.1" y="264.1" width="164.4" height="170" fill="#f0f0f0"/>
<rect x="52.3" y="274.3" width="142" height="132" fill="#fff"/>
<text x="44.2" y="272.4" font-size="6.6" font-weight="bold" fill="#111">Enrichment plot: KEGG_RNA_POLYMERASE</text>
<line x1="52.3" y1="282.4" x2="194.3" y2="282.4" stroke="#ececec" stroke-width="0.4"/>
<text x="50.3" y="283.9" font-size="4.1" text-anchor="end" fill="#333">0.0</text>
<line x1="51.1" y1="282.4" x2="52.3" y2="282.4" stroke="#999" stroke-width="0.4"/>
<line x1="52.3" y1="291.4" x2="194.3" y2="291.4" stroke="#ececec" stroke-width="0.4"/>
<text x="50.3" y="292.9" font-size="4.1" text-anchor="end" fill="#333">-0.1</text>
<line x1="51.1" y1="291.4" x2="52.3" y2="291.4" stroke="#999" stroke-width="0.4"/>
<line x1="52.3" y1="300.3" x2="194.3" y2="300.3" stroke="#ececec" stroke-width="0.4"/>
<text x="50.3" y="301.8" font-size="4.1" text-anchor="end" fill="#333">-0.2</text>
<line x1="51.1" y1="300.3" x2="52.3" y2="300.3" stroke="#999" stroke-width="0.4"/>
<line x1="52.3" y1="309.2" x2="194.3" y2="309.2" stroke="#ececec" stroke-width="0.4"/>
<text x="50.3" y="310.7" font-size="4.1" text-anchor="end" fill="#333">-0.3</text>
<line x1="51.1" y1="309.2" x2="52.3" y2="309.2" stroke="#999" stroke-width="0.4"/>
<line x1="52.3" y1="318" x2="194.3" y2="318" stroke="#ececec" stroke-width="0.4"/>
<text x="50.3" y="319.5" font-size="4.1" text-anchor="end" fill="#333">-0.4</text>
<line x1="51.1" y1="318" x2="52.3" y2="318" stroke="#999" stroke-width="0.4"/>
<line x1="52.3" y1="326.8" x2="194.3" y2="326.8" stroke="#ececec" stroke-width="0.4"/>
<text x="50.3" y="328.3" font-size="4.1" text-anchor="end" fill="#333">-0.5</text>
<line x1="51.1" y1="326.8" x2="52.3" y2="326.8" stroke="#999" stroke-width="0.4"/>
<line x1="52.3" y1="335.7" x2="194.3" y2="335.7" stroke="#ececec" stroke-width="0.4"/>
<text x="50.3" y="337.2" font-size="4.1" text-anchor="end" fill="#333">-0.6</text>
<line x1="51.1" y1="335.7" x2="52.3" y2="335.7" stroke="#999" stroke-width="0.4"/>
<line x1="52.3" y1="282.4" x2="194.3" y2="282.4" stroke="#c8c8c8" stroke-width="0.6"/>
<line x1="73.07" y1="274.3" x2="73.07" y2="337.5" stroke="#ececec" stroke-width="0.4"/>
<line x1="73.07" y1="366.5" x2="73.07" y2="406.2" stroke="#ececec" stroke-width="0.4" stroke-dasharray="0.8,0.8"/>
<line x1="93.84" y1="274.3" x2="93.84" y2="337.5" stroke="#ececec" stroke-width="0.4"/>
<line x1="93.84" y1="366.5" x2="93.84" y2="406.2" stroke="#ececec" stroke-width="0.4" stroke-dasharray="0.8,0.8"/>
<line x1="114.61" y1="274.3" x2="114.61" y2="337.5" stroke="#ececec" stroke-width="0.4"/>
<line x1="114.61" y1="366.5" x2="114.61" y2="406.2" stroke="#ececec" stroke-width="0.4" stroke-dasharray="0.8,0.8"/>
<line x1="135.38" y1="274.3" x2="135.38" y2="337.5" stroke="#ececec" stroke-width="0.4"/>
<line x1="135.38" y1="366.5" x2="135.38" y2="406.2" stroke="#ececec" stroke-width="0.4" stroke-dasharray="0.8,0.8"/>
<line x1="156.15" y1="274.3" x2="156.15" y2="337.5" stroke="#ececec" stroke-width="0.4"/>
<line x1="156.15" y1="366.5" x2="156.15" y2="406.2" stroke="#ececec" stroke-width="0.4" stroke-dasharray="0.8,0.8"/>
<line x1="176.92" y1="274.3" x2="176.92" y2="337.5" stroke="#ececec" stroke-width="0.4"/>
<line x1="176.92" y1="366.5" x2="176.92" y2="406.2" stroke="#ececec" stroke-width="0.4" stroke-dasharray="0.8,0.8"/>
<line x1="52.3" y1="274.3" x2="52.3" y2="406.2" stroke="#aaa" stroke-width="0.5"/>
<line x1="194.3" y1="274.3" x2="194.3" y2="406.2" stroke="#ccc" stroke-width="0.4"/>
<line x1="52.3" y1="337.5" x2="194.3" y2="337.5" stroke="#bbb" stroke-width="0.5"/>
<line x1="52.3" y1="406.2" x2="194.3" y2="406.2" stroke="#aaa" stroke-width="0.5"/>
<text transform="translate(41,305.6) rotate(-90)" font-size="5.0" text-anchor="middle" fill="#333">Enrichment score (ES)</text>
<text transform="translate(41.2,384.8) rotate(-90)" font-size="4.1" text-anchor="middle" fill="#333" stroke="#333" stroke-width="0.1">Ranked list metric (Signal2Noise)</text>
<line x1="82.4" y1="337.6" x2="82.4" y2="358.6" stroke="#3a3a3a" stroke-width="0.6"/>
<line x1="99.3" y1="337.6" x2="99.3" y2="358.6" stroke="#3a3a3a" stroke-width="0.6"/>
<line x1="118.4" y1="337.6" x2="118.4" y2="358.6" stroke="#3a3a3a" stroke-width="0.6"/>
<line x1="121.5" y1="337.6" x2="121.5" y2="358.6" stroke="#3a3a3a" stroke-width="0.6"/>
<line x1="122.4" y1="337.6" x2="122.4" y2="358.6" stroke="#3a3a3a" stroke-width="0.6"/>
<line x1="123" y1="337.6" x2="123" y2="358.6" stroke="#3a3a3a" stroke-width="0.6"/>
<line x1="125.3" y1="337.6" x2="125.3" y2="358.6" stroke="#3a3a3a" stroke-width="0.6"/>
<line x1="140.4" y1="337.6" x2="140.4" y2="358.6" stroke="#3a3a3a" stroke-width="0.6"/>
<line x1="143.3" y1="337.6" x2="143.3" y2="358.6" stroke="#3a3a3a" stroke-width="0.6"/>
<line x1="144.1" y1="337.6" x2="144.1" y2="358.6" stroke="#3a3a3a" stroke-width="0.6"/>
<line x1="148.2" y1="337.6" x2="148.2" y2="358.6" stroke="#3a3a3a" stroke-width="0.6"/>
<line x1="149.5" y1="337.6" x2="149.5" y2="358.6" stroke="#3a3a3a" stroke-width="0.6"/>
<line x1="150.9" y1="337.6" x2="150.9" y2="358.6" stroke="#3a3a3a" stroke-width="0.6"/>
<line x1="155.7" y1="337.6" x2="155.7" y2="358.6" stroke="#3a3a3a" stroke-width="0.6"/>
<line x1="156.9" y1="337.6" x2="156.9" y2="358.6" stroke="#3a3a3a" stroke-width="0.6"/>
<line x1="159.6" y1="337.6" x2="159.6" y2="358.6" stroke="#3a3a3a" stroke-width="0.6"/>
<line x1="163.7" y1="337.6" x2="163.7" y2="358.6" stroke="#3a3a3a" stroke-width="0.6"/>
<line x1="171.4" y1="337.6" x2="171.4" y2="358.6" stroke="#3a3a3a" stroke-width="0.6"/>
<line x1="172" y1="337.6" x2="172" y2="358.6" stroke="#3a3a3a" stroke-width="0.6"/>
<line x1="175.4" y1="337.6" x2="175.4" y2="358.6" stroke="#3a3a3a" stroke-width="0.6"/>
<line x1="176.4" y1="337.6" x2="176.4" y2="358.6" stroke="#3a3a3a" stroke-width="0.6"/>
<line x1="177" y1="337.6" x2="177" y2="358.6" stroke="#3a3a3a" stroke-width="0.6"/>
<line x1="177.6" y1="337.6" x2="177.6" y2="358.6" stroke="#3a3a3a" stroke-width="0.6"/>
<line x1="178.2" y1="337.6" x2="178.2" y2="358.6" stroke="#3a3a3a" stroke-width="0.6"/>
<rect x="52.3" y="358.5" width="3.56" height="5.3" fill="#e83040"/>
<rect x="55.81" y="358.5" width="20.43" height="5.3" fill="#ff4a4a"/>
<rect x="76.19" y="358.5" width="9.77" height="5.3" fill="#f86272"/>
<rect x="85.91" y="358.5" width="15.3" height="5.3" fill="#ff7f7f"/>
<rect x="101.17" y="358.5" width="19.09" height="5.3" fill="#ffb9e1"/>
<rect x="120.2" y="358.5" width="16.93" height="5.3" fill="#d4d4fc"/>
<rect x="137.08" y="358.5" width="14.22" height="5.3" fill="#c4c4fa"/>
<rect x="151.25" y="358.5" width="11.66" height="5.3" fill="#8484f8"/>
<rect x="162.87" y="358.5" width="18.95" height="5.3" fill="#5a5af0"/>
<rect x="181.76" y="358.5" width="5.59" height="5.3" fill="#2212d0"/>
<line x1="82.4" y1="358.5" x2="82.4" y2="363.8" stroke="#000" stroke-width="0.5" stroke-opacity="0.12"/>
<line x1="99.3" y1="358.5" x2="99.3" y2="363.8" stroke="#000" stroke-width="0.5" stroke-opacity="0.12"/>
<line x1="118.4" y1="358.5" x2="118.4" y2="363.8" stroke="#000" stroke-width="0.5" stroke-opacity="0.12"/>
<line x1="121.5" y1="358.5" x2="121.5" y2="363.8" stroke="#000" stroke-width="0.5" stroke-opacity="0.12"/>
<line x1="122.4" y1="358.5" x2="122.4" y2="363.8" stroke="#000" stroke-width="0.5" stroke-opacity="0.12"/>
<line x1="123" y1="358.5" x2="123" y2="363.8" stroke="#000" stroke-width="0.5" stroke-opacity="0.12"/>
<line x1="125.3" y1="358.5" x2="125.3" y2="363.8" stroke="#000" stroke-width="0.5" stroke-opacity="0.12"/>
<line x1="140.4" y1="358.5" x2="140.4" y2="363.8" stroke="#000" stroke-width="0.5" stroke-opacity="0.12"/>
<line x1="143.3" y1="358.5" x2="143.3" y2="363.8" stroke="#000" stroke-width="0.5" stroke-opacity="0.12"/>
<line x1="144.1" y1="358.5" x2="144.1" y2="363.8" stroke="#000" stroke-width="0.5" stroke-opacity="0.12"/>
<line x1="148.2" y1="358.5" x2="148.2" y2="363.8" stroke="#000" stroke-width="0.5" stroke-opacity="0.12"/>
<line x1="149.5" y1="358.5" x2="149.5" y2="363.8" stroke="#000" stroke-width="0.5" stroke-opacity="0.12"/>
<line x1="150.9" y1="358.5" x2="150.9" y2="363.8" stroke="#000" stroke-width="0.5" stroke-opacity="0.12"/>
<line x1="155.7" y1="358.5" x2="155.7" y2="363.8" stroke="#000" stroke-width="0.5" stroke-opacity="0.12"/>
<line x1="156.9" y1="358.5" x2="156.9" y2="363.8" stroke="#000" stroke-width="0.5" stroke-opacity="0.12"/>
<line x1="159.6" y1="358.5" x2="159.6" y2="363.8" stroke="#000" stroke-width="0.5" stroke-opacity="0.12"/>
<line x1="163.7" y1="358.5" x2="163.7" y2="363.8" stroke="#000" stroke-width="0.5" stroke-opacity="0.12"/>
<line x1="171.4" y1="358.5" x2="171.4" y2="363.8" stroke="#000" stroke-width="0.5" stroke-opacity="0.12"/>
<line x1="172" y1="358.5" x2="172" y2="363.8" stroke="#000" stroke-width="0.5" stroke-opacity="0.12"/>
<line x1="175.4" y1="358.5" x2="175.4" y2="363.8" stroke="#000" stroke-width="0.5" stroke-opacity="0.12"/>
<line x1="176.4" y1="358.5" x2="176.4" y2="363.8" stroke="#000" stroke-width="0.5" stroke-opacity="0.12"/>
<line x1="177" y1="358.5" x2="177" y2="363.8" stroke="#000" stroke-width="0.5" stroke-opacity="0.12"/>
<line x1="177.6" y1="358.5" x2="177.6" y2="363.8" stroke="#000" stroke-width="0.5" stroke-opacity="0.12"/>
<line x1="178.2" y1="358.5" x2="178.2" y2="363.8" stroke="#000" stroke-width="0.5" stroke-opacity="0.12"/>
<text x="53.4" y="366.9" font-size="3.37" fill="#f22">"SASP" (positively correlated)</text>
<line x1="119.8" y1="358.5" x2="119.8" y2="406.2" stroke="#aaa" stroke-width="0.4" stroke-dasharray="0.8,0.8"/>
<text x="50" y="372.5" font-size="3.9" text-anchor="end" fill="#444">1.0</text>
<line x1="51.1" y1="371.1" x2="52.3" y2="371.1" stroke="#999" stroke-width="0.4"/>
<line x1="52.3" y1="371.1" x2="194.3" y2="371.1" stroke="#e4e4e4" stroke-width="0.4" stroke-dasharray="0.8,0.8"/>
<text x="50" y="381.2" font-size="3.9" text-anchor="end" fill="#444">0.5</text>
<line x1="51.1" y1="379.8" x2="52.3" y2="379.8" stroke="#999" stroke-width="0.4"/>
<line x1="52.3" y1="379.8" x2="194.3" y2="379.8" stroke="#e4e4e4" stroke-width="0.4" stroke-dasharray="0.8,0.8"/>
<text x="50" y="390" font-size="3.9" text-anchor="end" fill="#444">0.0</text>
<line x1="51.1" y1="388.6" x2="52.3" y2="388.6" stroke="#999" stroke-width="0.4"/>
<text x="50" y="398.6" font-size="3.9" text-anchor="end" fill="#444">-0.5</text>
<line x1="51.1" y1="397.2" x2="52.3" y2="397.2" stroke="#999" stroke-width="0.4"/>
<line x1="52.3" y1="397.2" x2="194.3" y2="397.2" stroke="#e4e4e4" stroke-width="0.4" stroke-dasharray="0.8,0.8"/>
<text x="50" y="407.3" font-size="3.9" text-anchor="end" fill="#444">-1.0</text>
<line x1="51.1" y1="405.9" x2="52.3" y2="405.9" stroke="#999" stroke-width="0.4"/>
<path d="M52.3,388.6 L52.3,376.8 L52.97,379.2 L54.32,380.8 L57.29,382.8 L62.29,384.3 L72.28,385.5 L85.24,386.5 L99.55,387.2 L113.05,387.9 L119.8,388.4 L119.8,388.6 Z" fill="#bdbdbd"/>
<path d="M119.8,388.5 L119.8,388.8 L133.3,389.4 L150.85,390.1 L167.05,391.3 L177.85,392.5 L183.25,394.6 L185.95,397.8 L187.03,403.9 L187.84,404.3 L187.84,388.5 Z" fill="#bdbdbd"/>
<text x="107.5" y="386.1" font-size="3.1" fill="#222">Zero cross at 6571</text>
<text x="123.85" y="404.9" font-size="3.55" fill="#33f">Non-SASP (negatively correlated)</text>
<text x="52.3" y="411.9" font-size="3.9" text-anchor="middle" fill="#333">0</text>
<text x="73.07" y="411.9" font-size="3.9" text-anchor="middle" fill="#333">2,000</text>
<text x="93.84" y="411.9" font-size="3.9" text-anchor="middle" fill="#333">4,000</text>
<text x="114.61" y="411.9" font-size="3.9" text-anchor="middle" fill="#333">6,000</text>
<text x="135.38" y="411.9" font-size="3.9" text-anchor="middle" fill="#333">8,000</text>
<text x="156.15" y="411.9" font-size="3.9" text-anchor="middle" fill="#333">10,000</text>
<text x="176.92" y="411.9" font-size="3.9" text-anchor="middle" fill="#333">12,000</text>
<text x="123.3" y="416.9" font-size="4.1" text-anchor="middle" fill="#222">Rank in Ordered Dataset</text>
<rect x="57.3" y="421" width="112.3" height="5.9" fill="#fff" stroke="#999" stroke-width="0.5"/>
<line x1="58.2" y1="424.5" x2="63.1" y2="424.5" stroke="#0f0" stroke-width="0.8"/>
<text x="63.7" y="426" font-size="4.1" fill="#222">Enrichment profile</text>
<line x1="98.9" y1="424.5" x2="103.8" y2="424.5" stroke="#333" stroke-width="0.6"/>
<text x="104.7" y="426" font-size="4.1" fill="#222">Hits</text>
<line x1="122.1" y1="424.5" x2="126.6" y2="424.5" stroke="#bbb" stroke-width="0.6"/>
<text x="127.5" y="426" font-size="4.1" fill="#222">Ranking metric scores</text>
<path d="M52.3,282.3 L82.1,301.6 L82.6,298.6 L98.9,309.2 L99.4,307.9 L118.4,320.3 L125.3,324.4 L140.4,333.2 L141.6,333.5 L143.5,330.2 L145.3,331.2 L147.7,329 L149.6,327.8 L150.5,328.7 L152.4,323.2 L155.3,324.8 L156.8,318.8 L158.4,319.6 L160,318 L162.7,320.4 L164.8,312.9 L170.6,316.6 L172.2,307.7 L175.4,309.8 L176.5,302.2 L177,296.5 L177.7,290.2 L178.5,283.1 L179,276.8 L187.4,282.3" fill="none" stroke="#0f0" stroke-width="1.05" stroke-linejoin="round"/>
<text x="56.4" y="329" font-size="4.9" fill="#111">NES= -1.93</text>
<text x="56.4" y="334.8" font-size="4.9" fill="#111">FDR q-value= 0.018</text>
<text x="176.5" y="311.5" font-size="3.2" fill="#222">POLR2F</text>
<text x="176.5" y="315.3" font-size="3.2" fill="#222">POLR3E</text>
<text x="176.5" y="319.1" font-size="3.2" fill="#222">POLR3G</text>
<text x="176.5" y="322.9" font-size="3.2" fill="#222">POLR3C</text>
<text x="176.5" y="326.7" font-size="3.2" fill="#222">POLR3L</text>
<text x="158.4" y="322.8" font-size="3.2" fill="#222">POLR2B</text>
<text x="158.4" y="326.5" font-size="3.2" fill="#222">POLR3D</text>
<text x="163.8" y="330.1" font-size="3.2" fill="#222">POLR2I</text>
<text x="163.8" y="333.6" font-size="3.2" fill="#222">POLR2A</text>
<line x1="163.3" y1="327.9" x2="163.3" y2="337.6" stroke="#333" stroke-width="0.45"/>
<line x1="162.5" y1="336" x2="164.1" y2="336" stroke="#333" stroke-width="0.35"/>
<line x1="171.4" y1="335.2" x2="171.4" y2="337.6" stroke="#333" stroke-width="0.45"/>
<line x1="170.6" y1="336" x2="172.2" y2="336" stroke="#333" stroke-width="0.35"/>
<line x1="177.1" y1="327" x2="177.1" y2="337.6" stroke="#333" stroke-width="0.45"/>
<line x1="176.3" y1="336" x2="177.9" y2="336" stroke="#333" stroke-width="0.35"/>
<rect x="254.2" y="264.1" width="164.5" height="170" fill="#f0f0f0"/>
<rect x="276.5" y="274.3" width="140.3" height="132" fill="#fff"/>
<text x="280.6" y="272.4" font-size="6.6" font-weight="bold" fill="#111">Enrichment plot: KEGG_SPLICEOSOME</text>
<line x1="276.5" y1="278" x2="416.8" y2="278" stroke="#ececec" stroke-width="0.4"/>
<text x="274.5" y="279.5" font-size="4.35" text-anchor="end" fill="#333">0.00</text>
<line x1="275.3" y1="278" x2="276.5" y2="278" stroke="#999" stroke-width="0.4"/>
<line x1="276.5" y1="286.2" x2="416.8" y2="286.2" stroke="#ececec" stroke-width="0.4"/>
<text x="274.5" y="287.7" font-size="4.35" text-anchor="end" fill="#333">-0.05</text>
<line x1="275.3" y1="286.2" x2="276.5" y2="286.2" stroke="#999" stroke-width="0.4"/>
<line x1="276.5" y1="294.5" x2="416.8" y2="294.5" stroke="#ececec" stroke-width="0.4"/>
<text x="274.5" y="296" font-size="4.35" text-anchor="end" fill="#333">-0.10</text>
<line x1="275.3" y1="294.5" x2="276.5" y2="294.5" stroke="#999" stroke-width="0.4"/>
<line x1="276.5" y1="302.7" x2="416.8" y2="302.7" stroke="#ececec" stroke-width="0.4"/>
<text x="274.5" y="304.2" font-size="4.35" text-anchor="end" fill="#333">-0.15</text>
<line x1="275.3" y1="302.7" x2="276.5" y2="302.7" stroke="#999" stroke-width="0.4"/>
<line x1="276.5" y1="310.9" x2="416.8" y2="310.9" stroke="#ececec" stroke-width="0.4"/>
<text x="274.5" y="312.4" font-size="4.35" text-anchor="end" fill="#333">-0.20</text>
<line x1="275.3" y1="310.9" x2="276.5" y2="310.9" stroke="#999" stroke-width="0.4"/>
<line x1="276.5" y1="319.1" x2="416.8" y2="319.1" stroke="#ececec" stroke-width="0.4"/>
<text x="274.5" y="320.6" font-size="4.35" text-anchor="end" fill="#333">-0.25</text>
<line x1="275.3" y1="319.1" x2="276.5" y2="319.1" stroke="#999" stroke-width="0.4"/>
<line x1="276.5" y1="327.4" x2="416.8" y2="327.4" stroke="#ececec" stroke-width="0.4"/>
<text x="274.5" y="328.9" font-size="4.35" text-anchor="end" fill="#333">-0.30</text>
<line x1="275.3" y1="327.4" x2="276.5" y2="327.4" stroke="#999" stroke-width="0.4"/>
<line x1="276.5" y1="335.6" x2="416.8" y2="335.6" stroke="#ececec" stroke-width="0.4"/>
<text x="274.5" y="337.1" font-size="4.35" text-anchor="end" fill="#333">-0.35</text>
<line x1="275.3" y1="335.6" x2="276.5" y2="335.6" stroke="#999" stroke-width="0.4"/>
<line x1="276.5" y1="278" x2="416.8" y2="278" stroke="#c8c8c8" stroke-width="0.6"/>
<line x1="296.96" y1="274.3" x2="296.96" y2="337.5" stroke="#ececec" stroke-width="0.4"/>
<line x1="296.96" y1="366.5" x2="296.96" y2="406.2" stroke="#ececec" stroke-width="0.4" stroke-dasharray="0.8,0.8"/>
<line x1="317.42" y1="274.3" x2="317.42" y2="337.5" stroke="#ececec" stroke-width="0.4"/>
<line x1="317.42" y1="366.5" x2="317.42" y2="406.2" stroke="#ececec" stroke-width="0.4" stroke-dasharray="0.8,0.8"/>
<line x1="337.88" y1="274.3" x2="337.88" y2="337.5" stroke="#ececec" stroke-width="0.4"/>
<line x1="337.88" y1="366.5" x2="337.88" y2="406.2" stroke="#ececec" stroke-width="0.4" stroke-dasharray="0.8,0.8"/>
<line x1="358.35" y1="274.3" x2="358.35" y2="337.5" stroke="#ececec" stroke-width="0.4"/>
<line x1="358.35" y1="366.5" x2="358.35" y2="406.2" stroke="#ececec" stroke-width="0.4" stroke-dasharray="0.8,0.8"/>
<line x1="378.81" y1="274.3" x2="378.81" y2="337.5" stroke="#ececec" stroke-width="0.4"/>
<line x1="378.81" y1="366.5" x2="378.81" y2="406.2" stroke="#ececec" stroke-width="0.4" stroke-dasharray="0.8,0.8"/>
<line x1="399.27" y1="274.3" x2="399.27" y2="337.5" stroke="#ececec" stroke-width="0.4"/>
<line x1="399.27" y1="366.5" x2="399.27" y2="406.2" stroke="#ececec" stroke-width="0.4" stroke-dasharray="0.8,0.8"/>
<line x1="276.5" y1="274.3" x2="276.5" y2="406.2" stroke="#aaa" stroke-width="0.5"/>
<line x1="416.8" y1="274.3" x2="416.8" y2="406.2" stroke="#ccc" stroke-width="0.4"/>
<line x1="276.5" y1="337.5" x2="416.8" y2="337.5" stroke="#bbb" stroke-width="0.5"/>
<line x1="276.5" y1="406.2" x2="416.8" y2="406.2" stroke="#aaa" stroke-width="0.5"/>
<text transform="translate(263.1,305.6) rotate(-90)" font-size="5.0" text-anchor="middle" fill="#333">Enrichment score (ES)</text>
<text transform="translate(266.9,384.8) rotate(-90)" font-size="4.1" text-anchor="middle" fill="#333" stroke="#333" stroke-width="0.1">Ranked list metric (Signal2Noise)</text>
<line x1="299.12" y1="337.6" x2="299.12" y2="358.6" stroke="#2a2a2a" stroke-width="0.6"/>
<line x1="303.94" y1="337.6" x2="303.94" y2="358.6" stroke="#2a2a2a" stroke-width="0.6"/>
<line x1="305.47" y1="337.6" x2="305.47" y2="358.6" stroke="#2a2a2a" stroke-width="0.6"/>
<line x1="311.6" y1="337.6" x2="311.6" y2="358.6" stroke="#2a2a2a" stroke-width="0.6"/>
<line x1="317.08" y1="337.6" x2="317.08" y2="358.6" stroke="#2a2a2a" stroke-width="0.6"/>
<line x1="322.55" y1="337.6" x2="322.55" y2="358.6" stroke="#2a2a2a" stroke-width="0.6"/>
<line x1="325.84" y1="337.6" x2="325.84" y2="358.6" stroke="#2a2a2a" stroke-width="0.6"/>
<line x1="327.37" y1="337.6" x2="327.37" y2="358.6" stroke="#2a2a2a" stroke-width="0.6"/>
<line x1="328.68" y1="337.6" x2="328.68" y2="358.6" stroke="#2a2a2a" stroke-width="0.6"/>
<line x1="330.21" y1="337.6" x2="330.21" y2="358.6" stroke="#2a2a2a" stroke-width="0.6"/>
<line x1="331.97" y1="337.6" x2="331.97" y2="358.6" stroke="#2a2a2a" stroke-width="0.6"/>
<line x1="333.5" y1="337.6" x2="333.5" y2="358.6" stroke="#2a2a2a" stroke-width="0.6"/>
<line x1="335.69" y1="337.6" x2="335.69" y2="358.6" stroke="#000" stroke-width="0.6"/>
<line x1="336.78" y1="337.6" x2="336.78" y2="358.6" stroke="#000" stroke-width="0.6"/>
<line x1="337.88" y1="337.6" x2="337.88" y2="358.6" stroke="#2a2a2a" stroke-width="0.6"/>
<line x1="339.63" y1="337.6" x2="339.63" y2="358.6" stroke="#2a2a2a" stroke-width="0.6"/>
<line x1="341.16" y1="337.6" x2="341.16" y2="358.6" stroke="#2a2a2a" stroke-width="0.6"/>
<line x1="342.91" y1="337.6" x2="342.91" y2="358.6" stroke="#2a2a2a" stroke-width="0.6"/>
<line x1="345.54" y1="337.6" x2="345.54" y2="358.6" stroke="#2a2a2a" stroke-width="0.6"/>
<line x1="347.07" y1="337.6" x2="347.07" y2="358.6" stroke="#2a2a2a" stroke-width="0.6"/>
<line x1="348.83" y1="337.6" x2="348.83" y2="358.6" stroke="#2a2a2a" stroke-width="0.6"/>
<line x1="350.58" y1="337.6" x2="350.58" y2="358.6" stroke="#2a2a2a" stroke-width="0.6"/>
<line x1="352.11" y1="337.6" x2="352.11" y2="358.6" stroke="#2a2a2a" stroke-width="0.6"/>
<line x1="353.86" y1="337.6" x2="353.86" y2="358.6" stroke="#2a2a2a" stroke-width="0.6"/>
<line x1="355.4" y1="337.6" x2="355.4" y2="358.6" stroke="#2a2a2a" stroke-width="0.6"/>
<line x1="356.49" y1="337.6" x2="356.49" y2="358.6" stroke="#2a2a2a" stroke-width="0.6"/>
<line x1="357.58" y1="337.6" x2="357.58" y2="358.6" stroke="#2a2a2a" stroke-width="0.6"/>
<line x1="359.77" y1="337.6" x2="359.77" y2="358.6" stroke="#2a2a2a" stroke-width="0.6"/>
<line x1="361.53" y1="337.6" x2="361.53" y2="358.6" stroke="#2a2a2a" stroke-width="0.6"/>
<line x1="363.06" y1="337.6" x2="363.06" y2="358.6" stroke="#2a2a2a" stroke-width="0.6"/>
<line x1="364.59" y1="337.6" x2="364.59" y2="358.6" stroke="#2a2a2a" stroke-width="0.6"/>
<line x1="366.34" y1="337.6" x2="366.34" y2="358.6" stroke="#000" stroke-width="0.6"/>
<line x1="367" y1="337.6" x2="367" y2="358.6" stroke="#2a2a2a" stroke-width="0.6"/>
<line x1="369.63" y1="337.6" x2="369.63" y2="358.6" stroke="#2a2a2a" stroke-width="0.6"/>
<line x1="371.16" y1="337.6" x2="371.16" y2="358.6" stroke="#2a2a2a" stroke-width="0.6"/>
<line x1="372.91" y1="337.6" x2="372.91" y2="358.6" stroke="#2a2a2a" stroke-width="0.6"/>
<line x1="374.66" y1="337.6" x2="374.66" y2="358.6" stroke="#2a2a2a" stroke-width="0.6"/>
<line x1="376.2" y1="337.6" x2="376.2" y2="358.6" stroke="#2a2a2a" stroke-width="0.6"/>
<line x1="377.73" y1="337.6" x2="377.73" y2="358.6" stroke="#2a2a2a" stroke-width="0.6"/>
<line x1="379.48" y1="337.6" x2="379.48" y2="358.6" stroke="#2a2a2a" stroke-width="0.6"/>
<line x1="381.23" y1="337.6" x2="381.23" y2="358.6" stroke="#2a2a2a" stroke-width="0.6"/>
<line x1="382.77" y1="337.6" x2="382.77" y2="358.6" stroke="#2a2a2a" stroke-width="0.6"/>
<line x1="384.3" y1="337.6" x2="384.3" y2="358.6" stroke="#000" stroke-width="0.6"/>
<line x1="386.05" y1="337.6" x2="386.05" y2="358.6" stroke="#2a2a2a" stroke-width="0.6"/>
<line x1="387.58" y1="337.6" x2="387.58" y2="358.6" stroke="#2a2a2a" stroke-width="0.6"/>
<line x1="388.9" y1="337.6" x2="388.9" y2="358.6" stroke="#2a2a2a" stroke-width="0.6"/>
<line x1="389.99" y1="337.6" x2="389.99" y2="358.6" stroke="#2a2a2a" stroke-width="0.6"/>
<line x1="391.09" y1="337.6" x2="391.09" y2="358.6" stroke="#2a2a2a" stroke-width="0.6"/>
<line x1="392.18" y1="337.6" x2="392.18" y2="358.6" stroke="#2a2a2a" stroke-width="0.6"/>
<line x1="395.9" y1="337.6" x2="395.9" y2="358.6" stroke="#2a2a2a" stroke-width="0.6"/>
<line x1="399.19" y1="337.6" x2="399.19" y2="358.6" stroke="#2a2a2a" stroke-width="0.6"/>
<line x1="402.03" y1="337.6" x2="402.03" y2="358.6" stroke="#2a2a2a" stroke-width="0.6"/>
<line x1="408.38" y1="337.6" x2="408.38" y2="358.6" stroke="#2a2a2a" stroke-width="0.6"/>
<rect x="276.5" y="358.5" width="3.51" height="5.3" fill="#e83040"/>
<rect x="279.96" y="358.5" width="20.13" height="5.3" fill="#ff4a4a"/>
<rect x="300.04" y="358.5" width="9.63" height="5.3" fill="#f86272"/>
<rect x="309.62" y="358.5" width="15.08" height="5.3" fill="#ff7f7f"/>
<rect x="324.65" y="358.5" width="18.8" height="5.3" fill="#ffb9e1"/>
<rect x="343.4" y="358.5" width="16.68" height="5.3" fill="#d4d4fc"/>
<rect x="360.02" y="358.5" width="14.01" height="5.3" fill="#c4c4fa"/>
<rect x="373.99" y="358.5" width="11.49" height="5.3" fill="#8484f8"/>
<rect x="385.43" y="358.5" width="18.67" height="5.3" fill="#5a5af0"/>
<rect x="404.05" y="358.5" width="5.5" height="5.3" fill="#2212d0"/>
<line x1="299.12" y1="358.5" x2="299.12" y2="363.8" stroke="#000" stroke-width="0.5" stroke-opacity="0.12"/>
<line x1="303.94" y1="358.5" x2="303.94" y2="363.8" stroke="#000" stroke-width="0.5" stroke-opacity="0.12"/>
<line x1="305.47" y1="358.5" x2="305.47" y2="363.8" stroke="#000" stroke-width="0.5" stroke-opacity="0.12"/>
<line x1="311.6" y1="358.5" x2="311.6" y2="363.8" stroke="#000" stroke-width="0.5" stroke-opacity="0.12"/>
<line x1="317.08" y1="358.5" x2="317.08" y2="363.8" stroke="#000" stroke-width="0.5" stroke-opacity="0.12"/>
<line x1="322.55" y1="358.5" x2="322.55" y2="363.8" stroke="#000" stroke-width="0.5" stroke-opacity="0.12"/>
<line x1="325.84" y1="358.5" x2="325.84" y2="363.8" stroke="#000" stroke-width="0.5" stroke-opacity="0.12"/>
<line x1="327.37" y1="358.5" x2="327.37" y2="363.8" stroke="#000" stroke-width="0.5" stroke-opacity="0.12"/>
<line x1="328.68" y1="358.5" x2="328.68" y2="363.8" stroke="#000" stroke-width="0.5" stroke-opacity="0.12"/>
<line x1="330.21" y1="358.5" x2="330.21" y2="363.8" stroke="#000" stroke-width="0.5" stroke-opacity="0.12"/>
<line x1="331.97" y1="358.5" x2="331.97" y2="363.8" stroke="#000" stroke-width="0.5" stroke-opacity="0.12"/>
<line x1="333.5" y1="358.5" x2="333.5" y2="363.8" stroke="#000" stroke-width="0.5" stroke-opacity="0.12"/>
<line x1="335.69" y1="358.5" x2="335.69" y2="363.8" stroke="#000" stroke-width="0.5" stroke-opacity="0.12"/>
<line x1="336.78" y1="358.5" x2="336.78" y2="363.8" stroke="#000" stroke-width="0.5" stroke-opacity="0.12"/>
<line x1="337.88" y1="358.5" x2="337.88" y2="363.8" stroke="#000" stroke-width="0.5" stroke-opacity="0.12"/>
<line x1="339.63" y1="358.5" x2="339.63" y2="363.8" stroke="#000" stroke-width="0.5" stroke-opacity="0.12"/>
<line x1="341.16" y1="358.5" x2="341.16" y2="363.8" stroke="#000" stroke-width="0.5" stroke-opacity="0.12"/>
<line x1="342.91" y1="358.5" x2="342.91" y2="363.8" stroke="#000" stroke-width="0.5" stroke-opacity="0.12"/>
<line x1="345.54" y1="358.5" x2="345.54" y2="363.8" stroke="#000" stroke-width="0.5" stroke-opacity="0.12"/>
<line x1="347.07" y1="358.5" x2="347.07" y2="363.8" stroke="#000" stroke-width="0.5" stroke-opacity="0.12"/>
<line x1="348.83" y1="358.5" x2="348.83" y2="363.8" stroke="#000" stroke-width="0.5" stroke-opacity="0.12"/>
<line x1="350.58" y1="358.5" x2="350.58" y2="363.8" stroke="#000" stroke-width="0.5" stroke-opacity="0.12"/>
<line x1="352.11" y1="358.5" x2="352.11" y2="363.8" stroke="#000" stroke-width="0.5" stroke-opacity="0.12"/>
<line x1="353.86" y1="358.5" x2="353.86" y2="363.8" stroke="#000" stroke-width="0.5" stroke-opacity="0.12"/>
<line x1="355.4" y1="358.5" x2="355.4" y2="363.8" stroke="#000" stroke-width="0.5" stroke-opacity="0.12"/>
<line x1="356.49" y1="358.5" x2="356.49" y2="363.8" stroke="#000" stroke-width="0.5" stroke-opacity="0.12"/>
<line x1="357.58" y1="358.5" x2="357.58" y2="363.8" stroke="#000" stroke-width="0.5" stroke-opacity="0.12"/>
<line x1="359.77" y1="358.5" x2="359.77" y2="363.8" stroke="#000" stroke-width="0.5" stroke-opacity="0.12"/>
<line x1="361.53" y1="358.5" x2="361.53" y2="363.8" stroke="#000" stroke-width="0.5" stroke-opacity="0.12"/>
<line x1="363.06" y1="358.5" x2="363.06" y2="363.8" stroke="#000" stroke-width="0.5" stroke-opacity="0.12"/>
<line x1="364.59" y1="358.5" x2="364.59" y2="363.8" stroke="#000" stroke-width="0.5" stroke-opacity="0.12"/>
<line x1="366.34" y1="358.5" x2="366.34" y2="363.8" stroke="#000" stroke-width="0.5" stroke-opacity="0.12"/>
<line x1="367" y1="358.5" x2="367" y2="363.8" stroke="#000" stroke-width="0.5" stroke-opacity="0.12"/>
<line x1="369.63" y1="358.5" x2="369.63" y2="363.8" stroke="#000" stroke-width="0.5" stroke-opacity="0.12"/>
<line x1="371.16" y1="358.5" x2="371.16" y2="363.8" stroke="#000" stroke-width="0.5" stroke-opacity="0.12"/>
<line x1="372.91" y1="358.5" x2="372.91" y2="363.8" stroke="#000" stroke-width="0.5" stroke-opacity="0.12"/>
<line x1="374.66" y1="358.5" x2="374.66" y2="363.8" stroke="#000" stroke-width="0.5" stroke-opacity="0.12"/>
<line x1="376.2" y1="358.5" x2="376.2" y2="363.8" stroke="#000" stroke-width="0.5" stroke-opacity="0.12"/>
<line x1="377.73" y1="358.5" x2="377.73" y2="363.8" stroke="#000" stroke-width="0.5" stroke-opacity="0.12"/>
<line x1="379.48" y1="358.5" x2="379.48" y2="363.8" stroke="#000" stroke-width="0.5" stroke-opacity="0.12"/>
<line x1="381.23" y1="358.5" x2="381.23" y2="363.8" stroke="#000" stroke-width="0.5" stroke-opacity="0.12"/>
<line x1="382.77" y1="358.5" x2="382.77" y2="363.8" stroke="#000" stroke-width="0.5" stroke-opacity="0.12"/>
<line x1="384.3" y1="358.5" x2="384.3" y2="363.8" stroke="#000" stroke-width="0.5" stroke-opacity="0.12"/>
<line x1="386.05" y1="358.5" x2="386.05" y2="363.8" stroke="#000" stroke-width="0.5" stroke-opacity="0.12"/>
<line x1="387.58" y1="358.5" x2="387.58" y2="363.8" stroke="#000" stroke-width="0.5" stroke-opacity="0.12"/>
<line x1="388.9" y1="358.5" x2="388.9" y2="363.8" stroke="#000" stroke-width="0.5" stroke-opacity="0.12"/>
<line x1="389.99" y1="358.5" x2="389.99" y2="363.8" stroke="#000" stroke-width="0.5" stroke-opacity="0.12"/>
<line x1="391.09" y1="358.5" x2="391.09" y2="363.8" stroke="#000" stroke-width="0.5" stroke-opacity="0.12"/>
<line x1="392.18" y1="358.5" x2="392.18" y2="363.8" stroke="#000" stroke-width="0.5" stroke-opacity="0.12"/>
<line x1="395.9" y1="358.5" x2="395.9" y2="363.8" stroke="#000" stroke-width="0.5" stroke-opacity="0.12"/>
<line x1="399.19" y1="358.5" x2="399.19" y2="363.8" stroke="#000" stroke-width="0.5" stroke-opacity="0.12"/>
<line x1="402.03" y1="358.5" x2="402.03" y2="363.8" stroke="#000" stroke-width="0.5" stroke-opacity="0.12"/>
<line x1="408.38" y1="358.5" x2="408.38" y2="363.8" stroke="#000" stroke-width="0.5" stroke-opacity="0.12"/>
<text x="277.6" y="366.9" font-size="3.37" fill="#f22">"SASP" (positively correlated)</text>
<line x1="343" y1="358.5" x2="343" y2="406.2" stroke="#aaa" stroke-width="0.4" stroke-dasharray="0.8,0.8"/>
<text x="274.2" y="372.5" font-size="3.9" text-anchor="end" fill="#444">1.0</text>
<line x1="275.3" y1="371.1" x2="276.5" y2="371.1" stroke="#999" stroke-width="0.4"/>
<line x1="276.5" y1="371.1" x2="416.8" y2="371.1" stroke="#e4e4e4" stroke-width="0.4" stroke-dasharray="0.8,0.8"/>
<text x="274.2" y="381.2" font-size="3.9" text-anchor="end" fill="#444">0.5</text>
<line x1="275.3" y1="379.8" x2="276.5" y2="379.8" stroke="#999" stroke-width="0.4"/>
<line x1="276.5" y1="379.8" x2="416.8" y2="379.8" stroke="#e4e4e4" stroke-width="0.4" stroke-dasharray="0.8,0.8"/>
<text x="274.2" y="390" font-size="3.9" text-anchor="end" fill="#444">0.0</text>
<line x1="275.3" y1="388.6" x2="276.5" y2="388.6" stroke="#999" stroke-width="0.4"/>
<text x="274.2" y="398.6" font-size="3.9" text-anchor="end" fill="#444">-0.5</text>
<line x1="275.3" y1="397.2" x2="276.5" y2="397.2" stroke="#999" stroke-width="0.4"/>
<line x1="276.5" y1="397.2" x2="416.8" y2="397.2" stroke="#e4e4e4" stroke-width="0.4" stroke-dasharray="0.8,0.8"/>
<text x="274.2" y="407.3" font-size="3.9" text-anchor="end" fill="#444">-1.0</text>
<line x1="275.3" y1="405.9" x2="276.5" y2="405.9" stroke="#999" stroke-width="0.4"/>
<path d="M276.5,388.6 L276.5,376.8 L277.17,379.2 L278.5,380.8 L281.42,382.8 L286.34,384.3 L296.18,385.5 L308.95,386.5 L323.05,387.2 L336.35,387.9 L343,388.4 L343,388.6 Z" fill="#bdbdbd"/>
<path d="M343,388.5 L343,388.8 L356.3,389.4 L373.59,390.1 L389.55,391.3 L400.19,392.5 L405.51,394.6 L408.17,397.8 L409.23,403.9 L410.03,404.3 L410.03,388.5 Z" fill="#bdbdbd"/>
<text x="330.7" y="386.1" font-size="3.1" fill="#222">Zero cross at 6571</text>
<text x="346.99" y="404.9" font-size="3.55" fill="#33f">Non-SASP (negatively correlated)</text>
<text x="276.5" y="411.9" font-size="3.9" text-anchor="middle" fill="#333">0</text>
<text x="296.96" y="411.9" font-size="3.9" text-anchor="middle" fill="#333">2,000</text>
<text x="317.42" y="411.9" font-size="3.9" text-anchor="middle" fill="#333">4,000</text>
<text x="337.88" y="411.9" font-size="3.9" text-anchor="middle" fill="#333">6,000</text>
<text x="358.35" y="411.9" font-size="3.9" text-anchor="middle" fill="#333">8,000</text>
<text x="378.81" y="411.9" font-size="3.9" text-anchor="middle" fill="#333">10,000</text>
<text x="399.27" y="411.9" font-size="3.9" text-anchor="middle" fill="#333">12,000</text>
<text x="346.65" y="416.9" font-size="4.1" text-anchor="middle" fill="#222">Rank in Ordered Dataset</text>
<rect x="280.5" y="421" width="112.3" height="5.9" fill="#fff" stroke="#999" stroke-width="0.5"/>
<line x1="281.4" y1="424.5" x2="286.3" y2="424.5" stroke="#0f0" stroke-width="0.8"/>
<text x="286.9" y="426" font-size="4.1" fill="#222">Enrichment profile</text>
<line x1="322.1" y1="424.5" x2="327" y2="424.5" stroke="#333" stroke-width="0.6"/>
<text x="327.9" y="426" font-size="4.1" fill="#222">Hits</text>
<line x1="345.3" y1="424.5" x2="349.8" y2="424.5" stroke="#bbb" stroke-width="0.6"/>
<text x="350.7" y="426" font-size="4.1" fill="#222">Ranking metric scores</text>
<path d="M276.4,278 L299,305.6 L299.7,300.5 L303.3,304.8 L305.7,298.1 L311.2,305 L312.8,302.1 L316.8,306.5 L318,305.3 L321.5,310.3 L323.1,308.4 L326.3,311.6 L329.4,312.9 L331,312.4 L335,317.1 L337.4,317.9 L339.7,319.5 L343.2,321.9 L347.9,327.4 L351.1,329.3 L354.3,332.2 L357.1,333.5 L358.7,332.5 L360.9,333.8 L362.2,331.4 L365.3,332.2 L366.6,324.3 L368.5,322.4 L370.1,323.5 L371.7,320.3 L374.1,318.7 L376.4,315.6 L379.6,310.8 L382,306.1 L384.4,305.3 L385.9,304.5 L387.5,297.3 L390.7,292.6 L391.5,287 L392.3,283.9 L393.8,285 L395.4,283.1 L396.7,285 L397.8,282.8 L399.4,285.5 L401,282.8 L402.1,284.7 L403.4,280.7 L408.9,287.8 L409.2,276.8" fill="none" stroke="#0f0" stroke-width="1.05" stroke-linejoin="round"/>
<text x="280.6" y="330.1" font-size="4.9" fill="#111">NES= -1.87</text>
<text x="280.6" y="335.8" font-size="4.9" fill="#111">FDR q-value= 0.017</text>
<text x="396.2" y="326.6" font-size="3.2" fill="#222">TXNL4A</text>
<text x="391" y="333.8" font-size="3.2" fill="#222">BUD31</text>
<text x="407.3" y="333.8" font-size="3.2" fill="#222">U2AF1</text>
<line x1="399.4" y1="333.5" x2="399.4" y2="337.6" stroke="#333" stroke-width="0.45"/>
<line x1="398.6" y1="336" x2="400.2" y2="336" stroke="#333" stroke-width="0.35"/>
<line x1="402.5" y1="327.6" x2="402.5" y2="337.6" stroke="#333" stroke-width="0.45"/>
<line x1="401.7" y1="336" x2="403.3" y2="336" stroke="#333" stroke-width="0.35"/>
<line x1="409" y1="334" x2="409" y2="337.6" stroke="#333" stroke-width="0.45"/>
<line x1="408.2" y1="336" x2="409.8" y2="336" stroke="#333" stroke-width="0.35"/>
<rect x="476.5" y="264.1" width="164.5" height="170" fill="#f0f0f0"/>
<rect x="496.4" y="274.3" width="142.6" height="132" fill="#fff"/>
<text x="496" y="272.4" font-size="6.6" font-weight="bold" fill="#111">Enrichment plot: KEGG_DNA_REPLICATION</text>
<line x1="496.4" y1="282.4" x2="639" y2="282.4" stroke="#ececec" stroke-width="0.4"/>
<text x="494.4" y="283.9" font-size="4.1" text-anchor="end" fill="#333">0.0</text>
<line x1="495.2" y1="282.4" x2="496.4" y2="282.4" stroke="#999" stroke-width="0.4"/>
<line x1="496.4" y1="293.2" x2="639" y2="293.2" stroke="#ececec" stroke-width="0.4"/>
<text x="494.4" y="294.7" font-size="4.1" text-anchor="end" fill="#333">-0.1</text>
<line x1="495.2" y1="293.2" x2="496.4" y2="293.2" stroke="#999" stroke-width="0.4"/>
<line x1="496.4" y1="304" x2="639" y2="304" stroke="#ececec" stroke-width="0.4"/>
<text x="494.4" y="305.5" font-size="4.1" text-anchor="end" fill="#333">-0.2</text>
<line x1="495.2" y1="304" x2="496.4" y2="304" stroke="#999" stroke-width="0.4"/>
<line x1="496.4" y1="314.8" x2="639" y2="314.8" stroke="#ececec" stroke-width="0.4"/>
<text x="494.4" y="316.3" font-size="4.1" text-anchor="end" fill="#333">-0.3</text>
<line x1="495.2" y1="314.8" x2="496.4" y2="314.8" stroke="#999" stroke-width="0.4"/>
<line x1="496.4" y1="325.6" x2="639" y2="325.6" stroke="#ececec" stroke-width="0.4"/>
<text x="494.4" y="327.1" font-size="4.1" text-anchor="end" fill="#333">-0.4</text>
<line x1="495.2" y1="325.6" x2="496.4" y2="325.6" stroke="#999" stroke-width="0.4"/>
<line x1="496.4" y1="336.4" x2="639" y2="336.4" stroke="#ececec" stroke-width="0.4"/>
<text x="494.4" y="337.9" font-size="4.1" text-anchor="end" fill="#333">-0.5</text>
<line x1="495.2" y1="336.4" x2="496.4" y2="336.4" stroke="#999" stroke-width="0.4"/>
<line x1="496.4" y1="282.4" x2="639" y2="282.4" stroke="#c8c8c8" stroke-width="0.6"/>
<line x1="517.18" y1="274.3" x2="517.18" y2="337.5" stroke="#ececec" stroke-width="0.4"/>
<line x1="517.18" y1="366.5" x2="517.18" y2="406.2" stroke="#ececec" stroke-width="0.4" stroke-dasharray="0.8,0.8"/>
<line x1="537.97" y1="274.3" x2="537.97" y2="337.5" stroke="#ececec" stroke-width="0.4"/>
<line x1="537.97" y1="366.5" x2="537.97" y2="406.2" stroke="#ececec" stroke-width="0.4" stroke-dasharray="0.8,0.8"/>
<line x1="558.75" y1="274.3" x2="558.75" y2="337.5" stroke="#ececec" stroke-width="0.4"/>
<line x1="558.75" y1="366.5" x2="558.75" y2="406.2" stroke="#ececec" stroke-width="0.4" stroke-dasharray="0.8,0.8"/>
<line x1="579.54" y1="274.3" x2="579.54" y2="337.5" stroke="#ececec" stroke-width="0.4"/>
<line x1="579.54" y1="366.5" x2="579.54" y2="406.2" stroke="#ececec" stroke-width="0.4" stroke-dasharray="0.8,0.8"/>
<line x1="600.32" y1="274.3" x2="600.32" y2="337.5" stroke="#ececec" stroke-width="0.4"/>
<line x1="600.32" y1="366.5" x2="600.32" y2="406.2" stroke="#ececec" stroke-width="0.4" stroke-dasharray="0.8,0.8"/>
<line x1="621.11" y1="274.3" x2="621.11" y2="337.5" stroke="#ececec" stroke-width="0.4"/>
<line x1="621.11" y1="366.5" x2="621.11" y2="406.2" stroke="#ececec" stroke-width="0.4" stroke-dasharray="0.8,0.8"/>
<line x1="496.4" y1="274.3" x2="496.4" y2="406.2" stroke="#aaa" stroke-width="0.5"/>
<line x1="639" y1="274.3" x2="639" y2="406.2" stroke="#ccc" stroke-width="0.4"/>
<line x1="496.4" y1="337.5" x2="639" y2="337.5" stroke="#bbb" stroke-width="0.5"/>
<line x1="496.4" y1="406.2" x2="639" y2="406.2" stroke="#aaa" stroke-width="0.5"/>
<text transform="translate(485.4,305.6) rotate(-90)" font-size="5.0" text-anchor="middle" fill="#333">Enrichment score (ES)</text>
<text transform="translate(485.6,384.8) rotate(-90)" font-size="4.1" text-anchor="middle" fill="#333" stroke="#333" stroke-width="0.1">Ranked list metric (Signal2Noise)</text>
<line x1="502.1" y1="337.6" x2="502.1" y2="358.6" stroke="#3a3a3a" stroke-width="0.6"/>
<line x1="514.1" y1="337.6" x2="514.1" y2="358.6" stroke="#3a3a3a" stroke-width="0.6"/>
<line x1="535.6" y1="337.6" x2="535.6" y2="358.6" stroke="#3a3a3a" stroke-width="0.6"/>
<line x1="552.7" y1="337.6" x2="552.7" y2="358.6" stroke="#3a3a3a" stroke-width="0.6"/>
<line x1="559" y1="337.6" x2="559" y2="358.6" stroke="#3a3a3a" stroke-width="0.6"/>
<line x1="565.8" y1="337.6" x2="565.8" y2="358.6" stroke="#3a3a3a" stroke-width="0.6"/>
<line x1="567.4" y1="337.6" x2="567.4" y2="358.6" stroke="#3a3a3a" stroke-width="0.6"/>
<line x1="568.9" y1="337.6" x2="568.9" y2="358.6" stroke="#3a3a3a" stroke-width="0.6"/>
<line x1="570.6" y1="337.6" x2="570.6" y2="358.6" stroke="#3a3a3a" stroke-width="0.6"/>
<line x1="576.8" y1="337.6" x2="576.8" y2="358.6" stroke="#3a3a3a" stroke-width="0.6"/>
<line x1="577.9" y1="337.6" x2="577.9" y2="358.6" stroke="#3a3a3a" stroke-width="0.6"/>
<line x1="579" y1="337.6" x2="579" y2="358.6" stroke="#3a3a3a" stroke-width="0.6"/>
<line x1="590.3" y1="337.6" x2="590.3" y2="358.6" stroke="#3a3a3a" stroke-width="0.6"/>
<line x1="591.4" y1="337.6" x2="591.4" y2="358.6" stroke="#3a3a3a" stroke-width="0.6"/>
<line x1="596.5" y1="337.6" x2="596.5" y2="358.6" stroke="#3a3a3a" stroke-width="0.6"/>
<line x1="598.7" y1="337.6" x2="598.7" y2="358.6" stroke="#3a3a3a" stroke-width="0.6"/>
<line x1="600.9" y1="337.6" x2="600.9" y2="358.6" stroke="#3a3a3a" stroke-width="0.6"/>
<line x1="602.4" y1="337.6" x2="602.4" y2="358.6" stroke="#3a3a3a" stroke-width="0.6"/>
<line x1="607.9" y1="337.6" x2="607.9" y2="358.6" stroke="#3a3a3a" stroke-width="0.6"/>
<line x1="610" y1="337.6" x2="610" y2="358.6" stroke="#3a3a3a" stroke-width="0.6"/>
<line x1="616.6" y1="337.6" x2="616.6" y2="358.6" stroke="#3a3a3a" stroke-width="0.6"/>
<line x1="617.7" y1="337.6" x2="617.7" y2="358.6" stroke="#3a3a3a" stroke-width="0.6"/>
<line x1="619.2" y1="337.6" x2="619.2" y2="358.6" stroke="#3a3a3a" stroke-width="0.6"/>
<line x1="620.6" y1="337.6" x2="620.6" y2="358.6" stroke="#3a3a3a" stroke-width="0.6"/>
<line x1="621.4" y1="337.6" x2="621.4" y2="358.6" stroke="#3a3a3a" stroke-width="0.6"/>
<line x1="624.3" y1="337.6" x2="624.3" y2="358.6" stroke="#3a3a3a" stroke-width="0.6"/>
<rect x="496.4" y="358.5" width="3.56" height="5.3" fill="#e83040"/>
<rect x="499.91" y="358.5" width="20.45" height="5.3" fill="#ff4a4a"/>
<rect x="520.31" y="358.5" width="9.78" height="5.3" fill="#f86272"/>
<rect x="530.04" y="358.5" width="15.32" height="5.3" fill="#ff7f7f"/>
<rect x="545.31" y="358.5" width="19.1" height="5.3" fill="#ffb9e1"/>
<rect x="564.36" y="358.5" width="16.94" height="5.3" fill="#d4d4fc"/>
<rect x="581.24" y="358.5" width="14.24" height="5.3" fill="#c4c4fa"/>
<rect x="595.43" y="358.5" width="11.67" height="5.3" fill="#8484f8"/>
<rect x="607.05" y="358.5" width="18.96" height="5.3" fill="#5a5af0"/>
<rect x="625.96" y="358.5" width="5.59" height="5.3" fill="#2212d0"/>
<line x1="502.1" y1="358.5" x2="502.1" y2="363.8" stroke="#000" stroke-width="0.5" stroke-opacity="0.12"/>
<line x1="514.1" y1="358.5" x2="514.1" y2="363.8" stroke="#000" stroke-width="0.5" stroke-opacity="0.12"/>
<line x1="535.6" y1="358.5" x2="535.6" y2="363.8" stroke="#000" stroke-width="0.5" stroke-opacity="0.12"/>
<line x1="552.7" y1="358.5" x2="552.7" y2="363.8" stroke="#000" stroke-width="0.5" stroke-opacity="0.12"/>
<line x1="559" y1="358.5" x2="559" y2="363.8" stroke="#000" stroke-width="0.5" stroke-opacity="0.12"/>
<line x1="565.8" y1="358.5" x2="565.8" y2="363.8" stroke="#000" stroke-width="0.5" stroke-opacity="0.12"/>
<line x1="567.4" y1="358.5" x2="567.4" y2="363.8" stroke="#000" stroke-width="0.5" stroke-opacity="0.12"/>
<line x1="568.9" y1="358.5" x2="568.9" y2="363.8" stroke="#000" stroke-width="0.5" stroke-opacity="0.12"/>
<line x1="570.6" y1="358.5" x2="570.6" y2="363.8" stroke="#000" stroke-width="0.5" stroke-opacity="0.12"/>
<line x1="576.8" y1="358.5" x2="576.8" y2="363.8" stroke="#000" stroke-width="0.5" stroke-opacity="0.12"/>
<line x1="577.9" y1="358.5" x2="577.9" y2="363.8" stroke="#000" stroke-width="0.5" stroke-opacity="0.12"/>
<line x1="579" y1="358.5" x2="579" y2="363.8" stroke="#000" stroke-width="0.5" stroke-opacity="0.12"/>
<line x1="590.3" y1="358.5" x2="590.3" y2="363.8" stroke="#000" stroke-width="0.5" stroke-opacity="0.12"/>
<line x1="591.4" y1="358.5" x2="591.4" y2="363.8" stroke="#000" stroke-width="0.5" stroke-opacity="0.12"/>
<line x1="596.5" y1="358.5" x2="596.5" y2="363.8" stroke="#000" stroke-width="0.5" stroke-opacity="0.12"/>
<line x1="598.7" y1="358.5" x2="598.7" y2="363.8" stroke="#000" stroke-width="0.5" stroke-opacity="0.12"/>
<line x1="600.9" y1="358.5" x2="600.9" y2="363.8" stroke="#000" stroke-width="0.5" stroke-opacity="0.12"/>
<line x1="602.4" y1="358.5" x2="602.4" y2="363.8" stroke="#000" stroke-width="0.5" stroke-opacity="0.12"/>
<line x1="607.9" y1="358.5" x2="607.9" y2="363.8" stroke="#000" stroke-width="0.5" stroke-opacity="0.12"/>
<line x1="610" y1="358.5" x2="610" y2="363.8" stroke="#000" stroke-width="0.5" stroke-opacity="0.12"/>
<line x1="616.6" y1="358.5" x2="616.6" y2="363.8" stroke="#000" stroke-width="0.5" stroke-opacity="0.12"/>
<line x1="617.7" y1="358.5" x2="617.7" y2="363.8" stroke="#000" stroke-width="0.5" stroke-opacity="0.12"/>
<line x1="619.2" y1="358.5" x2="619.2" y2="363.8" stroke="#000" stroke-width="0.5" stroke-opacity="0.12"/>
<line x1="620.6" y1="358.5" x2="620.6" y2="363.8" stroke="#000" stroke-width="0.5" stroke-opacity="0.12"/>
<line x1="621.4" y1="358.5" x2="621.4" y2="363.8" stroke="#000" stroke-width="0.5" stroke-opacity="0.12"/>
<line x1="624.3" y1="358.5" x2="624.3" y2="363.8" stroke="#000" stroke-width="0.5" stroke-opacity="0.12"/>
<text x="497.5" y="366.9" font-size="3.37" fill="#f22">"SASP" (positively correlated)</text>
<line x1="563.95" y1="358.5" x2="563.95" y2="406.2" stroke="#aaa" stroke-width="0.4" stroke-dasharray="0.8,0.8"/>
<text x="494.1" y="372.5" font-size="3.9" text-anchor="end" fill="#444">1.0</text>
<line x1="495.2" y1="371.1" x2="496.4" y2="371.1" stroke="#999" stroke-width="0.4"/>
<line x1="496.4" y1="371.1" x2="639" y2="371.1" stroke="#e4e4e4" stroke-width="0.4" stroke-dasharray="0.8,0.8"/>
<text x="494.1" y="381.2" font-size="3.9" text-anchor="end" fill="#444">0.5</text>
<line x1="495.2" y1="379.8" x2="496.4" y2="379.8" stroke="#999" stroke-width="0.4"/>
<line x1="496.4" y1="379.8" x2="639" y2="379.8" stroke="#e4e4e4" stroke-width="0.4" stroke-dasharray="0.8,0.8"/>
<text x="494.1" y="390" font-size="3.9" text-anchor="end" fill="#444">0.0</text>
<line x1="495.2" y1="388.6" x2="496.4" y2="388.6" stroke="#999" stroke-width="0.4"/>
<text x="494.1" y="398.6" font-size="3.9" text-anchor="end" fill="#444">-0.5</text>
<line x1="495.2" y1="397.2" x2="496.4" y2="397.2" stroke="#999" stroke-width="0.4"/>
<line x1="496.4" y1="397.2" x2="639" y2="397.2" stroke="#e4e4e4" stroke-width="0.4" stroke-dasharray="0.8,0.8"/>
<text x="494.1" y="407.3" font-size="3.9" text-anchor="end" fill="#444">-1.0</text>
<line x1="495.2" y1="405.9" x2="496.4" y2="405.9" stroke="#999" stroke-width="0.4"/>
<path d="M496.4,388.6 L496.4,376.8 L497.08,379.2 L498.43,380.8 L501.4,382.8 L506.4,384.3 L516.39,385.5 L529.36,386.5 L543.68,387.2 L557.19,387.9 L563.95,388.4 L563.95,388.6 Z" fill="#bdbdbd"/>
<path d="M563.95,388.5 L563.95,388.8 L577.46,389.4 L595.02,390.1 L611.24,391.3 L622.04,392.5 L627.45,394.6 L630.15,397.8 L631.23,403.9 L632.04,404.3 L632.04,388.5 Z" fill="#bdbdbd"/>
<text x="551.65" y="386.1" font-size="3.1" fill="#222">Zero cross at 6571</text>
<text x="568" y="404.9" font-size="3.55" fill="#33f">Non-SASP (negatively correlated)</text>
<text x="496.4" y="411.9" font-size="3.9" text-anchor="middle" fill="#333">0</text>
<text x="517.18" y="411.9" font-size="3.9" text-anchor="middle" fill="#333">2,000</text>
<text x="537.97" y="411.9" font-size="3.9" text-anchor="middle" fill="#333">4,000</text>
<text x="558.75" y="411.9" font-size="3.9" text-anchor="middle" fill="#333">6,000</text>
<text x="579.54" y="411.9" font-size="3.9" text-anchor="middle" fill="#333">8,000</text>
<text x="600.32" y="411.9" font-size="3.9" text-anchor="middle" fill="#333">10,000</text>
<text x="621.11" y="411.9" font-size="3.9" text-anchor="middle" fill="#333">12,000</text>
<text x="567.7" y="416.9" font-size="4.1" text-anchor="middle" fill="#222">Rank in Ordered Dataset</text>
<rect x="502.2" y="421" width="112.3" height="5.9" fill="#fff" stroke="#999" stroke-width="0.5"/>
<line x1="503.1" y1="424.5" x2="508" y2="424.5" stroke="#0f0" stroke-width="0.8"/>
<text x="508.6" y="426" font-size="4.1" fill="#222">Enrichment profile</text>
<line x1="543.8" y1="424.5" x2="548.7" y2="424.5" stroke="#333" stroke-width="0.6"/>
<text x="549.6" y="426" font-size="4.1" fill="#222">Hits</text>
<line x1="567" y1="424.5" x2="571.5" y2="424.5" stroke="#bbb" stroke-width="0.6"/>
<text x="572.4" y="426" font-size="4.1" fill="#222">Ranking metric scores</text>
<path d="M496.4,282.3 L501.9,286.6 L502.2,277.5 L513.8,286.6 L514.3,281.8 L535.2,298.6 L535.7,294.7 L552.3,308.1 L553.2,307.8 L554.2,308.4 L570,319.5 L576.3,324.3 L577.9,324.6 L582.7,327.4 L590.3,332.5 L592.2,331.4 L596.1,334.1 L597.7,331.4 L600.1,332.2 L600.9,328.7 L603.3,329.8 L604.5,327.1 L605.6,325.1 L607.7,317.9 L610.4,320.3 L612.4,317.9 L617.2,321.1 L618.3,308.4 L619.9,302.1 L620.7,293.4 L622.3,287.8 L623.5,283.9 L625.1,276.8 L631.8,282.3" fill="none" stroke="#0f0" stroke-width="1.05" stroke-linejoin="round"/>
<text x="500.5" y="330.6" font-size="4.9" fill="#111">NES= -1.67</text>
<text x="500.5" y="336.2" font-size="4.9" fill="#111">FDR q-value= 0.020</text>
<text x="619.3" y="315.2" font-size="3.2" fill="#222">RFC2</text>
<text x="619.3" y="319" font-size="3.2" fill="#222">RPA2</text>
<text x="619.3" y="322.6" font-size="3.2" fill="#222">MCM3</text>
<text x="610.4" y="326.2" font-size="3.2" fill="#222">RFC3</text>
<text x="619.3" y="326.2" font-size="3.2" fill="#222">PRIM1</text>
<text x="610.4" y="329.9" font-size="3.2" fill="#222">FEN1</text>
<text x="610.4" y="333.7" font-size="3.2" fill="#222">DNA2</text>
<text x="622.4" y="329.9" font-size="3.2" fill="#222">RNASEH2A</text>
<text x="622.4" y="333.7" font-size="3.2" fill="#222">MCM7</text>
<line x1="617.2" y1="331" x2="617.2" y2="337.6" stroke="#333" stroke-width="0.45"/>
<line x1="616.4" y1="336" x2="618" y2="336" stroke="#333" stroke-width="0.35"/>
<line x1="620.4" y1="325.8" x2="620.4" y2="337.6" stroke="#333" stroke-width="0.45"/>
<line x1="619.6" y1="336" x2="621.2" y2="336" stroke="#333" stroke-width="0.35"/>
<line x1="621.3" y1="333" x2="621.3" y2="337.6" stroke="#333" stroke-width="0.45"/>
<line x1="620.5" y1="336" x2="622.1" y2="336" stroke="#333" stroke-width="0.35"/>
</svg></body></html>
